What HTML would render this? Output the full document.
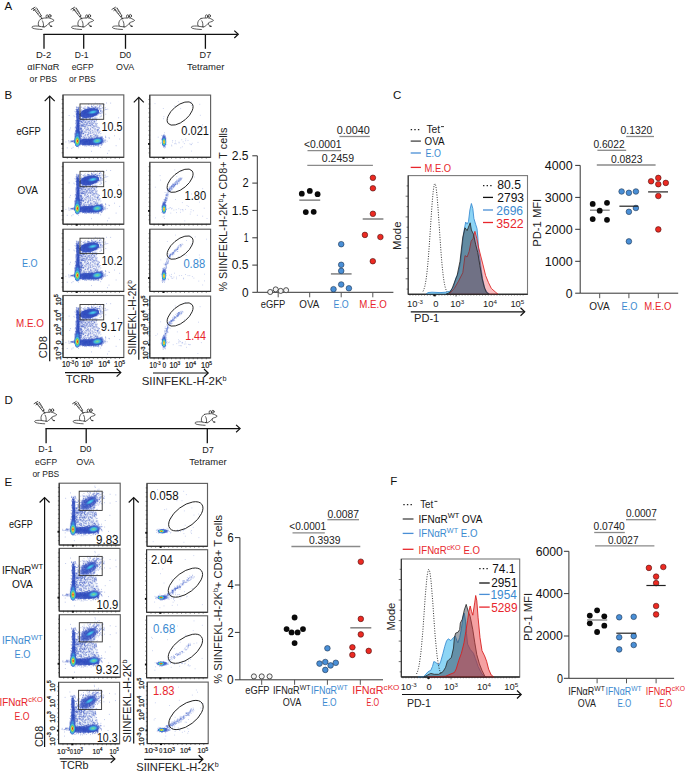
<!DOCTYPE html>
<html><head><meta charset="utf-8"><style>
html,body{margin:0;padding:0;background:#fff;overflow:hidden;}
svg{display:block;font-family:"Liberation Sans", sans-serif;}
</style></head><body>
<svg width="685" height="771" viewBox="0 0 685 771">
<defs><filter id="bl06" x="-20%" y="-20%" width="140%" height="140%"><feGaussianBlur stdDeviation="0.6"/></filter></defs>
<rect width="685" height="771" fill="#fff"/>
<text x="4.50" y="9.60" font-size="11.5" fill="#111" text-anchor="start">A</text>
<line x1="43.50" y1="34.30" x2="237.50" y2="34.30" stroke="#111" stroke-width="1.3"/>
<path d="M234.3 30.6 L238.3 34.3 L234.3 38" fill="none" stroke="#111" stroke-width="1.2"/>
<line x1="44.00" y1="34.00" x2="44.00" y2="48.80" stroke="#111" stroke-width="1.3"/>
<line x1="83.70" y1="34.00" x2="83.70" y2="48.80" stroke="#111" stroke-width="1.3"/>
<line x1="125.50" y1="34.00" x2="125.50" y2="48.80" stroke="#111" stroke-width="1.3"/>
<line x1="205.40" y1="34.00" x2="205.40" y2="48.80" stroke="#111" stroke-width="1.3"/>
<g transform="translate(28.00,4.00)"><g fill="none" stroke="#262626" stroke-width="0.75" stroke-linecap="round" stroke-linejoin="round">
<path d="M13.6 14.5 C11.7 15.4 10.6 17.1 10.3 19.1 C10.1 20.6 10.4 21.6 11.1 22.3 L13.2 22.6"/>
<path d="M14.4 16.8 C15.3 18.2 15.7 20.3 15.4 22.4"/>
<path d="M13.6 14.5 C15.4 14 17 13.9 18.4 14"/>
<ellipse cx="19.2" cy="12.4" rx="1.2" ry="1.6"/>
<ellipse cx="21.9" cy="11.9" rx="1.1" ry="1.5"/>
<path d="M20.6 13.9 C22.5 14.1 24.5 15.1 26.1 16.4 C25.3 17.3 24.3 17.8 23.2 17.9 C22.4 18 21.7 18.4 21.2 19"/>
<path d="M21.2 19 C20.9 20.3 21.3 21.3 22.3 21.9 L23.9 22.3"/>
<path d="M17.3 22.4 C18.6 21.8 19.6 21 20.3 19.8"/>
<path d="M10.8 22.1 C8.2 21.9 5.8 22 4.7 22.4 C3.6 22.9 3.8 23.8 5 24.3 C7 25 10.5 25.3 14 25.5"/>
</g>
<path d="M13.6 22.2 L17.2 22.6 L16.6 23.5 L14 23.3 Z" fill="#222"/>
<path d="M22 21.6 L24.2 22 L23.6 22.9 L22.3 22.7 Z" fill="#333"/><g fill="none" stroke="#2a2a2a" stroke-width="0.8" stroke-linecap="round" stroke-linejoin="round">
<path d="M3.4 5.4 L7 3.2 M5.2 4.3 L6.3 5.6 M5.3 6.6 L7.6 4.9 M6.4 5.8 L12.1 12.8 M8.6 3.9 L13.3 11.8 M12.1 12.8 L13.3 11.8 M12.7 12.3 L14 15"/>
<path d="M7.6 6.9 L9.2 5.8 M8.7 8.3 L10.3 7.2 M9.8 9.7 L11.4 8.6" stroke-width="0.5"/>
</g></g>
<g transform="translate(67.60,4.00)"><g fill="none" stroke="#262626" stroke-width="0.75" stroke-linecap="round" stroke-linejoin="round">
<path d="M13.6 14.5 C11.7 15.4 10.6 17.1 10.3 19.1 C10.1 20.6 10.4 21.6 11.1 22.3 L13.2 22.6"/>
<path d="M14.4 16.8 C15.3 18.2 15.7 20.3 15.4 22.4"/>
<path d="M13.6 14.5 C15.4 14 17 13.9 18.4 14"/>
<ellipse cx="19.2" cy="12.4" rx="1.2" ry="1.6"/>
<ellipse cx="21.9" cy="11.9" rx="1.1" ry="1.5"/>
<path d="M20.6 13.9 C22.5 14.1 24.5 15.1 26.1 16.4 C25.3 17.3 24.3 17.8 23.2 17.9 C22.4 18 21.7 18.4 21.2 19"/>
<path d="M21.2 19 C20.9 20.3 21.3 21.3 22.3 21.9 L23.9 22.3"/>
<path d="M17.3 22.4 C18.6 21.8 19.6 21 20.3 19.8"/>
<path d="M10.8 22.1 C8.2 21.9 5.8 22 4.7 22.4 C3.6 22.9 3.8 23.8 5 24.3 C7 25 10.5 25.3 14 25.5"/>
</g>
<path d="M13.6 22.2 L17.2 22.6 L16.6 23.5 L14 23.3 Z" fill="#222"/>
<path d="M22 21.6 L24.2 22 L23.6 22.9 L22.3 22.7 Z" fill="#333"/><g fill="none" stroke="#2a2a2a" stroke-width="0.8" stroke-linecap="round" stroke-linejoin="round">
<path d="M3.4 5.4 L7 3.2 M5.2 4.3 L6.3 5.6 M5.3 6.6 L7.6 4.9 M6.4 5.8 L12.1 12.8 M8.6 3.9 L13.3 11.8 M12.1 12.8 L13.3 11.8 M12.7 12.3 L14 15"/>
<path d="M7.6 6.9 L9.2 5.8 M8.7 8.3 L10.3 7.2 M9.8 9.7 L11.4 8.6" stroke-width="0.5"/>
</g></g>
<g transform="translate(108.50,4.00)"><g fill="none" stroke="#262626" stroke-width="0.75" stroke-linecap="round" stroke-linejoin="round">
<path d="M13.6 14.5 C11.7 15.4 10.6 17.1 10.3 19.1 C10.1 20.6 10.4 21.6 11.1 22.3 L13.2 22.6"/>
<path d="M14.4 16.8 C15.3 18.2 15.7 20.3 15.4 22.4"/>
<path d="M13.6 14.5 C15.4 14 17 13.9 18.4 14"/>
<ellipse cx="19.2" cy="12.4" rx="1.2" ry="1.6"/>
<ellipse cx="21.9" cy="11.9" rx="1.1" ry="1.5"/>
<path d="M20.6 13.9 C22.5 14.1 24.5 15.1 26.1 16.4 C25.3 17.3 24.3 17.8 23.2 17.9 C22.4 18 21.7 18.4 21.2 19"/>
<path d="M21.2 19 C20.9 20.3 21.3 21.3 22.3 21.9 L23.9 22.3"/>
<path d="M17.3 22.4 C18.6 21.8 19.6 21 20.3 19.8"/>
<path d="M10.8 22.1 C8.2 21.9 5.8 22 4.7 22.4 C3.6 22.9 3.8 23.8 5 24.3 C7 25 10.5 25.3 14 25.5"/>
</g>
<path d="M13.6 22.2 L17.2 22.6 L16.6 23.5 L14 23.3 Z" fill="#222"/>
<path d="M22 21.6 L24.2 22 L23.6 22.9 L22.3 22.7 Z" fill="#333"/><g fill="none" stroke="#2a2a2a" stroke-width="0.8" stroke-linecap="round" stroke-linejoin="round">
<path d="M3.4 5.4 L7 3.2 M5.2 4.3 L6.3 5.6 M5.3 6.6 L7.6 4.9 M6.4 5.8 L12.1 12.8 M8.6 3.9 L13.3 11.8 M12.1 12.8 L13.3 11.8 M12.7 12.3 L14 15"/>
<path d="M7.6 6.9 L9.2 5.8 M8.7 8.3 L10.3 7.2 M9.8 9.7 L11.4 8.6" stroke-width="0.5"/>
</g></g>
<g transform="translate(187.40,4.00)"><g fill="none" stroke="#262626" stroke-width="0.75" stroke-linecap="round" stroke-linejoin="round">
<path d="M13.6 14.5 C11.7 15.4 10.6 17.1 10.3 19.1 C10.1 20.6 10.4 21.6 11.1 22.3 L13.2 22.6"/>
<path d="M14.4 16.8 C15.3 18.2 15.7 20.3 15.4 22.4"/>
<path d="M13.6 14.5 C15.4 14 17 13.9 18.4 14"/>
<ellipse cx="19.2" cy="12.4" rx="1.2" ry="1.6"/>
<ellipse cx="21.9" cy="11.9" rx="1.1" ry="1.5"/>
<path d="M20.6 13.9 C22.5 14.1 24.5 15.1 26.1 16.4 C25.3 17.3 24.3 17.8 23.2 17.9 C22.4 18 21.7 18.4 21.2 19"/>
<path d="M21.2 19 C20.9 20.3 21.3 21.3 22.3 21.9 L23.9 22.3"/>
<path d="M17.3 22.4 C18.6 21.8 19.6 21 20.3 19.8"/>
<path d="M10.8 22.1 C8.2 21.9 5.8 22 4.7 22.4 C3.6 22.9 3.8 23.8 5 24.3 C7 25 10.5 25.3 14 25.5"/>
</g>
<path d="M13.6 22.2 L17.2 22.6 L16.6 23.5 L14 23.3 Z" fill="#222"/>
<path d="M22 21.6 L24.2 22 L23.6 22.9 L22.3 22.7 Z" fill="#333"/></g>
<text x="36.00" y="57.80" font-size="9.6" fill="#222" text-anchor="start" textLength="15.2" lengthAdjust="spacingAndGlyphs">D-2</text>
<text x="27.20" y="69.60" font-size="9.6" fill="#222" text-anchor="start" textLength="32.2" lengthAdjust="spacingAndGlyphs">&#945;IFN&#945;R</text>
<text x="29.60" y="82.00" font-size="9.6" fill="#222" text-anchor="start" textLength="27.4" lengthAdjust="spacingAndGlyphs">or PBS</text>
<text x="74.80" y="57.80" font-size="9.6" fill="#222" text-anchor="start" textLength="13.8" lengthAdjust="spacingAndGlyphs">D-1</text>
<text x="71.70" y="69.60" font-size="9.6" fill="#222" text-anchor="start" textLength="21.9" lengthAdjust="spacingAndGlyphs">eGFP</text>
<text x="69.00" y="82.00" font-size="9.6" fill="#222" text-anchor="start" textLength="26.7" lengthAdjust="spacingAndGlyphs">or PBS</text>
<text x="119.50" y="57.80" font-size="9.6" fill="#222" text-anchor="start" textLength="11.7" lengthAdjust="spacingAndGlyphs">D0</text>
<text x="116.00" y="69.60" font-size="9.6" fill="#222" text-anchor="start" textLength="18.2" lengthAdjust="spacingAndGlyphs">OVA</text>
<text x="199.60" y="57.80" font-size="9.6" fill="#222" text-anchor="start" textLength="11.6" lengthAdjust="spacingAndGlyphs">D7</text>
<text x="187.00" y="69.60" font-size="9.6" fill="#222" text-anchor="start" textLength="37.4" lengthAdjust="spacingAndGlyphs">Tetramer</text>
<text x="4.40" y="404.40" font-size="11.5" fill="#111" text-anchor="start">D</text>
<line x1="45.60" y1="428.60" x2="239.50" y2="428.60" stroke="#111" stroke-width="1.3"/>
<path d="M236.1 424.9 L240.1 428.6 L236.1 432.3" fill="none" stroke="#111" stroke-width="1.2"/>
<line x1="46.10" y1="428.30" x2="46.10" y2="443.20" stroke="#111" stroke-width="1.3"/>
<line x1="86.20" y1="428.30" x2="86.20" y2="443.20" stroke="#111" stroke-width="1.3"/>
<line x1="207.30" y1="428.30" x2="207.30" y2="443.20" stroke="#111" stroke-width="1.3"/>
<g transform="translate(30.70,398.30)"><g fill="none" stroke="#262626" stroke-width="0.75" stroke-linecap="round" stroke-linejoin="round">
<path d="M13.6 14.5 C11.7 15.4 10.6 17.1 10.3 19.1 C10.1 20.6 10.4 21.6 11.1 22.3 L13.2 22.6"/>
<path d="M14.4 16.8 C15.3 18.2 15.7 20.3 15.4 22.4"/>
<path d="M13.6 14.5 C15.4 14 17 13.9 18.4 14"/>
<ellipse cx="19.2" cy="12.4" rx="1.2" ry="1.6"/>
<ellipse cx="21.9" cy="11.9" rx="1.1" ry="1.5"/>
<path d="M20.6 13.9 C22.5 14.1 24.5 15.1 26.1 16.4 C25.3 17.3 24.3 17.8 23.2 17.9 C22.4 18 21.7 18.4 21.2 19"/>
<path d="M21.2 19 C20.9 20.3 21.3 21.3 22.3 21.9 L23.9 22.3"/>
<path d="M17.3 22.4 C18.6 21.8 19.6 21 20.3 19.8"/>
<path d="M10.8 22.1 C8.2 21.9 5.8 22 4.7 22.4 C3.6 22.9 3.8 23.8 5 24.3 C7 25 10.5 25.3 14 25.5"/>
</g>
<path d="M13.6 22.2 L17.2 22.6 L16.6 23.5 L14 23.3 Z" fill="#222"/>
<path d="M22 21.6 L24.2 22 L23.6 22.9 L22.3 22.7 Z" fill="#333"/><g fill="none" stroke="#2a2a2a" stroke-width="0.8" stroke-linecap="round" stroke-linejoin="round">
<path d="M3.4 5.4 L7 3.2 M5.2 4.3 L6.3 5.6 M5.3 6.6 L7.6 4.9 M6.4 5.8 L12.1 12.8 M8.6 3.9 L13.3 11.8 M12.1 12.8 L13.3 11.8 M12.7 12.3 L14 15"/>
<path d="M7.6 6.9 L9.2 5.8 M8.7 8.3 L10.3 7.2 M9.8 9.7 L11.4 8.6" stroke-width="0.5"/>
</g></g>
<g transform="translate(69.20,398.30)"><g fill="none" stroke="#262626" stroke-width="0.75" stroke-linecap="round" stroke-linejoin="round">
<path d="M13.6 14.5 C11.7 15.4 10.6 17.1 10.3 19.1 C10.1 20.6 10.4 21.6 11.1 22.3 L13.2 22.6"/>
<path d="M14.4 16.8 C15.3 18.2 15.7 20.3 15.4 22.4"/>
<path d="M13.6 14.5 C15.4 14 17 13.9 18.4 14"/>
<ellipse cx="19.2" cy="12.4" rx="1.2" ry="1.6"/>
<ellipse cx="21.9" cy="11.9" rx="1.1" ry="1.5"/>
<path d="M20.6 13.9 C22.5 14.1 24.5 15.1 26.1 16.4 C25.3 17.3 24.3 17.8 23.2 17.9 C22.4 18 21.7 18.4 21.2 19"/>
<path d="M21.2 19 C20.9 20.3 21.3 21.3 22.3 21.9 L23.9 22.3"/>
<path d="M17.3 22.4 C18.6 21.8 19.6 21 20.3 19.8"/>
<path d="M10.8 22.1 C8.2 21.9 5.8 22 4.7 22.4 C3.6 22.9 3.8 23.8 5 24.3 C7 25 10.5 25.3 14 25.5"/>
</g>
<path d="M13.6 22.2 L17.2 22.6 L16.6 23.5 L14 23.3 Z" fill="#222"/>
<path d="M22 21.6 L24.2 22 L23.6 22.9 L22.3 22.7 Z" fill="#333"/><g fill="none" stroke="#2a2a2a" stroke-width="0.8" stroke-linecap="round" stroke-linejoin="round">
<path d="M3.4 5.4 L7 3.2 M5.2 4.3 L6.3 5.6 M5.3 6.6 L7.6 4.9 M6.4 5.8 L12.1 12.8 M8.6 3.9 L13.3 11.8 M12.1 12.8 L13.3 11.8 M12.7 12.3 L14 15"/>
<path d="M7.6 6.9 L9.2 5.8 M8.7 8.3 L10.3 7.2 M9.8 9.7 L11.4 8.6" stroke-width="0.5"/>
</g></g>
<g transform="translate(191.10,399.80)"><g fill="none" stroke="#262626" stroke-width="0.75" stroke-linecap="round" stroke-linejoin="round">
<path d="M13.6 14.5 C11.7 15.4 10.6 17.1 10.3 19.1 C10.1 20.6 10.4 21.6 11.1 22.3 L13.2 22.6"/>
<path d="M14.4 16.8 C15.3 18.2 15.7 20.3 15.4 22.4"/>
<path d="M13.6 14.5 C15.4 14 17 13.9 18.4 14"/>
<ellipse cx="19.2" cy="12.4" rx="1.2" ry="1.6"/>
<ellipse cx="21.9" cy="11.9" rx="1.1" ry="1.5"/>
<path d="M20.6 13.9 C22.5 14.1 24.5 15.1 26.1 16.4 C25.3 17.3 24.3 17.8 23.2 17.9 C22.4 18 21.7 18.4 21.2 19"/>
<path d="M21.2 19 C20.9 20.3 21.3 21.3 22.3 21.9 L23.9 22.3"/>
<path d="M17.3 22.4 C18.6 21.8 19.6 21 20.3 19.8"/>
<path d="M10.8 22.1 C8.2 21.9 5.8 22 4.7 22.4 C3.6 22.9 3.8 23.8 5 24.3 C7 25 10.5 25.3 14 25.5"/>
</g>
<path d="M13.6 22.2 L17.2 22.6 L16.6 23.5 L14 23.3 Z" fill="#222"/>
<path d="M22 21.6 L24.2 22 L23.6 22.9 L22.3 22.7 Z" fill="#333"/></g>
<text x="38.30" y="452.30" font-size="9.6" fill="#222" text-anchor="start" textLength="14.3" lengthAdjust="spacingAndGlyphs">D-1</text>
<text x="35.00" y="464.60" font-size="9.6" fill="#222" text-anchor="start" textLength="22.0" lengthAdjust="spacingAndGlyphs">eGFP</text>
<text x="32.40" y="476.90" font-size="9.6" fill="#222" text-anchor="start" textLength="26.8" lengthAdjust="spacingAndGlyphs">or PBS</text>
<text x="79.70" y="452.30" font-size="9.6" fill="#222" text-anchor="start" textLength="11.8" lengthAdjust="spacingAndGlyphs">D0</text>
<text x="76.20" y="464.60" font-size="9.6" fill="#222" text-anchor="start" textLength="18.4" lengthAdjust="spacingAndGlyphs">OVA</text>
<text x="202.30" y="452.60" font-size="9.6" fill="#222" text-anchor="start" textLength="11.6" lengthAdjust="spacingAndGlyphs">D7</text>
<text x="189.30" y="464.60" font-size="9.6" fill="#222" text-anchor="start" textLength="37.3" lengthAdjust="spacingAndGlyphs">Tetramer</text>
<text x="4.50" y="98.60" font-size="11.5" fill="#111" text-anchor="start">B</text>
<defs><g id="cd8B"><g filter="url(#bl06)" fill="#3350c2"><ellipse cx="0" cy="0" rx="10" ry="4.6" transform="translate(26.3,18.2) rotate(-11)" opacity="0.9"/><rect x="13.4" y="15.6" width="3" height="32.9" rx="1.5" opacity="0.75"/><ellipse cx="25.2" cy="47.1" rx="14.0" ry="3.3" opacity="0.85"/><path d="M15.9 23.6 L32.8 23.6 L39.2 44.5 L15.9 44.5 Z" opacity="0.07"/></g><path d="M12.8 28.7h0M14.1 29.2h0M14.4 30.8h0M14.6 31.0h0M15.0 35.5h0M14.5 23.1h0M15.5 15.0h0M13.5 13.2h0M16.3 48.8h0M14.6 34.9h0M16.1 17.6h0M15.0 13.9h0M14.9 18.8h0M15.1 29.2h0M15.6 28.3h0M13.9 35.9h0M14.3 30.5h0M14.0 22.1h0M16.8 49.4h0M14.8 38.4h0M15.0 23.5h0M15.7 14.3h0M13.3 40.6h0M16.0 26.2h0M14.9 47.9h0M14.9 19.5h0M12.1 46.1h0M15.4 26.7h0M13.7 14.4h0M13.6 21.8h0M13.6 14.9h0M17.1 40.3h0M14.9 16.1h0M15.4 13.9h0M15.5 41.8h0M16.1 28.6h0M14.8 18.8h0M14.4 36.0h0M14.3 16.0h0M15.2 21.8h0M15.2 48.4h0M14.1 45.1h0M13.4 19.6h0M16.1 35.9h0M15.6 15.4h0M14.9 21.4h0M14.5 40.9h0M15.6 14.4h0M14.3 15.0h0M14.5 34.4h0M12.5 25.7h0M15.6 29.9h0M15.3 33.4h0M14.4 17.4h0M15.2 46.0h0M14.2 18.8h0M15.5 39.6h0M14.7 47.6h0M14.1 45.0h0M14.3 15.5h0M15.6 13.1h0M14.7 38.3h0M15.5 21.3h0M13.7 22.7h0M14.8 18.2h0M14.5 20.3h0M15.7 32.8h0M13.8 22.2h0M15.0 46.4h0M15.1 21.8h0M15.5 28.5h0M15.1 25.6h0M15.5 33.3h0M15.6 45.4h0M14.1 48.8h0M13.6 33.8h0M15.1 16.9h0M14.9 46.1h0M15.1 38.2h0M14.9 35.7h0M14.8 29.9h0M14.0 49.5h0M13.3 14.5h0M14.4 45.7h0M14.4 39.5h0M13.2 46.3h0M14.0 24.9h0M12.9 44.6h0M15.4 27.4h0M13.0 33.3h0M13.9 35.3h0M15.8 34.7h0M12.9 14.6h0M12.5 44.9h0M13.7 39.2h0M16.0 33.6h0M15.1 28.3h0M14.5 40.0h0M14.0 12.7h0M14.2 20.3h0M13.5 38.1h0M14.9 46.5h0M15.7 21.3h0M15.0 37.3h0M16.0 19.3h0M16.8 36.6h0M15.6 28.3h0M14.3 36.8h0M13.3 19.1h0M15.7 46.2h0M13.9 45.0h0M15.8 23.6h0M13.0 16.8h0M14.9 43.8h0M15.7 38.6h0M14.7 18.0h0M14.8 28.7h0M15.6 27.3h0M14.0 35.3h0M14.9 43.4h0M14.5 48.8h0M15.0 12.8h0M16.4 44.7h0M15.3 33.2h0M15.0 23.3h0M14.7 16.7h0M16.8 28.8h0M15.2 20.6h0M16.2 16.9h0M15.3 28.5h0M13.9 35.5h0M13.4 47.9h0M15.3 37.5h0M16.0 18.4h0M13.3 12.0h0M15.2 18.4h0M14.0 21.9h0M16.2 31.3h0M14.9 34.9h0M13.9 41.6h0M16.9 45.9h0M16.1 39.0h0M13.6 16.5h0M15.3 46.1h0M13.0 25.9h0M14.0 41.8h0M13.5 47.4h0M15.2 19.4h0M15.5 39.0h0M13.6 38.8h0M17.2 19.7h0M13.3 48.6h0M15.1 32.0h0M14.0 46.1h0M14.7 44.0h0M15.2 28.3h0M15.0 32.5h0M13.8 12.7h0M16.6 42.3h0M15.6 18.2h0M15.0 24.3h0M14.4 17.2h0M14.6 31.2h0M13.0 37.7h0M12.5 47.4h0M15.0 14.9h0M14.1 20.0h0M14.8 39.2h0M13.0 35.8h0M14.6 32.8h0M13.5 23.4h0M16.2 45.7h0M16.5 19.5h0M12.8 31.5h0M15.3 33.3h0M16.1 30.7h0M17.5 34.5h0M15.4 31.2h0M15.3 26.8h0M13.7 30.2h0M16.0 37.8h0M15.4 27.3h0M15.6 47.9h0M14.5 29.5h0M13.2 16.4h0M15.6 45.7h0M14.6 29.7h0M15.5 35.0h0M16.1 46.7h0M16.2 12.5h0M15.1 19.0h0M16.4 23.8h0M14.6 25.1h0M14.6 39.3h0M14.1 16.3h0M14.9 19.1h0M14.0 31.7h0M15.3 27.3h0M15.3 31.7h0M15.5 35.5h0M13.0 35.8h0M14.5 34.8h0M15.1 44.1h0M16.5 42.3h0M14.6 45.8h0M15.7 46.6h0M17.0 19.9h0M14.9 16.7h0M14.8 20.7h0M14.1 15.3h0M13.3 43.1h0M15.7 16.4h0M14.8 26.9h0M14.7 19.2h0M17.1 37.5h0M13.5 16.0h0M15.0 30.8h0M13.7 37.6h0M15.3 18.8h0M15.1 13.0h0M13.6 32.5h0M14.8 17.2h0M15.4 18.6h0M16.7 49.1h0M15.2 46.7h0M15.1 47.7h0M15.0 29.1h0M14.0 29.3h0M13.7 31.1h0M15.5 12.1h0M15.3 38.2h0M14.4 28.8h0M14.4 39.6h0M15.3 17.9h0M17.0 31.0h0M15.1 42.0h0M15.8 38.3h0M13.8 26.9h0M12.1 34.3h0M14.8 42.1h0M16.3 21.4h0M14.0 41.1h0M13.1 42.5h0M16.1 44.9h0M15.1 37.9h0M13.2 27.0h0M15.7 39.0h0M15.3 29.4h0M14.0 12.0h0M16.0 35.3h0M16.3 20.4h0M14.4 24.4h0M13.8 36.6h0M14.4 26.4h0M13.9 49.5h0M13.7 40.5h0M16.3 48.7h0M15.1 39.6h0M14.6 21.3h0M15.1 19.0h0M15.5 25.8h0M15.3 45.9h0M12.3 32.4h0M14.8 33.1h0M13.7 49.3h0M13.5 14.5h0M14.9 34.2h0M14.6 46.9h0M14.3 17.7h0M15.0 30.4h0M17.1 34.8h0M15.8 27.5h0M14.1 31.6h0M14.3 22.4h0M14.1 36.4h0M14.6 38.8h0M15.6 22.8h0M15.0 13.2h0M14.9 17.5h0M13.9 45.6h0M17.7 40.0h0M15.8 47.4h0M15.8 14.4h0M14.3 29.7h0M14.9 48.5h0M16.1 47.1h0M12.2 39.0h0M15.4 42.6h0M15.9 34.5h0M15.8 28.9h0M16.1 19.3h0M15.3 16.3h0M14.4 28.4h0M13.9 21.5h0M13.4 33.7h0M15.7 31.7h0M16.5 49.4h0M14.4 20.6h0M16.3 15.9h0M13.8 35.3h0M14.7 25.2h0M16.4 33.0h0M13.8 34.0h0M13.7 18.8h0M17.1 21.0h0M14.6 44.9h0M15.6 13.1h0M15.2 27.7h0M15.9 35.2h0M15.6 14.3h0M14.3 14.9h0M13.8 35.5h0M14.2 25.7h0M15.0 24.6h0M15.1 39.8h0M14.6 16.1h0M13.7 42.3h0M13.7 19.7h0M14.8 27.7h0M16.7 25.6h0M15.8 36.4h0M14.8 32.4h0M15.8 39.9h0M14.4 25.6h0M15.2 15.3h0M14.6 14.7h0M13.4 33.0h0M15.0 22.9h0M15.5 41.0h0M15.2 36.7h0M14.4 14.7h0M16.4 37.9h0M15.5 22.3h0M15.6 39.1h0M16.1 25.5h0M16.0 33.2h0M17.0 46.4h0M14.1 28.2h0M14.6 42.0h0M15.7 26.7h0M15.5 47.0h0M14.4 25.3h0M14.2 25.5h0M15.7 26.3h0M13.3 19.0h0M14.2 32.1h0M14.3 43.3h0M14.7 40.4h0M14.9 45.0h0M15.1 31.1h0M12.5 32.2h0M13.8 36.3h0M16.1 42.1h0M15.4 41.5h0M16.3 14.8h0M15.7 45.7h0M14.5 14.8h0M14.5 39.9h0M14.9 36.2h0M15.6 40.6h0M15.0 31.4h0M13.9 24.4h0M14.4 48.3h0M13.9 32.0h0M14.3 38.9h0M12.8 27.2h0M13.9 42.9h0M13.2 42.1h0M16.8 43.2h0M13.3 35.9h0M14.5 31.5h0M13.2 27.6h0M15.9 27.5h0M16.2 49.2h0M15.2 25.8h0M15.5 27.7h0M15.2 22.7h0M14.8 23.3h0M13.9 16.0h0M13.5 18.4h0M21.8 24.0h0M34.6 35.4h0M16.0 23.4h0M17.8 26.6h0M27.9 27.8h0M18.3 35.6h0M18.8 26.7h0M28.5 26.4h0M24.4 29.4h0M24.5 40.5h0M32.0 28.3h0M21.4 42.6h0M35.7 34.6h0M18.2 33.2h0M32.0 23.7h0M22.1 40.2h0M24.4 34.2h0M34.6 28.6h0M18.7 37.0h0M21.9 22.8h0M30.4 30.7h0M27.3 38.2h0M16.8 26.0h0M18.7 29.6h0M25.5 41.6h0M37.3 36.5h0M24.0 28.4h0M28.6 25.9h0M28.9 22.6h0M33.8 41.1h0M18.5 24.4h0M16.2 38.3h0M23.2 33.1h0M27.7 43.5h0M20.4 41.4h0M22.9 39.9h0M16.1 42.7h0M18.3 40.7h0M24.7 34.5h0M30.1 26.1h0M19.6 29.4h0M19.1 24.3h0M28.9 32.8h0M27.8 30.5h0M20.7 24.9h0M35.3 32.7h0M29.0 40.8h0M20.2 22.9h0M18.7 38.1h0M23.2 35.0h0M32.7 22.8h0M18.2 40.1h0M19.7 36.1h0M24.5 30.8h0M20.1 29.1h0M27.4 31.2h0M17.5 28.2h0M20.7 38.6h0M27.0 43.3h0M20.8 38.5h0M16.1 40.7h0M15.9 25.7h0M29.8 37.4h0M21.1 26.5h0M27.4 40.9h0M17.8 24.6h0M16.3 26.0h0M15.7 31.5h0M23.4 42.8h0M27.5 33.8h0M33.3 39.4h0M20.1 31.1h0M15.0 31.6h0M28.3 31.4h0M33.6 44.1h0M27.1 37.1h0M19.4 23.0h0M26.8 30.1h0M20.4 24.9h0M31.0 33.8h0M27.9 40.7h0M28.6 26.1h0M26.5 42.4h0M23.5 30.3h0M27.3 25.7h0M25.9 44.2h0M33.4 38.3h0M32.9 26.9h0M17.9 36.3h0M18.1 24.4h0M29.0 35.2h0M33.4 29.8h0M22.8 30.5h0M33.1 25.3h0M31.6 25.6h0M25.5 34.5h0M19.1 34.9h0M39.3 42.5h0M27.6 40.5h0M29.7 25.3h0M32.4 28.9h0M24.7 27.9h0M17.8 40.8h0M15.8 34.6h0M17.0 23.3h0M38.2 44.2h0M20.1 37.0h0M30.5 37.3h0M25.7 31.0h0M15.0 40.2h0M22.4 27.0h0M20.7 25.7h0M17.4 35.1h0M19.0 34.0h0M20.5 35.0h0M15.3 36.7h0M16.9 37.3h0M28.1 43.6h0M21.9 32.9h0M29.0 36.3h0M31.4 39.2h0M36.3 33.2h0M34.7 41.0h0M22.3 31.6h0M34.4 35.0h0M24.6 34.1h0M33.5 32.1h0M15.4 29.6h0M35.3 38.5h0M27.1 38.6h0M20.2 39.1h0M15.7 35.6h0M21.8 25.3h0M21.7 33.6h0M26.5 23.7h0M18.5 34.1h0M21.2 29.3h0M15.6 27.8h0M38.5 42.6h0M34.0 37.2h0M30.9 31.8h0M28.5 27.5h0M34.4 35.0h0M28.8 24.8h0M23.6 25.3h0M14.9 43.4h0M19.3 27.9h0M15.5 29.7h0M33.9 42.2h0M20.6 31.3h0M15.4 35.4h0M30.8 23.3h0M23.4 29.3h0M39.0 43.1h0M17.9 33.0h0M33.1 29.1h0M18.1 42.2h0M21.5 41.0h0M17.3 32.9h0M39.2 41.9h0M25.8 27.0h0M31.4 26.8h0M16.0 23.7h0M20.3 38.5h0M35.5 42.3h0M16.8 38.2h0M36.2 37.8h0M15.8 32.3h0M19.4 27.5h0M17.9 38.2h0M18.1 26.6h0M31.9 37.2h0M27.2 30.8h0M27.5 42.0h0M19.3 27.6h0M29.8 42.9h0M26.3 28.7h0M33.1 24.6h0M24.4 32.2h0M15.4 34.2h0M19.5 35.7h0M29.9 28.1h0M18.8 24.5h0M19.0 39.1h0M24.3 28.7h0M31.7 26.7h0M15.3 44.2h0M29.8 32.7h0M33.8 31.0h0M17.4 33.5h0M27.6 34.8h0M27.1 30.5h0M25.3 39.7h0M32.4 33.7h0M25.1 37.6h0M17.7 43.4h0M17.4 39.7h0M18.6 35.9h0M30.2 32.2h0M32.6 39.8h0M22.9 27.8h0M24.8 27.4h0M15.2 33.5h0M29.6 35.7h0M33.6 35.1h0M16.7 26.5h0M22.4 23.0h0M22.5 32.1h0M29.9 28.4h0M31.2 24.2h0M25.2 35.1h0M18.8 39.9h0M19.3 25.8h0M19.2 23.5h0M25.0 36.2h0M25.1 28.4h0M29.4 24.5h0M18.4 26.4h0M26.9 26.1h0M32.7 40.8h0M20.9 23.9h0M17.9 30.6h0M15.4 43.9h0M30.2 33.3h0M17.1 44.2h0M29.6 32.6h0M18.0 23.5h0M17.0 42.1h0M19.5 31.2h0M15.7 31.9h0M33.0 23.4h0M30.9 39.3h0M18.4 27.6h0M18.6 34.7h0M34.4 32.7h0M20.2 30.6h0M28.5 44.1h0M20.7 23.5h0M15.6 36.8h0M27.9 30.1h0M27.5 41.5h0M24.2 42.0h0M31.7 31.2h0M30.1 30.9h0M20.1 27.3h0M24.0 26.6h0M17.5 26.2h0M22.4 27.3h0M22.3 29.4h0M30.5 44.4h0M18.2 41.5h0M15.7 31.0h0M21.4 37.7h0M15.0 28.6h0M18.5 26.6h0M33.7 31.2h0M19.4 38.3h0M16.9 30.5h0M21.8 43.1h0M30.6 39.4h0M15.1 42.5h0M21.0 29.7h0M30.7 24.4h0M29.6 29.7h0M15.5 34.0h0M18.4 31.2h0M16.6 23.5h0M15.2 35.6h0M21.8 29.4h0M16.7 34.5h0M19.2 38.1h0M28.9 38.5h0M17.5 25.8h0M28.0 28.7h0M21.3 31.5h0M18.7 41.6h0M20.2 29.0h0M15.3 27.3h0M25.1 23.1h0M31.8 35.0h0M20.4 44.0h0M35.5 37.3h0M27.1 27.3h0M36.5 37.2h0M18.9 41.6h0M16.0 36.5h0M21.4 32.0h0M20.4 23.9h0M23.4 29.8h0M16.9 28.7h0M23.1 31.4h0M26.4 26.3h0M15.9 27.9h0M21.9 30.1h0M24.6 25.9h0M25.9 38.0h0M15.1 37.9h0M20.8 31.2h0M20.8 24.0h0M22.5 23.8h0M23.5 35.4h0M18.6 29.7h0M19.7 23.1h0M26.9 42.1h0M26.9 28.3h0M22.4 26.7h0M36.1 36.1h0M25.2 30.5h0M32.9 43.2h0M27.3 36.3h0M21.9 31.6h0M30.7 28.6h0M22.2 41.9h0M15.3 42.5h0M23.0 25.6h0M20.5 29.4h0M17.2 44.0h0M18.0 26.8h0M18.6 37.5h0M23.3 22.6h0M18.4 31.2h0M27.5 33.4h0M27.1 34.6h0M32.4 34.9h0M21.3 43.8h0M32.5 30.2h0M28.2 29.5h0M29.3 37.8h0M34.6 43.7h0M25.4 26.1h0M25.4 33.3h0M19.2 30.7h0M25.6 39.0h0M18.4 27.8h0M17.2 29.7h0M16.5 33.9h0M15.5 24.0h0M26.9 24.8h0M21.8 25.1h0M24.4 39.5h0M30.9 26.2h0M15.5 41.6h0M23.4 28.2h0M22.3 40.0h0M19.0 38.3h0M20.6 38.3h0M29.3 29.9h0M34.0 41.1h0M22.4 35.0h0M27.7 38.1h0M33.1 40.8h0M20.5 25.3h0M18.6 37.3h0M15.0 26.6h0M35.5 35.4h0M16.9 43.9h0M22.7 37.7h0M22.0 36.4h0M39.4 43.0h0M26.9 23.7h0M15.3 25.2h0M28.4 28.9h0M16.7 44.4h0M15.1 29.8h0M23.7 34.5h0M19.7 30.8h0M34.0 40.1h0M21.1 28.8h0M31.0 36.1h0M22.6 44.1h0M25.7 37.8h0M17.1 40.1h0M16.1 26.4h0M19.3 43.0h0M16.4 33.3h0M15.0 29.7h0M16.9 35.0h0M19.4 36.3h0M22.8 27.6h0M18.7 30.6h0M15.5 23.7h0M20.6 42.1h0M17.1 24.3h0M36.3 33.2h0M31.1 27.0h0M22.0 33.2h0M22.4 40.3h0M23.6 23.9h0M27.5 37.0h0M33.3 28.7h0M39.0 41.5h0M31.8 32.3h0M17.5 38.5h0M16.9 23.2h0M15.6 25.2h0M29.3 30.5h0M23.7 29.4h0M17.5 22.8h0M15.0 43.6h0M31.7 34.1h0M31.1 40.0h0M30.8 31.3h0M32.2 40.7h0M16.3 44.2h0M22.9 43.4h0M19.0 38.0h0M15.1 42.5h0M18.4 35.2h0M20.9 31.1h0M32.4 37.0h0M26.6 30.6h0M19.1 30.4h0M20.9 42.4h0M19.6 24.7h0M18.3 38.8h0M25.9 38.9h0M17.5 37.5h0M16.5 24.9h0M22.1 30.3h0M22.5 22.8h0M20.0 31.4h0M35.5 34.4h0M31.5 27.1h0M29.1 29.6h0M33.3 25.0h0M35.0 32.0h0M21.3 27.4h0M17.6 38.1h0M27.1 28.6h0M20.9 43.4h0M20.2 26.6h0M17.2 44.3h0M21.6 36.5h0M18.2 36.7h0M34.3 36.1h0M28.5 41.4h0M25.6 33.7h0M29.9 25.1h0M23.5 37.7h0M22.6 37.2h0M18.2 31.0h0M26.0 35.8h0M15.2 33.9h0M23.1 36.3h0M26.5 35.6h0M17.3 43.0h0M36.1 32.9h0M20.4 38.8h0M37.9 38.7h0M32.4 31.4h0M33.5 25.4h0M18.4 33.4h0M29.0 41.0h0M34.6 43.1h0M25.2 40.1h0M15.7 44.4h0M30.8 41.7h0M30.0 28.1h0M24.7 32.5h0M18.1 41.6h0M26.4 28.7h0M23.7 24.2h0M24.6 39.8h0M29.8 27.9h0M32.4 41.3h0M34.3 34.6h0M17.2 40.0h0M16.1 30.6h0M19.7 23.4h0M34.3 41.5h0M17.1 25.2h0M31.8 31.1h0M34.6 36.1h0M33.1 24.2h0M25.8 27.1h0M31.3 41.8h0M26.6 26.9h0M15.0 32.0h0M19.7 30.0h0M19.5 36.4h0M29.3 46.6h0M17.5 45.9h0M31.6 46.0h0M17.2 47.2h0M37.7 45.6h0M19.2 45.9h0M39.1 45.9h0M23.3 44.1h0M22.0 46.1h0M30.0 47.6h0M24.9 47.8h0M25.7 45.2h0M26.9 48.6h0M31.8 46.4h0M20.2 45.6h0M36.0 46.3h0M21.4 48.7h0M25.6 44.7h0M37.5 44.6h0M29.3 49.0h0M25.5 48.8h0M21.3 47.8h0M25.3 48.5h0M31.6 46.6h0M31.0 47.1h0M17.6 49.0h0M36.6 47.0h0M22.8 49.0h0M34.7 48.5h0M27.9 44.9h0M16.8 47.7h0M23.4 46.5h0M23.6 46.5h0M22.9 44.2h0M36.7 47.4h0M30.1 46.9h0M26.0 45.6h0M22.2 48.6h0M31.0 43.0h0M38.6 43.9h0M39.0 44.2h0M30.5 49.2h0M31.8 47.7h0M25.8 47.0h0M24.3 46.3h0M38.9 45.9h0M19.5 46.3h0M24.1 47.8h0M32.8 48.0h0M30.5 47.6h0M29.8 46.9h0M34.5 45.5h0M32.5 47.2h0M26.0 46.1h0M14.7 49.9h0M36.6 43.5h0M14.9 45.6h0M27.6 48.9h0M17.1 47.4h0M26.9 45.4h0M17.4 46.1h0M16.5 46.6h0M27.1 46.1h0M20.4 50.2h0M24.6 48.3h0M25.5 47.4h0M28.2 43.4h0M16.9 47.9h0M35.5 49.8h0M27.4 51.2h0M24.4 44.1h0M38.3 44.5h0M24.6 48.1h0M34.7 47.1h0M32.6 46.7h0M27.5 45.9h0M15.0 48.2h0M38.4 48.0h0M30.3 47.3h0M24.7 46.5h0M16.3 46.9h0M37.2 47.9h0M22.5 44.2h0M36.4 47.2h0M37.9 45.0h0M36.8 46.1h0M24.1 46.0h0M20.7 50.0h0M23.5 45.0h0M23.2 47.9h0M25.0 46.4h0M35.1 47.2h0M15.8 44.6h0M24.3 46.6h0M19.8 48.5h0M22.1 48.1h0M26.4 47.4h0M26.4 50.1h0M14.5 42.9h0M14.5 49.7h0M29.1 48.8h0M29.2 46.6h0M23.5 46.2h0M29.0 49.5h0M22.1 44.7h0M33.1 47.0h0M15.6 48.2h0M21.0 47.8h0M34.1 43.6h0M24.3 48.7h0M21.4 46.7h0M38.8 46.3h0M35.0 46.2h0M34.7 48.5h0M33.9 46.6h0M33.3 46.5h0M15.5 45.3h0M37.4 45.3h0M30.2 51.4h0M33.0 47.6h0M28.7 50.1h0M24.7 47.1h0M31.2 51.2h0M16.2 46.6h0M33.8 44.0h0M23.7 48.2h0M25.4 46.1h0M22.3 47.4h0M32.6 47.8h0M35.1 47.4h0M30.9 46.1h0M17.2 46.7h0M22.0 49.3h0M37.3 46.3h0M19.6 45.0h0M35.2 48.2h0M17.4 48.5h0M15.1 45.5h0M25.1 45.0h0M37.4 49.0h0M26.6 46.3h0M33.7 45.3h0M16.9 46.9h0M28.9 45.9h0M19.3 46.4h0M23.0 47.9h0M29.0 45.1h0M28.6 46.8h0M35.3 45.4h0M26.3 49.0h0M38.7 45.6h0M20.1 49.6h0M20.8 46.7h0M20.7 44.5h0M15.9 47.8h0M32.1 45.4h0M25.1 45.2h0M38.6 45.4h0M36.9 44.9h0M20.1 47.6h0M33.1 48.3h0M35.4 48.0h0M15.2 46.2h0M28.0 44.7h0M22.6 49.7h0M33.3 50.8h0M34.4 49.7h0M19.7 48.9h0M19.3 44.5h0M17.3 46.4h0M33.3 43.5h0M37.3 45.0h0M31.5 43.9h0M32.2 50.5h0M21.5 48.9h0M20.9 44.6h0M20.5 49.3h0M20.6 47.3h0M21.6 47.0h0M26.4 48.0h0M21.1 46.7h0M27.0 48.5h0M36.1 49.0h0M35.6 50.2h0M29.5 44.0h0M27.6 46.2h0M30.7 49.9h0M20.8 45.4h0M15.7 48.7h0M33.9 46.3h0M20.1 45.3h0M32.5 47.5h0M37.8 44.5h0M23.0 46.9h0M20.1 47.9h0M37.7 46.7h0M30.7 50.7h0M16.8 48.8h0M28.4 51.2h0M22.0 50.9h0M36.0 49.6h0M16.0 48.1h0M15.0 42.1h0M31.4 44.7h0M35.6 47.5h0M16.2 44.7h0M27.4 47.9h0M23.1 49.1h0M26.7 48.0h0M24.7 49.8h0M26.4 48.9h0M28.2 48.0h0M38.5 46.1h0M21.8 46.6h0M22.7 45.7h0M38.6 42.7h0M38.0 50.4h0M37.6 45.3h0M14.8 44.5h0M31.4 47.2h0M29.6 43.7h0M16.5 44.1h0M27.2 47.5h0M17.1 46.9h0M35.9 47.4h0M15.1 46.9h0M35.0 46.1h0M28.7 44.9h0M33.2 47.0h0M16.0 46.9h0M34.1 50.6h0M24.4 46.4h0M22.7 46.8h0M33.5 47.3h0M20.8 45.0h0M22.7 45.8h0M31.1 45.7h0M36.3 47.4h0M18.7 47.9h0M26.2 48.2h0M33.8 46.3h0M30.6 48.2h0M20.8 45.6h0M36.1 46.8h0M18.9 47.2h0M22.5 48.6h0M32.4 45.5h0M27.7 44.0h0M16.3 47.1h0M19.7 45.6h0M24.6 48.8h0M23.2 46.9h0M37.0 48.9h0M17.7 46.9h0M34.0 47.3h0M34.0 45.3h0M23.7 46.4h0M32.8 49.5h0M26.1 47.1h0M26.7 46.7h0M23.8 50.9h0M17.9 48.7h0M19.4 50.5h0M37.5 43.7h0M22.8 48.0h0M32.1 46.6h0M37.8 47.4h0M31.2 48.0h0M36.3 46.3h0M25.6 42.4h0M23.6 48.1h0M37.7 48.0h0M16.1 47.7h0M15.5 48.6h0M21.9 47.4h0M27.4 47.9h0M27.8 44.1h0M27.4 45.7h0M37.9 48.2h0M16.2 47.7h0M22.0 47.3h0M26.8 42.7h0M18.3 45.8h0M21.6 49.2h0M34.0 49.1h0M29.3 46.6h0M35.4 45.8h0M37.8 47.3h0M38.6 50.2h0M24.3 47.5h0M15.6 47.6h0M32.6 48.0h0M19.6 48.3h0M34.2 47.2h0M26.7 45.8h0M18.8 45.3h0M14.7 46.8h0M20.8 47.5h0M29.7 45.5h0M29.8 48.6h0M22.2 44.6h0M28.8 50.1h0M24.7 45.0h0M22.6 46.5h0M37.1 47.5h0M35.5 51.4h0M36.3 48.2h0M38.8 48.9h0M21.5 48.5h0M20.2 49.7h0M28.8 49.5h0M21.4 50.9h0M16.7 46.3h0M28.2 45.4h0M26.7 49.0h0M23.7 45.9h0M14.3 45.5h0M28.6 47.0h0M30.0 46.2h0M26.7 47.2h0M26.3 43.8h0M21.3 43.1h0M25.3 49.9h0M20.1 48.7h0M34.9 47.4h0M36.8 45.6h0M26.8 44.8h0M37.9 48.1h0M26.5 45.4h0M35.2 47.2h0M26.8 46.3h0M19.7 48.1h0M35.1 48.7h0M37.1 42.0h0M31.4 47.9h0M34.5 44.1h0M34.3 48.6h0M21.9 50.1h0M20.4 47.4h0M27.0 46.8h0M22.8 47.7h0M37.0 44.5h0M37.5 46.6h0M30.9 46.5h0M17.0 50.8h0M22.0 46.6h0M18.9 45.9h0M38.8 44.0h0M29.8 49.2h0M15.8 49.2h0M35.9 47.4h0M36.1 43.7h0M28.5 49.5h0M26.5 46.1h0M23.9 46.8h0M18.3 47.3h0M34.1 47.4h0M33.6 49.7h0M31.6 45.4h0M21.1 46.8h0M19.0 45.3h0M37.8 44.7h0M22.5 50.8h0M21.5 45.1h0M38.0 43.4h0M33.6 43.7h0M22.6 46.6h0M26.4 49.3h0M15.2 48.5h0M26.1 45.2h0M32.8 47.0h0M28.8 48.3h0M20.3 46.7h0M15.6 47.6h0M23.1 42.4h0M30.2 46.2h0M24.6 45.8h0M26.1 47.8h0M38.2 48.5h0M31.4 48.4h0M33.3 44.4h0M37.7 46.1h0M36.8 47.0h0M39.1 49.4h0M27.4 48.2h0M15.7 50.0h0M18.0 45.6h0M32.2 46.5h0M32.4 45.6h0M30.4 49.9h0M31.9 45.1h0M17.0 47.5h0M26.1 50.8h0M15.7 45.9h0M16.1 46.6h0M25.2 49.9h0M17.5 44.8h0M32.8 48.1h0M24.3 45.3h0M29.6 44.7h0M15.5 46.8h0M15.7 46.0h0M26.1 47.7h0M24.0 47.1h0M26.0 50.7h0M35.5 49.9h0M26.4 45.6h0M38.8 46.1h0M17.3 46.6h0M35.9 48.3h0M27.0 45.4h0M36.4 48.0h0M20.7 47.8h0M25.5 44.1h0M23.4 45.1h0M22.2 47.8h0M29.8 45.6h0M33.5 47.9h0M25.6 43.1h0M25.6 47.6h0M23.7 51.2h0M33.9 43.9h0M24.3 45.5h0M21.7 44.3h0M32.3 49.6h0M31.0 46.1h0M25.1 46.2h0M33.5 45.9h0M27.7 48.7h0M32.0 46.8h0M14.7 44.2h0M20.8 48.6h0M29.6 47.3h0M39.0 48.9h0M19.2 47.6h0M28.8 46.7h0M34.7 48.0h0M29.0 45.4h0M32.0 47.2h0M28.7 43.9h0M20.6 46.3h0M27.9 44.7h0M38.9 49.2h0M22.4 49.5h0M32.4 48.4h0M28.4 46.5h0M27.5 45.9h0M29.9 47.0h0M36.5 46.2h0M34.4 45.7h0M24.8 48.6h0M25.8 49.1h0M27.5 49.5h0M38.0 46.9h0M23.1 47.0h0M21.8 46.2h0M31.5 45.7h0M23.8 43.7h0M21.1 45.5h0M14.9 48.8h0M23.6 46.4h0M22.0 46.1h0M36.0 48.3h0M18.7 46.4h0M17.2 49.9h0M32.7 48.7h0M20.9 44.1h0M15.0 47.2h0M34.7 47.8h0M31.8 46.0h0M31.7 45.0h0M19.7 50.3h0M26.1 46.2h0M34.5 48.9h0M28.5 42.7h0M19.9 43.4h0M19.8 46.2h0M38.3 46.3h0M22.8 45.1h0M34.9 47.7h0M37.1 46.5h0M23.1 46.0h0M31.9 47.8h0M36.0 50.8h0M19.9 46.1h0M32.2 48.0h0M15.5 46.8h0M35.2 46.4h0M27.8 46.3h0M15.4 46.6h0M23.1 49.6h0M35.8 46.8h0M15.9 47.3h0M31.7 47.2h0M18.7 46.6h0M31.6 49.8h0M22.3 45.5h0M28.3 47.3h0M23.2 46.1h0M21.6 48.1h0M26.8 18.1h0M24.5 21.7h0M26.7 19.1h0M30.2 14.2h0M21.5 18.4h0M33.9 13.0h0M19.8 15.9h0M23.7 15.0h0M21.9 20.1h0M19.9 18.8h0M19.3 18.4h0M28.8 11.2h0M27.1 18.2h0M26.4 18.4h0M28.5 13.3h0M26.3 19.6h0M33.9 12.1h0M22.2 14.3h0M26.0 14.5h0M21.0 21.0h0M39.3 8.9h0M36.3 13.0h0M31.1 17.8h0M34.2 15.5h0M21.5 18.4h0M31.0 14.1h0M29.2 17.1h0M27.8 17.4h0M30.8 19.2h0M24.7 16.9h0M13.0 17.6h0M17.7 21.3h0M19.7 16.9h0M30.5 19.8h0M33.7 13.7h0M28.8 20.4h0M21.4 17.9h0M18.8 17.2h0M31.1 17.0h0M24.1 16.4h0M36.5 17.9h0M20.3 25.3h0M24.1 17.6h0M23.4 16.5h0M29.8 12.7h0M26.7 16.6h0M37.6 16.6h0M29.7 18.6h0M30.4 17.2h0M11.9 21.7h0M25.1 20.0h0M28.3 15.6h0M20.7 15.7h0M28.4 16.9h0M21.1 17.6h0M28.5 15.3h0M25.6 16.0h0M10.9 20.9h0M27.6 19.8h0M34.3 13.9h0M30.5 17.6h0M27.7 19.9h0M31.4 12.9h0M35.7 15.3h0M22.3 16.4h0M24.7 14.6h0M33.6 17.5h0M21.7 21.0h0M28.2 17.5h0M32.6 16.2h0M25.4 19.3h0M14.8 16.3h0M30.4 20.0h0M16.4 19.6h0M22.5 17.6h0M31.2 21.1h0M38.1 18.2h0M30.7 17.2h0M15.5 20.9h0M18.8 15.8h0M26.6 12.9h0M37.9 17.2h0M29.2 18.5h0M28.3 17.5h0M30.7 14.8h0M28.5 17.7h0M30.9 13.5h0M28.2 16.9h0M30.9 18.4h0M28.1 18.7h0M30.2 21.0h0M28.9 18.8h0M20.9 18.1h0M32.0 19.7h0M20.7 18.6h0M25.1 18.1h0M23.6 16.9h0M26.4 18.0h0M32.5 13.9h0M21.3 21.0h0M29.7 16.5h0M20.3 22.0h0M20.8 22.1h0M28.2 16.9h0M26.2 20.1h0M25.8 12.6h0M21.3 12.3h0M29.7 19.8h0M32.3 12.5h0M40.7 20.3h0M25.0 12.0h0M22.0 21.6h0M39.1 13.6h0M14.9 17.0h0M38.4 15.3h0M17.0 13.3h0M31.1 19.1h0M23.7 17.6h0M27.0 16.5h0M23.1 16.6h0M23.8 21.8h0M29.7 20.0h0M36.7 8.9h0M26.9 20.4h0M25.1 16.1h0M28.9 15.6h0M21.4 17.7h0M27.1 17.5h0M32.2 16.6h0M25.5 26.8h0M25.2 17.1h0M25.5 15.8h0M17.2 20.0h0M34.6 10.7h0M22.4 19.7h0M22.9 19.9h0M25.8 14.5h0M25.1 16.4h0M28.6 9.7h0M30.0 20.9h0M27.8 18.1h0M23.7 19.2h0M25.1 14.1h0M18.2 12.4h0M29.5 17.6h0M33.5 17.0h0M30.2 12.9h0M15.0 18.2h0M24.9 19.0h0M25.8 17.3h0M27.1 18.3h0M28.1 18.3h0M23.6 17.9h0M17.1 16.1h0M25.3 19.1h0M21.3 14.5h0M32.1 14.1h0M15.7 16.9h0M18.2 12.1h0M25.3 22.9h0M21.7 16.1h0M33.8 16.5h0M26.9 21.6h0M19.5 18.8h0M29.9 17.6h0M19.1 16.3h0M37.5 15.2h0M25.7 21.0h0M15.8 19.5h0M16.8 23.6h0M20.8 19.1h0M21.2 19.0h0M28.7 17.2h0M24.9 18.7h0M25.0 16.4h0M31.0 19.3h0M18.0 16.3h0M22.2 19.3h0M19.1 23.7h0M27.1 18.0h0M31.6 14.4h0M29.2 18.3h0M34.0 13.1h0M35.5 17.7h0M28.9 20.3h0M25.1 17.3h0M31.7 15.6h0M34.1 20.2h0M28.2 17.8h0M22.3 15.8h0M35.0 13.0h0M27.5 18.3h0M21.0 16.7h0M23.7 24.5h0M29.8 21.1h0M39.7 18.1h0M34.6 14.8h0M23.4 22.5h0M35.1 13.0h0M33.9 17.1h0M32.2 19.4h0M38.0 13.6h0M27.6 21.2h0M25.6 19.5h0M25.5 12.9h0M24.0 20.8h0M22.7 13.9h0M23.9 18.5h0M30.1 18.0h0M29.5 14.0h0M22.8 16.2h0M24.5 19.4h0M34.9 15.4h0M34.0 19.5h0M19.5 16.7h0M27.1 13.5h0M37.3 10.1h0M19.9 21.3h0M22.8 20.5h0M21.5 21.8h0M23.8 20.4h0M32.2 12.2h0M20.6 13.7h0M20.7 21.6h0M27.2 20.1h0M36.2 18.9h0M31.1 15.6h0M24.8 19.0h0M32.9 19.7h0M28.6 16.5h0M27.4 22.5h0M29.8 23.0h0M23.2 21.0h0M28.7 19.6h0M22.6 19.5h0M26.5 16.9h0M19.0 15.0h0M25.3 19.6h0M28.7 18.0h0M28.2 13.4h0M33.5 16.6h0M22.2 17.0h0M33.1 17.0h0M18.1 25.6h0M19.0 24.3h0M31.6 13.8h0M35.3 19.8h0M33.7 18.3h0M29.1 17.9h0M24.0 19.1h0M34.7 15.9h0M38.1 10.9h0M26.4 13.4h0M16.6 20.5h0M24.8 16.5h0M20.5 18.2h0M17.1 19.0h0M23.2 14.7h0M28.5 11.9h0M29.8 17.9h0M30.3 17.4h0M31.7 16.0h0M20.7 20.0h0M22.1 17.6h0M27.3 14.9h0M32.2 12.2h0M34.5 16.1h0M38.0 18.8h0M31.3 17.7h0M27.0 13.6h0M23.2 15.7h0M22.7 18.1h0M22.3 19.0h0M25.3 16.6h0M29.7 18.5h0M18.8 18.4h0M44.8 14.3h0M29.4 14.6h0M33.8 20.9h0M30.5 16.6h0M26.2 12.3h0M30.5 16.1h0M29.7 18.3h0M29.5 23.4h0M32.3 14.7h0M31.1 18.7h0M28.1 21.6h0M23.9 13.1h0M20.8 20.0h0M21.2 19.3h0M18.1 20.5h0M25.0 15.4h0M23.6 17.6h0M32.7 17.3h0M25.9 18.4h0M32.7 17.9h0M37.3 13.6h0M32.1 17.1h0M23.6 20.1h0M32.7 19.5h0M29.5 14.6h0M28.3 18.6h0M37.2 16.1h0M28.9 21.9h0M27.2 16.3h0M29.2 19.5h0M27.1 12.8h0M25.2 21.0h0M23.1 21.0h0M27.7 15.2h0M30.7 10.7h0M13.6 15.7h0M30.1 16.3h0M30.8 16.7h0M27.6 16.0h0M25.2 20.9h0M31.0 13.0h0M31.7 22.7h0M31.1 14.1h0M31.7 17.4h0M25.7 20.8h0M34.2 14.8h0M27.6 16.4h0M28.0 22.2h0M24.8 19.8h0M28.7 17.6h0M20.6 20.7h0M20.9 21.0h0M26.6 18.2h0M23.8 15.8h0M20.9 18.9h0M26.7 18.6h0M25.8 20.2h0M28.0 17.8h0M25.6 17.9h0M30.6 14.9h0M20.1 20.2h0M29.6 17.3h0M27.8 13.7h0M21.2 18.8h0M26.2 14.2h0M28.8 11.8h0M33.9 13.3h0M23.1 15.4h0M18.8 18.3h0M15.5 18.9h0M27.9 16.6h0M26.1 13.6h0M15.3 16.1h0M33.6 17.3h0M17.2 24.5h0M31.4 20.0h0M33.8 20.1h0M17.0 19.8h0M23.4 24.0h0M31.2 16.8h0M24.4 12.0h0M27.2 15.2h0M35.6 18.2h0M26.4 16.6h0M33.4 14.9h0M33.7 17.0h0M25.5 19.0h0M36.6 11.1h0M31.9 18.9h0M26.3 22.1h0M31.3 18.4h0M21.3 20.5h0M19.6 20.6h0M39.4 12.6h0M35.8 12.8h0M27.8 19.6h0M18.5 20.3h0M22.1 16.8h0M32.0 16.5h0M29.5 17.2h0M30.2 21.6h0M27.6 16.7h0M27.6 19.6h0M28.6 11.1h0M26.8 19.0h0M42.4 12.9h0M24.8 14.7h0M25.6 12.8h0M21.9 18.4h0M17.8 18.7h0M23.6 22.0h0M37.8 21.7h0M28.2 19.4h0M40.9 13.1h0M36.7 13.1h0M32.5 12.0h0M24.5 17.6h0M24.4 12.5h0M27.6 16.7h0M36.3 17.6h0M14.0 20.6h0M33.4 16.1h0M22.0 14.6h0M24.3 15.4h0M25.2 17.1h0M34.2 13.4h0M28.4 14.2h0M29.2 20.2h0M22.9 15.0h0M27.2 17.7h0M23.4 19.6h0M27.8 19.5h0M19.1 21.4h0M34.2 13.9h0M39.1 16.0h0M18.6 16.2h0M22.2 16.7h0M25.7 18.8h0M25.6 17.0h0M20.1 13.0h0M22.0 15.0h0M31.0 9.8h0M32.3 8.2h0M25.8 17.9h0M19.7 16.2h0M31.7 13.6h0M26.5 17.9h0M30.3 13.3h0M34.9 15.7h0M32.3 12.5h0M33.5 16.1h0M31.4 14.9h0M32.2 16.7h0M16.9 26.9h0M23.2 19.7h0M25.6 16.6h0M25.2 20.7h0M33.2 19.2h0M17.6 21.9h0M19.2 26.0h0M29.9 20.4h0M27.0 18.0h0M23.8 24.1h0M25.6 21.1h0M22.0 18.2h0M24.6 17.8h0M24.3 20.1h0M30.1 12.3h0M23.6 14.4h0M32.8 12.8h0M29.9 17.5h0M25.6 12.2h0M37.2 15.2h0M31.7 19.8h0M20.4 16.0h0M38.5 21.1h0M22.0 18.4h0M32.7 16.1h0M35.3 17.8h0M26.9 19.6h0M24.8 21.8h0M23.7 22.2h0M41.3 9.7h0M36.5 11.4h0M27.6 22.9h0M34.0 18.3h0M29.4 17.7h0M29.7 16.5h0M24.6 14.5h0M37.6 15.5h0M39.0 17.5h0M29.2 14.0h0M25.5 18.1h0M26.1 16.9h0M12.9 19.2h0M25.2 16.6h0M24.2 13.6h0M22.6 22.9h0M21.0 17.3h0M21.9 18.2h0M25.0 24.0h0M21.5 22.8h0M24.4 19.5h0M42.5 14.6h0M25.4 9.5h0M24.8 17.4h0M28.0 18.2h0M19.8 16.3h0M31.6 16.0h0M27.6 19.5h0M27.8 18.0h0M20.5 19.0h0M17.7 24.7h0M23.3 23.4h0M24.0 17.9h0M35.1 16.7h0M28.1 16.7h0M25.1 15.9h0M21.4 13.5h0M25.7 15.6h0M36.9 22.1h0M38.1 12.0h0M24.8 17.7h0M18.6 23.9h0M31.6 17.7h0M39.2 16.8h0M25.5 18.8h0M24.6 19.6h0M19.4 20.7h0M25.1 16.8h0M24.7 17.8h0M16.8 21.5h0M26.9 23.0h0M27.6 20.4h0M26.9 17.3h0M19.5 17.8h0M22.2 11.5h0M25.0 16.0h0M29.6 20.3h0M26.0 21.4h0M35.2 18.4h0M25.2 18.4h0M38.0 20.2h0M33.2 11.4h0M14.3 25.5h0M32.3 20.7h0M30.6 16.1h0M30.0 17.0h0M36.8 18.3h0M21.0 16.7h0M33.9 19.0h0M29.2 18.3h0M19.1 16.7h0M29.4 11.8h0M30.5 18.8h0M31.7 19.4h0M39.0 16.3h0M21.3 13.8h0M13.5 20.7h0M31.7 11.9h0M27.9 15.5h0M25.8 18.6h0M26.8 14.3h0M31.8 16.4h0M16.2 22.2h0M36.7 14.7h0M36.2 11.3h0M26.4 21.7h0M35.5 17.6h0M33.5 15.3h0M32.2 19.6h0M33.3 17.7h0M32.6 18.0h0M30.1 12.5h0M30.4 14.3h0M25.0 18.3h0M28.0 13.6h0M24.1 19.0h0M24.7 18.3h0M28.8 18.0h0M24.0 18.9h0M30.0 13.4h0M31.5 13.9h0M29.8 19.0h0M30.5 13.6h0M21.0 15.4h0M30.8 17.4h0M16.6 22.0h0M34.2 14.8h0M26.9 18.5h0M20.8 17.7h0M30.4 16.1h0M27.2 18.0h0M37.8 16.4h0M29.0 15.9h0M34.8 16.4h0M27.8 21.5h0M34.9 13.4h0M26.0 21.7h0M25.2 22.7h0M27.3 23.5h0M20.2 13.3h0M19.4 25.1h0M22.5 17.3h0M23.3 16.3h0M28.2 17.9h0M23.1 16.9h0M35.9 18.8h0M33.9 20.1h0M26.5 20.4h0M36.8 13.4h0M34.1 9.0h0M14.7 15.8h0M20.5 16.1h0M24.6 20.6h0M22.5 17.5h0M18.3 14.7h0M25.6 15.8h0M32.6 17.0h0M16.4 21.9h0M19.6 18.0h0M20.3 16.6h0M22.8 15.0h0M22.4 17.7h0M31.9 18.8h0M37.1 10.9h0M25.4 21.6h0M20.1 18.5h0M32.4 21.2h0M30.8 17.9h0M26.4 19.6h0M27.9 18.5h0M23.1 18.1h0M21.1 15.6h0M21.4 16.3h0M22.6 16.8h0M17.9 20.3h0M29.8 21.7h0M11.9 16.4h0M20.6 16.3h0M26.9 15.2h0M22.7 20.7h0M25.0 13.3h0M34.0 22.9h0M33.8 15.9h0M35.3 15.8h0M25.0 18.8h0M35.0 16.4h0M24.4 14.1h0M27.6 14.4h0M25.6 13.8h0M21.2 15.9h0M22.3 15.2h0M34.9 18.4h0M24.4 15.1h0M33.5 15.7h0M31.0 19.8h0M24.8 19.4h0M29.5 15.9h0M25.6 16.1h0M6.1 20.6h0M37.6 18.6h0M43.6 14.6h0M32.0 14.8h0M22.0 16.0h0M30.2 19.3h0M15.7 21.9h0M33.0 18.8h0M19.3 19.7h0M28.2 13.5h0M21.3 25.3h0M22.6 17.0h0M14.8 18.2h0M35.5 17.1h0M21.8 18.8h0M29.5 18.9h0M21.1 19.9h0M22.7 17.0h0M21.3 16.4h0M28.9 12.1h0M29.7 25.1h0M21.4 17.9h0M27.4 22.1h0M18.6 20.9h0M27.4 23.3h0M26.8 23.5h0M21.3 19.8h0M19.9 17.2h0M19.1 18.0h0M36.1 14.3h0M42.8 19.3h0M28.8 17.3h0M28.4 15.1h0M30.6 17.2h0M15.1 20.0h0M30.5 17.1h0M28.8 17.3h0M24.6 21.2h0M35.3 15.1h0M31.2 13.6h0M34.1 13.8h0M27.7 20.3h0M23.9 18.3h0M32.7 14.9h0M29.6 20.3h0M28.0 15.1h0M24.4 17.4h0M27.4 19.4h0M17.5 19.3h0M29.0 21.6h0M17.6 16.8h0M32.3 16.5h0M33.5 16.2h0M23.0 18.2h0M34.8 18.2h0M28.2 17.8h0M33.7 18.1h0M28.8 19.4h0M26.9 14.4h0M33.0 20.0h0M35.3 15.8h0M19.9 20.2h0M22.4 13.1h0M27.4 15.3h0M34.5 45.1h0M37.6 47.4h0M36.4 48.2h0M32.6 50.8h0M27.6 48.1h0M38.2 44.9h0M34.5 43.6h0M32.6 46.8h0M29.0 42.7h0M32.7 44.5h0M30.5 46.0h0M29.1 48.6h0M38.8 45.7h0M32.0 46.1h0M33.7 44.5h0M31.8 47.1h0M30.6 45.1h0M32.3 44.2h0M35.0 43.4h0M38.0 47.1h0M34.3 47.7h0M38.5 44.9h0M33.9 44.9h0M32.8 45.4h0M34.7 47.0h0M42.8 45.9h0M37.9 45.3h0M40.7 45.7h0M33.5 45.5h0M34.3 45.2h0M35.2 49.4h0M34.4 44.5h0M27.0 46.4h0M30.2 44.9h0M34.9 46.6h0M36.2 48.1h0M30.4 45.1h0M30.7 44.4h0M31.6 44.6h0M36.7 43.7h0M42.4 41.3h0M37.2 42.7h0M32.1 43.8h0M34.3 46.9h0M32.5 44.9h0M30.2 44.7h0M30.8 45.0h0M34.6 47.7h0M31.1 42.3h0M32.9 47.7h0M30.3 47.0h0M29.5 43.9h0M34.7 42.3h0M32.1 40.9h0M30.1 47.0h0M32.1 44.8h0M36.0 44.0h0M29.6 45.6h0M33.8 46.3h0M33.6 48.3h0M36.2 45.5h0M42.7 42.2h0M34.9 44.4h0M42.4 45.8h0M37.3 46.4h0M39.6 44.4h0M37.3 42.3h0M36.4 47.9h0M37.5 46.8h0M26.9 46.7h0M33.0 49.0h0M36.2 47.0h0M39.2 46.5h0M28.7 44.8h0M26.2 49.0h0M33.1 43.5h0M35.9 45.0h0M33.1 48.6h0M25.9 43.8h0M33.6 45.5h0M38.3 44.9h0M36.3 49.1h0M28.5 43.7h0M31.3 45.8h0M29.8 46.8h0M31.2 48.4h0M36.1 47.1h0M34.9 46.3h0M27.7 46.0h0M27.4 49.1h0M29.5 44.6h0M32.6 50.3h0M30.0 49.5h0M35.0 50.9h0M33.1 44.9h0M33.8 44.9h0M31.4 47.5h0M32.4 47.8h0M36.5 47.5h0M40.3 47.4h0M30.6 48.8h0M24.7 49.2h0M38.5 43.5h0M38.6 41.9h0M37.8 44.8h0M32.9 45.7h0M32.0 47.5h0M33.8 45.9h0M34.2 45.2h0M30.2 47.4h0M37.1 43.4h0M37.9 48.1h0M35.0 48.7h0M25.9 49.3h0M31.2 46.8h0M30.9 51.0h0M32.6 47.4h0M28.4 45.9h0M35.7 45.6h0M31.4 49.1h0M28.1 46.6h0M33.3 45.3h0M36.6 46.2h0M33.5 47.3h0M33.8 47.0h0M39.0 46.0h0M34.2 44.8h0M39.7 47.3h0M36.2 46.4h0M30.9 46.4h0M35.0 43.6h0M30.4 46.1h0M41.5 46.0h0M28.7 48.9h0M37.6 47.0h0M31.9 45.9h0M42.7 47.4h0M51.5 40.9h0M27.9 45.7h0M30.4 45.0h0M37.1 48.3h0M28.7 47.5h0M37.4 46.2h0M39.5 47.8h0M31.0 46.5h0M34.9 43.5h0M33.4 48.0h0M35.6 45.9h0M44.2 46.3h0M37.7 44.0h0M38.7 44.7h0M33.3 45.2h0M29.2 47.5h0M29.5 48.0h0M31.2 48.7h0M35.6 48.1h0M29.9 47.4h0M37.0 46.3h0M33.6 44.9h0M21.6 48.1h0M29.0 44.4h0M35.1 40.7h0M31.3 47.6h0M34.2 45.5h0M31.1 46.6h0M28.0 45.4h0M37.1 43.9h0M33.6 45.3h0M28.9 42.6h0M30.6 44.8h0M30.1 46.2h0M35.4 47.1h0M35.3 43.6h0M39.6 46.2h0M36.8 43.2h0M38.8 50.1h0M36.4 48.0h0M31.9 46.5h0M34.0 47.3h0M34.8 46.5h0M30.4 44.0h0M34.5 50.9h0M30.4 47.4h0M39.3 44.3h0M27.8 47.3h0M33.8 44.3h0M40.2 46.9h0M33.9 43.3h0M39.3 47.8h0M37.7 48.9h0M29.9 44.4h0M37.7 46.6h0M33.9 45.1h0M38.2 46.1h0M37.4 43.5h0M34.5 46.8h0M37.9 42.4h0M33.3 44.8h0M34.2 45.7h0M36.0 47.4h0M35.2 45.8h0M37.9 48.4h0M34.3 44.4h0M41.3 47.2h0M42.7 44.4h0M32.6 45.8h0M33.6 43.2h0M37.2 42.8h0M23.3 46.9h0M30.0 46.9h0M29.4 43.7h0M25.9 44.2h0M33.4 50.3h0M36.7 44.5h0M39.6 46.0h0M26.5 43.2h0M28.1 45.4h0M34.2 44.8h0M31.9 44.3h0M35.0 47.5h0M30.2 48.8h0M30.8 45.7h0M40.9 46.6h0M34.1 42.2h0M34.5 45.3h0M33.5 48.3h0M32.3 49.7h0M34.4 46.3h0M33.0 46.3h0M39.6 46.0h0M30.1 44.8h0M38.9 46.7h0M30.8 46.1h0M34.7 47.1h0M30.4 46.5h0M28.9 44.9h0M33.5 48.8h0M34.1 49.3h0M35.9 48.4h0M33.3 42.5h0M25.5 45.9h0M41.2 45.1h0M32.3 47.4h0M32.7 45.4h0M35.1 46.7h0M31.8 44.6h0M40.4 43.7h0M30.6 46.0h0M33.7 46.6h0M40.6 48.0h0M10.2 46.6h0M13.2 46.4h0M10.8 45.6h0M11.5 46.4h0M6.0 46.7h0M16.9 46.8h0M7.9 47.5h0M11.4 46.7h0M14.8 47.2h0M16.5 45.9h0M9.0 46.4h0M10.9 45.6h0M11.2 45.4h0M8.6 46.3h0M11.1 46.8h0M8.0 46.8h0M11.2 46.4h0M10.4 46.1h0M15.7 47.6h0M11.1 47.6h0M7.7 46.1h0M9.3 46.9h0M9.3 45.8h0M5.8 45.6h0M13.1 46.9h0M6.1 48.0h0M8.9 46.1h0M9.8 46.5h0M9.2 46.5h0M12.6 47.2h0M8.3 46.4h0M8.1 46.2h0M10.0 46.2h0M12.1 45.8h0M11.5 47.1h0M9.4 46.2h0M12.1 46.2h0M9.3 46.7h0M2.9 47.1h0M11.0 47.0h0M13.0 36.4h0M16.0 41.3h0M14.3 36.2h0M17.9 39.8h0M17.4 31.8h0M16.0 35.8h0M14.5 44.8h0M13.5 33.8h0M14.1 37.3h0M15.4 40.6h0M17.4 40.8h0M18.3 43.8h0M16.2 37.8h0M17.6 37.0h0M17.0 38.7h0M14.4 41.8h0M16.5 40.0h0M17.1 39.1h0M14.1 38.9h0M18.4 33.7h0M12.2 38.5h0M13.6 45.2h0M15.6 33.9h0M15.2 33.9h0M16.1 43.1h0M17.3 43.7h0M15.3 44.4h0M16.1 32.2h0M17.6 34.1h0M14.3 30.8h0M13.9 28.1h0M13.2 34.4h0M13.3 36.6h0M16.6 37.0h0M16.0 44.0h0M14.3 45.8h0M15.2 38.3h0M15.9 45.2h0M13.3 43.1h0M14.5 39.0h0M13.6 26.0h0M17.3 42.3h0M13.5 34.0h0M13.3 38.3h0M18.7 37.8h0M12.4 42.2h0M13.8 30.6h0M16.0 38.5h0M15.6 42.0h0M16.9 28.2h0M15.6 44.2h0M17.4 33.4h0M12.2 33.0h0M16.0 37.5h0M16.7 37.6h0M13.2 33.0h0M14.9 42.6h0M17.8 33.5h0M16.0 38.2h0M13.3 32.7h0M17.9 36.3h0M15.2 40.8h0M15.9 41.9h0M13.9 36.6h0M15.7 40.2h0M14.1 30.1h0M16.8 42.7h0M16.9 37.9h0M12.3 36.5h0M18.7 40.0h0M15.7 30.4h0M14.2 43.4h0M15.9 37.9h0M17.4 42.0h0M16.2 37.7h0M16.0 43.6h0M15.8 32.3h0M15.0 37.1h0M16.0 44.8h0M15.2 36.3h0M16.5 40.8h0M14.0 40.8h0M15.6 40.2h0M12.7 28.7h0M12.8 30.1h0M16.9 43.4h0M13.1 45.8h0M13.4 34.5h0M18.9 32.1h0M16.5 42.6h0M17.2 41.8h0M15.7 46.1h0M15.2 39.0h0M16.0 36.8h0M15.1 44.5h0M18.0 41.5h0M15.1 36.1h0M14.7 36.7h0M14.6 38.1h0M14.9 43.9h0M12.9 36.5h0M16.7 36.5h0M14.6 41.3h0M15.2 33.7h0M15.6 41.7h0M12.5 43.1h0M12.4 42.0h0M13.1 39.7h0M15.2 43.6h0M15.2 36.4h0M14.1 39.6h0M14.9 42.9h0M16.0 44.7h0M16.5 39.4h0M15.2 41.6h0M16.6 31.9h0M16.0 36.8h0M15.9 42.5h0M12.1 38.0h0M17.0 30.0h0M15.7 38.6h0M14.4 43.0h0M16.9 38.7h0M17.7 45.8h0M15.7 42.7h0M16.8 47.1h0M16.7 42.0h0M15.5 42.2h0M18.0 38.2h0M15.2 33.8h0M19.7 36.7h0M14.5 35.8h0M17.3 40.4h0M11.9 39.3h0M18.4 38.4h0M15.5 52.9h0M14.9 37.6h0M16.4 50.7h0M16.1 30.6h0M15.1 37.6h0M16.6 36.9h0M15.6 32.3h0M13.2 39.0h0M18.1 33.9h0M12.7 44.5h0M16.0 42.6h0M15.1 39.9h0M15.2 38.7h0M18.4 36.7h0M14.7 38.7h0M15.1 47.1h0M15.1 40.6h0M13.3 41.4h0M16.5 42.0h0M12.7 35.6h0M10.9 47.0h0M15.2 46.8h0M18.6 43.8h0M14.3 37.6h0M16.7 29.0h0M10.1 52.4h0M55.7 22.9h0M46.5 43.3h0M34.2 24.7h0M20.2 48.7h0M46.0 55.9h0M6.8 34.9h0M41.8 15.2h0M4.2 53.0h0M45.9 42.9h0M21.3 27.5h0M47.7 8.2h0M42.8 42.6h0M28.5 56.4h0M37.7 52.5h0M13.7 25.9h0M19.1 30.9h0M44.5 58.5h0M53.1 50.8h0M56.7 44.1h0M43.5 8.1h0M25.4 30.4h0M8.8 53.5h0M23.5 16.6h0M7.5 33.1h0" stroke="#3350c2" stroke-width="0.75" stroke-linecap="round" opacity="0.5" fill="none"/><defs><radialGradient id="g1"><stop offset="0" stop-color="#52d4ec" stop-opacity="1"/><stop offset="0.35" stop-color="#3cb0e2" stop-opacity="0.95"/><stop offset="0.7" stop-color="#3a66cc" stop-opacity="0.6"/><stop offset="1" stop-color="#3050c0" stop-opacity="0"/></radialGradient></defs><ellipse cx="0" cy="0" rx="7.0" ry="2.6" fill="url(#g1)" opacity="1.0" transform="translate(29.80,17.20) rotate(-11)"/><defs><radialGradient id="g2"><stop offset="0" stop-color="#3454c4" stop-opacity="0.95"/><stop offset="0.6" stop-color="#3454c4" stop-opacity="0.7"/><stop offset="1" stop-color="#3454c4" stop-opacity="0"/></radialGradient></defs><ellipse cx="0" cy="0" rx="8.0" ry="4.6" fill="url(#g2)" opacity="0.8" transform="translate(34.20,46.00) rotate(-8)"/><defs><radialGradient id="g3"><stop offset="0" stop-color="#8ad890" stop-opacity="1"/><stop offset="0.22" stop-color="#5cccb0" stop-opacity="1"/><stop offset="0.45" stop-color="#3cb4e0" stop-opacity="1"/><stop offset="0.72" stop-color="#3a66cc" stop-opacity="0.7"/><stop offset="1" stop-color="#3050c0" stop-opacity="0"/></radialGradient></defs><ellipse cx="0" cy="0" rx="6.6" ry="3.7" fill="url(#g3)" opacity="1.0" transform="translate(34.20,46.00) rotate(-8)"/><defs><radialGradient id="g4"><stop offset="0" stop-color="#3454c4" stop-opacity="0.95"/><stop offset="0.6" stop-color="#3454c4" stop-opacity="0.7"/><stop offset="1" stop-color="#3454c4" stop-opacity="0"/></radialGradient></defs><ellipse cx="0" cy="0" rx="3.7" ry="9.5" fill="url(#g4)" opacity="0.85" transform="translate(14.30,43.00) rotate(0)"/><defs><radialGradient id="g5"><stop offset="0" stop-color="#52d4ec" stop-opacity="1"/><stop offset="0.35" stop-color="#3cb0e2" stop-opacity="0.95"/><stop offset="0.7" stop-color="#3a66cc" stop-opacity="0.6"/><stop offset="1" stop-color="#3050c0" stop-opacity="0"/></radialGradient></defs><ellipse cx="0" cy="0" rx="2.7" ry="6.8" fill="url(#g5)" opacity="1.0" transform="translate(14.50,42.30) rotate(0)"/><defs><radialGradient id="g6"><stop offset="0" stop-color="#e02018" stop-opacity="1"/><stop offset="0.12" stop-color="#e85020" stop-opacity="1"/><stop offset="0.26" stop-color="#f0d040" stop-opacity="1"/><stop offset="0.42" stop-color="#70c860" stop-opacity="1"/><stop offset="0.62" stop-color="#40c0d8" stop-opacity="1"/><stop offset="0.84" stop-color="#3a70d0" stop-opacity="0.85"/><stop offset="1" stop-color="#3454c4" stop-opacity="0"/></radialGradient></defs><ellipse cx="0" cy="0" rx="3.3" ry="6.6" fill="url(#g6)" opacity="1.0" transform="translate(14.30,46.10) rotate(0)"/></g></defs>
<rect x="63.00" y="94.90" width="60.80" height="62.40" fill="#fff" stroke="#606060" stroke-width="1.15"/><path d="M63.00 94.90V157.30H123.80" fill="none" stroke="#2a2a2a" stroke-width="1"/><path d="M61.7 99.4h1.6M61.7 103.8h1.6M61.7 108.3h1.6M61.7 112.7h1.6M61.7 117.2h1.6M61.7 121.6h1.6M61.7 126.1h1.6M61.7 130.6h1.6M61.7 135.0h1.6M61.7 139.5h1.6M61.7 143.9h1.6M61.7 148.4h1.6M61.7 152.8h1.6M67.3 157.0v1.7M71.7 157.0v1.7M76.0 157.0v1.7M80.4 157.0v1.7M84.7 157.0v1.7M89.1 157.0v1.7M93.4 157.0v1.7M97.7 157.0v1.7M102.1 157.0v1.7M106.4 157.0v1.7M110.8 157.0v1.7M115.1 157.0v1.7M119.5 157.0v1.7" stroke="#333" stroke-width="0.6" fill="none"/><rect x="61.30" y="142.95" width="1.8" height="1.9" fill="#111"/><rect x="75.77" y="157.10" width="2" height="1.7" fill="#111"/><use href="#cd8B" transform="translate(63.00,94.90)"/><rect x="80.00" y="103.90" width="23.70" height="15.40" fill="none" stroke="#333" stroke-width="0.9"/>
<rect x="63.00" y="162.30" width="60.80" height="61.90" fill="#fff" stroke="#606060" stroke-width="1.15"/><path d="M63.00 162.30V224.20H123.80" fill="none" stroke="#2a2a2a" stroke-width="1"/><path d="M61.7 166.7h1.6M61.7 171.1h1.6M61.7 175.6h1.6M61.7 180.0h1.6M61.7 184.4h1.6M61.7 188.8h1.6M61.7 193.2h1.6M61.7 197.7h1.6M61.7 202.1h1.6M61.7 206.5h1.6M61.7 210.9h1.6M61.7 215.4h1.6M61.7 219.8h1.6M67.3 223.9v1.7M71.7 223.9v1.7M76.0 223.9v1.7M80.4 223.9v1.7M84.7 223.9v1.7M89.1 223.9v1.7M93.4 223.9v1.7M97.7 223.9v1.7M102.1 223.9v1.7M106.4 223.9v1.7M110.8 223.9v1.7M115.1 223.9v1.7M119.5 223.9v1.7" stroke="#333" stroke-width="0.6" fill="none"/><rect x="61.30" y="209.96" width="1.8" height="1.9" fill="#111"/><rect x="75.77" y="224.00" width="2" height="1.7" fill="#111"/><use href="#cd8B" transform="translate(63.00,162.30)"/><rect x="80.00" y="171.30" width="23.70" height="15.40" fill="none" stroke="#333" stroke-width="0.9"/>
<rect x="63.00" y="229.20" width="60.80" height="62.20" fill="#fff" stroke="#606060" stroke-width="1.15"/><path d="M63.00 229.20V291.40H123.80" fill="none" stroke="#2a2a2a" stroke-width="1"/><path d="M61.7 233.6h1.6M61.7 238.1h1.6M61.7 242.5h1.6M61.7 247.0h1.6M61.7 251.4h1.6M61.7 255.9h1.6M61.7 260.3h1.6M61.7 264.7h1.6M61.7 269.2h1.6M61.7 273.6h1.6M61.7 278.1h1.6M61.7 282.5h1.6M61.7 287.0h1.6M67.3 291.1v1.7M71.7 291.1v1.7M76.0 291.1v1.7M80.4 291.1v1.7M84.7 291.1v1.7M89.1 291.1v1.7M93.4 291.1v1.7M97.7 291.1v1.7M102.1 291.1v1.7M106.4 291.1v1.7M110.8 291.1v1.7M115.1 291.1v1.7M119.5 291.1v1.7" stroke="#333" stroke-width="0.6" fill="none"/><rect x="61.30" y="277.09" width="1.8" height="1.9" fill="#111"/><rect x="75.77" y="291.20" width="2" height="1.7" fill="#111"/><use href="#cd8B" transform="translate(63.00,229.20)"/><rect x="80.00" y="238.20" width="23.70" height="15.40" fill="none" stroke="#333" stroke-width="0.9"/>
<rect x="63.00" y="295.50" width="60.80" height="62.00" fill="#fff" stroke="#606060" stroke-width="1.15"/><path d="M63.00 295.50V357.50H123.80" fill="none" stroke="#2a2a2a" stroke-width="1"/><path d="M61.7 299.9h1.6M61.7 304.4h1.6M61.7 308.8h1.6M61.7 313.2h1.6M61.7 317.6h1.6M61.7 322.1h1.6M61.7 326.5h1.6M61.7 330.9h1.6M61.7 335.4h1.6M61.7 339.8h1.6M61.7 344.2h1.6M61.7 348.6h1.6M61.7 353.1h1.6M67.3 357.2v1.7M71.7 357.2v1.7M76.0 357.2v1.7M80.4 357.2v1.7M84.7 357.2v1.7M89.1 357.2v1.7M93.4 357.2v1.7M97.7 357.2v1.7M102.1 357.2v1.7M106.4 357.2v1.7M110.8 357.2v1.7M115.1 357.2v1.7M119.5 357.2v1.7" stroke="#333" stroke-width="0.6" fill="none"/><rect x="61.30" y="343.24" width="1.8" height="1.9" fill="#111"/><rect x="75.77" y="357.30" width="2" height="1.7" fill="#111"/><use href="#cd8B" transform="translate(63.00,295.50)"/><rect x="80.00" y="304.50" width="23.70" height="15.40" fill="none" stroke="#333" stroke-width="0.9"/>
<rect x="149.80" y="95.10" width="60.80" height="62.20" fill="#fff" stroke="#606060" stroke-width="1.15"/><path d="M149.80 95.10V157.30H210.60" fill="none" stroke="#2a2a2a" stroke-width="1"/><path d="M148.5 99.5h1.6M148.5 104.0h1.6M148.5 108.4h1.6M148.5 112.9h1.6M148.5 117.3h1.6M148.5 121.8h1.6M148.5 126.2h1.6M148.5 130.6h1.6M148.5 135.1h1.6M148.5 139.5h1.6M148.5 144.0h1.6M148.5 148.4h1.6M148.5 152.9h1.6M154.1 157.0v1.7M158.5 157.0v1.7M162.8 157.0v1.7M167.2 157.0v1.7M171.5 157.0v1.7M175.9 157.0v1.7M180.2 157.0v1.7M184.5 157.0v1.7M188.9 157.0v1.7M193.2 157.0v1.7M197.6 157.0v1.7M201.9 157.0v1.7M206.3 157.0v1.7" stroke="#333" stroke-width="0.6" fill="none"/><rect x="148.10" y="142.99" width="1.8" height="1.9" fill="#111"/><rect x="162.57" y="157.10" width="2" height="1.7" fill="#111"/><path transform="translate(149.80,95.10)" d="M14.8 46.9h0M14.1 44.7h0M14.7 44.5h0M15.3 46.5h0M14.3 46.8h0M14.0 49.6h0M14.9 51.8h0M13.7 50.7h0M13.9 47.4h0M12.8 48.1h0M12.8 46.7h0M14.6 47.4h0M15.0 48.8h0M14.8 44.0h0M14.4 45.0h0M14.4 50.7h0M14.6 41.1h0M15.0 49.3h0M14.3 51.3h0M12.9 44.1h0M14.8 37.7h0M11.0 48.3h0M13.7 52.3h0M15.5 49.2h0M15.2 44.0h0M13.0 50.6h0M14.8 41.9h0M13.5 49.3h0M15.4 46.3h0M13.7 50.5h0M15.3 46.7h0M14.9 48.2h0M15.9 45.6h0M13.6 44.0h0M14.4 46.7h0M11.4 43.8h0M14.1 44.2h0M14.9 45.9h0M15.3 47.3h0M13.8 46.7h0M14.9 45.1h0M14.0 46.8h0M16.6 46.9h0M15.6 45.4h0M14.7 46.8h0M14.3 46.6h0M14.5 43.1h0M15.0 46.7h0M13.0 47.2h0M13.7 46.1h0M14.3 45.0h0M12.7 48.0h0M14.4 46.7h0M15.7 46.0h0M14.7 50.4h0M15.7 49.6h0M14.7 46.7h0M14.4 50.4h0M14.7 44.7h0M14.4 43.2h0M12.7 47.5h0M14.3 51.0h0M13.9 47.8h0M13.4 43.5h0M16.5 48.1h0M14.3 43.1h0M14.7 41.4h0M14.5 46.5h0M13.2 46.5h0M13.9 44.7h0M14.8 48.5h0M14.4 46.3h0M15.5 45.1h0M13.9 47.4h0M13.2 47.5h0M15.2 47.3h0M16.4 42.9h0M13.9 43.4h0M14.4 45.6h0M13.9 41.7h0M14.8 48.6h0M12.7 49.0h0M13.6 45.1h0M14.7 43.2h0M14.4 43.5h0M13.7 48.6h0M15.1 50.7h0M13.6 43.8h0M13.0 43.5h0M14.7 45.9h0M15.9 49.8h0M15.7 44.6h0M11.8 44.5h0M14.5 45.4h0M13.6 41.2h0M13.9 51.7h0M15.2 44.4h0M13.0 48.2h0M14.7 42.2h0M15.4 46.1h0M13.9 47.8h0M13.9 42.6h0M11.6 40.3h0M15.2 42.4h0M13.6 44.6h0M13.3 46.1h0M11.3 47.5h0M12.5 44.1h0M13.4 44.3h0M15.2 43.2h0M13.6 48.8h0M13.2 40.8h0M14.6 46.8h0M13.7 44.4h0M15.4 51.4h0M13.7 45.2h0M15.2 44.9h0M14.5 46.4h0M15.3 51.5h0M13.3 42.1h0M13.3 42.2h0M13.7 49.0h0M12.7 47.9h0M13.1 50.1h0M14.4 49.6h0M13.8 46.0h0M15.4 48.6h0M14.7 49.2h0M15.4 43.9h0M13.4 42.9h0M14.2 48.1h0M14.2 48.1h0M14.6 49.7h0M12.7 44.5h0M13.7 45.9h0M13.4 48.0h0M15.7 52.5h0M14.6 50.9h0M14.7 49.5h0M14.7 52.9h0M13.6 41.0h0M15.1 46.2h0M13.1 47.8h0M13.7 40.5h0M13.2 45.7h0M14.7 44.7h0M13.6 46.1h0M13.3 44.4h0M15.9 47.1h0M15.3 45.3h0M15.1 48.8h0M33.3 46.8h0M15.4 44.6h0M22.9 45.4h0M25.6 48.0h0M29.2 47.1h0M14.8 44.9h0M17.0 49.5h0M32.0 44.6h0M38.2 45.3h0M35.9 45.6h0M36.0 43.8h0M21.9 50.0h0M29.3 47.8h0M42.4 48.2h0M34.5 48.5h0M25.7 45.8h0M24.9 48.6h0M40.1 48.7h0M22.6 47.0h0M15.8 41.1h0M26.4 48.8h0M13.5 13.4h0M22.0 50.9h0M41.4 49.6h0M50.5 20.2h0M41.6 56.0h0M48.2 47.3h0M14.1 21.5h0M30.9 13.5h0M41.3 49.4h0M28.5 6.5h0M31.0 52.7h0M8.4 42.1h0M24.5 10.9h0M52.7 29.8h0M50.0 9.2h0M13.6 23.6h0M41.3 6.7h0M42.0 10.4h0M5.2 8.5h0M32.5 51.7h0" stroke="#4060c8" stroke-width="0.8" stroke-linecap="round" opacity="0.4" fill="none"/><defs><radialGradient id="g7"><stop offset="0" stop-color="#3454c4" stop-opacity="0.95"/><stop offset="0.6" stop-color="#3454c4" stop-opacity="0.7"/><stop offset="1" stop-color="#3454c4" stop-opacity="0"/></radialGradient></defs><ellipse cx="0" cy="0" rx="2.8" ry="7.0" fill="url(#g7)" opacity="1.0" transform="translate(164.00,140.40) rotate(0)"/><defs><radialGradient id="g8"><stop offset="0" stop-color="#e02018" stop-opacity="1"/><stop offset="0.12" stop-color="#e85020" stop-opacity="1"/><stop offset="0.26" stop-color="#f0d040" stop-opacity="1"/><stop offset="0.42" stop-color="#70c860" stop-opacity="1"/><stop offset="0.62" stop-color="#40c0d8" stop-opacity="1"/><stop offset="0.84" stop-color="#3a70d0" stop-opacity="0.85"/><stop offset="1" stop-color="#3454c4" stop-opacity="0"/></radialGradient></defs><ellipse cx="0" cy="0" rx="2.4" ry="4.8" fill="url(#g8)" opacity="1.0" transform="translate(164.00,141.90) rotate(0)"/><ellipse cx="0" cy="0" rx="15.5" ry="8" transform="translate(180.10,113.50) rotate(-40)" fill="none" stroke="#222" stroke-width="0.9"/>
<rect x="149.80" y="162.30" width="60.80" height="61.90" fill="#fff" stroke="#606060" stroke-width="1.15"/><path d="M149.80 162.30V224.20H210.60" fill="none" stroke="#2a2a2a" stroke-width="1"/><path d="M148.5 166.7h1.6M148.5 171.1h1.6M148.5 175.6h1.6M148.5 180.0h1.6M148.5 184.4h1.6M148.5 188.8h1.6M148.5 193.2h1.6M148.5 197.7h1.6M148.5 202.1h1.6M148.5 206.5h1.6M148.5 210.9h1.6M148.5 215.4h1.6M148.5 219.8h1.6M154.1 223.9v1.7M158.5 223.9v1.7M162.8 223.9v1.7M167.2 223.9v1.7M171.5 223.9v1.7M175.9 223.9v1.7M180.2 223.9v1.7M184.5 223.9v1.7M188.9 223.9v1.7M193.2 223.9v1.7M197.6 223.9v1.7M201.9 223.9v1.7M206.3 223.9v1.7" stroke="#333" stroke-width="0.6" fill="none"/><rect x="148.10" y="209.96" width="1.8" height="1.9" fill="#111"/><rect x="162.57" y="224.00" width="2" height="1.7" fill="#111"/><path transform="translate(149.80,162.30)" d="M15.0 47.4h0M15.0 46.4h0M14.2 41.7h0M12.6 47.2h0M12.3 48.1h0M13.8 45.3h0M13.2 44.9h0M13.5 45.8h0M14.0 44.5h0M14.0 48.4h0M14.1 48.2h0M14.2 41.9h0M15.5 47.0h0M15.5 48.3h0M13.2 48.4h0M14.3 41.1h0M13.9 44.0h0M15.3 48.5h0M12.1 44.9h0M14.7 45.0h0M12.9 48.8h0M11.9 50.1h0M15.2 46.6h0M15.5 40.2h0M13.4 46.2h0M13.5 44.9h0M13.9 43.7h0M14.7 50.0h0M14.4 42.9h0M13.1 44.2h0M14.1 46.3h0M12.8 50.7h0M12.5 45.9h0M14.5 46.1h0M14.0 42.9h0M14.9 46.3h0M13.1 46.4h0M14.8 44.3h0M14.4 43.3h0M16.8 43.4h0M15.2 51.0h0M14.9 48.1h0M15.0 44.2h0M14.3 46.3h0M16.2 45.8h0M15.1 45.7h0M13.7 50.6h0M15.5 47.5h0M14.6 47.9h0M14.2 44.1h0M15.7 46.0h0M13.0 43.8h0M14.4 53.8h0M16.3 47.9h0M12.9 45.5h0M13.2 45.5h0M14.7 48.7h0M13.7 44.3h0M14.6 41.9h0M14.6 46.5h0M14.9 43.3h0M15.0 49.0h0M12.7 44.9h0M11.9 47.3h0M16.3 46.9h0M13.9 43.5h0M14.6 47.3h0M13.8 42.0h0M13.8 46.1h0M15.1 48.4h0M14.9 47.9h0M14.9 46.7h0M12.5 44.6h0M15.0 46.5h0M13.9 48.1h0M14.2 46.4h0M14.5 48.5h0M14.7 44.3h0M13.6 41.6h0M13.8 43.3h0M13.7 49.7h0M13.7 48.3h0M14.0 47.0h0M13.4 44.5h0M15.0 47.3h0M15.3 47.7h0M11.7 43.8h0M15.0 49.5h0M14.4 44.1h0M12.9 47.5h0M15.0 48.4h0M16.0 42.5h0M14.3 46.0h0M13.4 42.0h0M13.9 48.3h0M13.8 43.8h0M15.0 45.0h0M15.2 42.8h0M13.0 49.4h0M15.5 43.5h0M14.1 47.8h0M12.8 43.5h0M13.6 44.9h0M13.3 42.4h0M13.0 49.2h0M13.0 39.5h0M16.7 47.2h0M14.1 44.7h0M14.7 48.8h0M13.2 43.7h0M12.5 49.3h0M12.9 45.7h0M13.6 40.8h0M14.4 47.3h0M12.3 47.3h0M15.2 44.0h0M15.0 49.7h0M15.2 42.2h0M14.3 47.1h0M13.5 46.8h0M13.5 50.8h0M14.3 42.4h0M15.6 43.9h0M14.8 48.8h0M13.3 54.6h0M13.5 47.4h0M15.7 40.3h0M13.7 48.2h0M14.1 47.1h0M14.1 45.8h0M16.0 46.1h0M13.2 48.9h0M14.5 45.0h0M13.3 41.0h0M12.2 45.8h0M14.2 46.5h0M14.6 56.2h0M13.7 48.6h0M15.1 47.6h0M14.2 49.8h0M14.7 46.6h0M16.5 47.1h0M14.3 44.2h0M14.0 48.4h0M13.0 46.4h0M14.0 42.2h0M15.5 47.3h0M15.2 46.9h0M15.1 47.3h0M15.1 50.1h0M26.4 47.4h0M21.6 46.6h0M29.0 46.4h0M33.1 47.4h0M30.8 50.0h0M37.2 43.2h0M22.3 46.0h0M15.2 45.7h0M32.4 47.2h0M33.2 48.6h0M21.0 50.8h0M19.6 45.7h0M43.5 48.4h0M41.1 49.6h0M24.1 47.8h0M20.7 45.3h0M38.5 44.2h0M41.3 47.3h0M26.6 50.3h0M35.6 47.1h0M30.9 47.5h0M18.4 46.4h0M47.5 53.0h0M40.4 51.8h0M52.9 53.9h0M52.9 26.4h0M5.5 24.9h0M49.7 39.8h0M10.8 17.8h0M25.0 7.6h0M41.9 31.7h0M54.4 45.9h0M27.0 14.3h0M35.0 58.6h0M44.8 14.7h0M10.3 13.3h0M31.4 8.9h0M52.8 31.8h0M32.5 40.3h0M25.6 37.2h0M5.8 55.6h0M57.2 56.2h0M16.4 36.7h0M15.6 35.9h0M18.4 32.0h0M16.3 32.3h0M15.2 39.6h0M17.0 32.7h0M17.0 33.1h0M16.0 36.5h0M17.6 35.9h0M15.5 38.7h0M16.9 36.0h0M14.9 42.2h0M14.2 41.8h0M16.5 38.1h0M14.9 37.8h0M15.4 40.3h0M14.3 40.4h0M17.1 36.7h0M16.6 39.5h0M17.5 33.2h0M18.6 29.3h0M16.1 38.8h0M16.6 35.5h0M16.2 35.4h0M13.8 40.2h0M17.6 37.6h0M15.3 38.4h0M15.1 37.6h0M16.0 33.2h0M15.6 38.4h0M14.0 37.5h0M17.5 32.3h0M16.0 36.8h0M18.0 34.6h0M16.1 40.0h0M16.6 33.3h0M15.8 39.7h0M14.4 39.9h0M16.8 35.7h0M14.2 42.0h0M15.3 39.7h0M17.6 33.6h0M15.6 35.1h0M15.5 37.2h0M17.5 32.1h0M15.2 38.5h0M16.0 35.9h0M17.5 31.6h0M15.8 34.7h0M17.6 30.8h0M16.1 35.4h0M15.2 37.1h0M16.3 37.7h0M17.1 31.0h0M14.8 37.8h0M14.9 41.4h0M16.7 34.0h0M16.2 37.7h0M15.9 38.1h0M14.1 43.0h0M15.1 40.1h0M14.5 40.0h0M18.8 30.4h0M15.1 40.0h0M16.2 42.9h0M13.9 41.1h0M16.4 38.0h0M17.4 35.6h0M14.9 39.7h0M18.1 29.6h0M15.9 37.9h0M15.6 37.3h0M17.2 30.5h0M16.5 33.2h0M16.1 32.4h0M16.9 32.0h0M14.8 39.3h0M14.5 37.5h0M15.9 37.7h0M15.3 30.2h0M18.6 31.9h0M15.5 42.9h0M17.4 33.4h0M18.7 33.6h0M14.6 41.1h0M17.0 32.4h0M13.5 41.8h0M17.1 36.3h0M15.3 36.4h0M16.9 38.3h0M15.2 40.3h0M32.5 15.8h0M20.1 27.9h0M24.7 23.3h0M25.0 21.9h0M18.7 27.3h0M19.6 27.7h0M19.3 26.7h0M25.0 22.1h0M28.9 17.4h0M29.0 16.2h0M20.8 25.9h0M21.6 26.4h0M21.8 23.2h0M27.0 19.7h0M22.4 25.8h0M18.2 28.2h0M28.2 17.7h0M25.8 22.1h0M24.9 20.8h0M17.4 28.0h0M27.2 17.5h0M19.3 25.7h0M20.2 26.8h0M20.3 24.4h0M20.6 25.1h0M22.1 23.3h0M23.6 24.4h0M22.9 22.8h0M23.7 22.3h0M22.7 24.3h0M26.7 19.6h0M19.0 27.0h0M22.0 28.0h0M31.8 16.1h0M18.4 27.8h0M25.2 21.6h0M30.9 18.3h0M23.2 24.3h0M19.1 29.5h0M24.2 24.0h0M17.5 26.2h0M25.1 22.9h0M28.6 19.5h0M31.2 16.9h0M27.8 21.1h0M24.7 23.5h0M26.9 18.2h0M27.3 18.5h0M26.1 22.2h0M22.9 21.4h0M29.2 21.2h0M24.0 21.9h0M21.8 24.2h0M19.6 26.8h0M21.6 24.7h0M17.9 28.8h0M21.3 26.5h0M25.5 22.1h0M29.5 18.8h0M29.7 16.6h0M26.5 20.9h0M21.9 24.3h0M20.4 29.3h0M17.8 27.3h0M25.7 21.8h0M28.4 18.6h0M20.3 29.1h0M29.1 18.8h0M19.8 27.2h0M27.5 21.2h0M20.4 27.5h0M25.1 23.9h0M23.4 23.1h0M21.7 26.1h0M17.6 26.9h0M22.5 25.5h0M29.4 20.0h0M23.6 22.0h0M30.4 16.2h0M30.4 15.2h0M23.6 22.7h0M29.4 16.0h0M19.5 26.4h0M19.8 26.7h0M18.7 28.2h0M22.8 22.7h0M25.5 20.3h0M30.0 17.6h0M29.1 18.4h0M19.1 27.9h0M26.0 19.3h0M25.3 22.4h0M24.0 21.0h0M21.5 25.3h0M26.6 19.6h0M23.0 26.5h0M25.6 21.5h0M25.8 20.1h0M23.6 25.2h0M24.8 20.6h0M24.3 23.5h0M26.8 21.7h0M24.1 22.6h0M20.2 28.1h0M24.0 24.5h0M26.2 21.5h0M19.0 28.1h0M27.5 18.8h0M30.6 16.1h0M20.8 26.3h0M21.4 25.1h0M26.2 22.2h0M22.3 23.5h0M22.2 27.1h0M25.8 21.7h0M24.1 23.8h0M20.3 24.7h0M21.6 27.2h0M25.0 23.0h0M27.8 22.0h0M22.5 22.2h0M22.3 24.3h0M30.1 17.3h0M28.7 17.6h0M22.0 24.1h0M20.6 28.1h0M27.8 19.6h0M20.4 26.1h0M23.6 25.4h0M22.8 24.3h0M19.0 29.0h0M31.6 15.8h0M24.3 24.6h0M31.5 17.0h0M21.8 23.8h0M30.4 17.3h0M19.7 28.2h0M31.0 16.3h0M27.5 21.1h0M31.0 17.7h0M21.1 25.5h0M27.9 20.8h0M29.2 19.1h0M23.7 24.0h0M27.4 20.0h0M19.6 25.4h0M22.2 26.9h0M26.9 19.8h0M20.0 30.4h0M19.6 26.8h0M27.9 19.9h0M31.2 17.1h0M18.0 27.3h0M22.0 24.5h0M24.2 22.4h0M29.7 17.9h0M23.2 22.9h0M27.6 22.3h0M20.5 27.9h0M25.0 23.2h0M21.0 24.4h0M25.7 19.4h0M28.6 18.8h0M30.0 17.7h0M19.9 26.3h0M22.6 23.0h0M29.1 18.7h0M18.4 28.0h0M24.1 22.6h0" stroke="#4060c8" stroke-width="0.8" stroke-linecap="round" opacity="0.4" fill="none"/><defs><radialGradient id="g9"><stop offset="0" stop-color="#3454c4" stop-opacity="0.95"/><stop offset="0.6" stop-color="#3454c4" stop-opacity="0.7"/><stop offset="1" stop-color="#3454c4" stop-opacity="0"/></radialGradient></defs><ellipse cx="0" cy="0" rx="2.8" ry="7.0" fill="url(#g9)" opacity="1.0" transform="translate(164.00,207.60) rotate(0)"/><defs><radialGradient id="g10"><stop offset="0" stop-color="#e02018" stop-opacity="1"/><stop offset="0.12" stop-color="#e85020" stop-opacity="1"/><stop offset="0.26" stop-color="#f0d040" stop-opacity="1"/><stop offset="0.42" stop-color="#70c860" stop-opacity="1"/><stop offset="0.62" stop-color="#40c0d8" stop-opacity="1"/><stop offset="0.84" stop-color="#3a70d0" stop-opacity="0.85"/><stop offset="1" stop-color="#3454c4" stop-opacity="0"/></radialGradient></defs><ellipse cx="0" cy="0" rx="2.4" ry="4.8" fill="url(#g10)" opacity="1.0" transform="translate(164.00,209.10) rotate(0)"/><ellipse cx="0" cy="0" rx="15.5" ry="8" transform="translate(180.10,180.70) rotate(-40)" fill="none" stroke="#222" stroke-width="0.9"/>
<rect x="149.80" y="229.20" width="60.80" height="62.20" fill="#fff" stroke="#606060" stroke-width="1.15"/><path d="M149.80 229.20V291.40H210.60" fill="none" stroke="#2a2a2a" stroke-width="1"/><path d="M148.5 233.6h1.6M148.5 238.1h1.6M148.5 242.5h1.6M148.5 247.0h1.6M148.5 251.4h1.6M148.5 255.9h1.6M148.5 260.3h1.6M148.5 264.7h1.6M148.5 269.2h1.6M148.5 273.6h1.6M148.5 278.1h1.6M148.5 282.5h1.6M148.5 287.0h1.6M154.1 291.1v1.7M158.5 291.1v1.7M162.8 291.1v1.7M167.2 291.1v1.7M171.5 291.1v1.7M175.9 291.1v1.7M180.2 291.1v1.7M184.5 291.1v1.7M188.9 291.1v1.7M193.2 291.1v1.7M197.6 291.1v1.7M201.9 291.1v1.7M206.3 291.1v1.7" stroke="#333" stroke-width="0.6" fill="none"/><rect x="148.10" y="277.09" width="1.8" height="1.9" fill="#111"/><rect x="162.57" y="291.20" width="2" height="1.7" fill="#111"/><path transform="translate(149.80,229.20)" d="M14.3 42.0h0M13.6 47.4h0M13.0 39.2h0M12.4 48.9h0M15.4 47.1h0M14.5 49.6h0M12.7 42.5h0M12.2 45.4h0M14.0 47.7h0M12.7 47.3h0M14.1 45.5h0M14.2 48.6h0M12.2 47.4h0M14.2 47.2h0M15.8 42.7h0M14.2 45.5h0M14.2 48.2h0M14.6 45.5h0M14.7 47.8h0M14.4 44.4h0M15.1 46.0h0M13.8 44.7h0M13.7 52.1h0M14.9 46.3h0M14.0 47.1h0M14.5 49.1h0M12.9 45.8h0M13.9 47.7h0M13.3 45.3h0M12.7 53.0h0M14.1 46.0h0M16.7 44.2h0M12.1 51.6h0M16.0 50.4h0M15.2 51.5h0M13.1 39.5h0M13.7 50.4h0M14.7 45.7h0M14.7 49.8h0M14.4 47.0h0M15.1 46.6h0M13.5 43.6h0M14.0 45.9h0M15.2 48.6h0M14.3 46.7h0M15.5 47.9h0M15.3 45.4h0M14.9 46.4h0M13.5 41.5h0M14.5 49.5h0M15.4 47.1h0M14.2 42.8h0M14.4 44.2h0M13.6 43.4h0M13.9 45.6h0M12.9 47.5h0M14.3 50.1h0M15.2 46.7h0M15.5 44.7h0M12.2 46.1h0M13.8 42.9h0M12.8 50.6h0M13.1 44.9h0M13.8 47.5h0M14.7 50.1h0M12.5 45.1h0M13.3 47.2h0M13.5 45.5h0M15.6 45.3h0M13.8 49.6h0M15.5 40.1h0M13.6 40.5h0M14.5 43.6h0M13.2 48.0h0M15.5 47.6h0M12.5 44.6h0M12.7 53.3h0M14.1 42.4h0M14.5 53.2h0M13.6 42.4h0M14.4 48.2h0M14.9 52.6h0M12.7 47.9h0M13.5 41.2h0M14.0 48.3h0M14.7 45.9h0M15.2 46.3h0M15.0 46.6h0M14.3 43.3h0M14.5 47.2h0M15.4 47.5h0M13.2 49.7h0M14.8 48.0h0M13.4 45.4h0M13.9 44.1h0M14.2 41.9h0M12.9 48.7h0M12.9 51.8h0M14.2 43.8h0M15.0 42.9h0M15.2 42.7h0M15.3 44.4h0M13.3 50.4h0M15.3 44.7h0M13.9 42.3h0M13.9 48.0h0M13.8 45.0h0M12.6 48.0h0M13.4 48.5h0M15.5 45.4h0M13.6 45.8h0M14.2 43.4h0M13.7 39.0h0M14.5 44.5h0M15.5 44.4h0M14.3 47.1h0M14.2 50.3h0M14.1 46.3h0M14.6 45.9h0M14.8 43.3h0M14.8 41.1h0M13.9 43.5h0M13.5 46.1h0M14.2 46.9h0M12.8 51.1h0M14.1 45.2h0M13.6 49.0h0M13.0 45.8h0M14.5 44.6h0M13.3 43.0h0M14.8 46.5h0M15.2 49.1h0M15.5 41.5h0M14.9 43.1h0M13.1 43.3h0M13.9 49.6h0M14.8 48.3h0M12.5 51.9h0M14.5 49.7h0M14.5 46.7h0M12.9 45.9h0M11.3 44.9h0M12.8 46.9h0M14.6 45.2h0M14.3 44.7h0M15.4 42.9h0M14.6 40.5h0M14.6 46.6h0M13.9 46.8h0M14.7 45.3h0M21.2 47.2h0M40.0 46.4h0M24.8 44.0h0M16.4 46.5h0M21.8 45.2h0M23.0 49.2h0M26.8 47.9h0M26.8 49.6h0M33.7 49.6h0M42.5 47.4h0M21.4 47.6h0M18.6 50.4h0M29.5 46.4h0M24.1 47.9h0M38.2 46.4h0M31.9 46.3h0M44.1 48.9h0M18.2 49.7h0M22.0 49.0h0M33.9 48.9h0M35.6 45.3h0M19.9 46.0h0M17.5 12.3h0M56.8 10.0h0M49.5 25.8h0M50.0 28.8h0M54.6 45.0h0M45.4 7.7h0M40.1 6.6h0M36.3 26.1h0M11.0 30.7h0M20.0 30.6h0M36.8 11.3h0M28.7 27.9h0M52.9 55.8h0M17.9 24.7h0M28.1 22.3h0M54.8 51.7h0M12.7 50.0h0M49.0 51.9h0M25.8 5.9h0M41.2 15.0h0M17.8 34.1h0M14.3 40.6h0M15.5 40.2h0M16.3 34.9h0M16.7 36.4h0M15.2 41.3h0M15.2 35.2h0M15.1 35.8h0M15.8 35.7h0M18.5 33.5h0M18.4 34.0h0M16.0 35.1h0M16.3 38.1h0M17.4 33.4h0M16.6 30.9h0M17.1 35.5h0M14.2 34.8h0M15.7 35.5h0M15.7 40.6h0M18.3 30.0h0M15.9 33.8h0M15.6 39.3h0M16.6 37.4h0M17.3 34.2h0M16.6 37.0h0M17.6 30.6h0M13.8 42.1h0M16.2 39.3h0M14.5 38.3h0M17.1 32.1h0M16.0 34.7h0M18.7 31.6h0M15.7 33.9h0M15.8 35.7h0M16.5 39.1h0M16.9 33.8h0M14.0 42.1h0M17.1 35.3h0M16.9 38.3h0M18.3 32.4h0M17.0 31.9h0M16.0 39.0h0M17.1 32.3h0M14.2 40.1h0M16.5 35.4h0M17.0 34.4h0M18.2 34.0h0M16.1 38.1h0M18.8 32.3h0M17.9 33.6h0M15.4 42.1h0M15.9 36.9h0M16.5 41.1h0M18.4 31.4h0M16.9 33.1h0M14.5 38.7h0M14.0 41.3h0M15.3 42.0h0M17.9 29.5h0M27.5 20.3h0M19.3 27.0h0M30.6 15.3h0M28.8 18.4h0M20.6 26.1h0M24.5 23.7h0M21.2 25.5h0M27.8 20.2h0M23.9 22.8h0M24.6 22.5h0M20.2 26.6h0M20.4 25.7h0M19.2 28.0h0M27.8 22.3h0M25.8 22.0h0M31.5 16.4h0M19.1 24.7h0M25.1 21.6h0M28.0 19.8h0M26.3 20.0h0M23.1 26.7h0M30.3 15.9h0M31.1 16.0h0M20.8 24.7h0M23.0 25.1h0M25.9 21.1h0M22.7 24.9h0M22.9 23.5h0M19.8 27.4h0M22.8 24.9h0M20.9 25.0h0M26.3 21.3h0M28.1 17.4h0M27.8 19.6h0M19.2 28.5h0M20.6 27.5h0M22.1 24.5h0M20.5 25.3h0M22.8 25.0h0M24.8 21.6h0M27.6 20.4h0M23.5 23.4h0M31.2 17.7h0M19.8 26.6h0M20.8 25.7h0M17.5 29.1h0M23.3 23.9h0M24.3 25.0h0M23.4 23.3h0M31.4 16.6h0M18.7 27.3h0M27.8 19.6h0M26.5 20.3h0M28.9 19.7h0M24.8 21.0h0M26.1 20.1h0M32.7 14.9h0M24.7 22.5h0M23.6 24.1h0M19.8 26.7h0M27.7 18.4h0M20.0 27.0h0M23.9 24.9h0M29.0 16.6h0M19.0 28.6h0M30.3 16.5h0M30.2 15.2h0M28.3 18.6h0M19.9 27.4h0M16.4 29.7h0M30.8 15.7h0M21.2 25.1h0M19.9 26.5h0M33.1 15.5h0M27.1 19.0h0M27.3 20.2h0M28.4 18.6h0M21.4 25.5h0M27.2 20.0h0M23.1 23.8h0M29.1 16.5h0M19.4 28.8h0M19.6 26.4h0M20.1 25.8h0M21.9 23.9h0M18.1 30.5h0M21.5 25.6h0M25.6 21.0h0M22.1 24.7h0M22.5 25.7h0M20.4 27.4h0M23.9 23.4h0M22.9 23.8h0M23.5 22.9h0M26.2 20.3h0M19.5 27.2h0M24.9 20.9h0M26.0 22.5h0M26.7 21.4h0M20.1 25.8h0M30.2 17.9h0M24.3 21.7h0M23.0 23.8h0M20.8 26.2h0M30.5 17.3h0M20.5 28.2h0M31.7 15.0h0M28.7 17.7h0M18.9 28.1h0M23.4 24.0h0" stroke="#4060c8" stroke-width="0.8" stroke-linecap="round" opacity="0.4" fill="none"/><defs><radialGradient id="g11"><stop offset="0" stop-color="#3454c4" stop-opacity="0.95"/><stop offset="0.6" stop-color="#3454c4" stop-opacity="0.7"/><stop offset="1" stop-color="#3454c4" stop-opacity="0"/></radialGradient></defs><ellipse cx="0" cy="0" rx="2.8" ry="7.0" fill="url(#g11)" opacity="1.0" transform="translate(164.00,274.50) rotate(0)"/><defs><radialGradient id="g12"><stop offset="0" stop-color="#e02018" stop-opacity="1"/><stop offset="0.12" stop-color="#e85020" stop-opacity="1"/><stop offset="0.26" stop-color="#f0d040" stop-opacity="1"/><stop offset="0.42" stop-color="#70c860" stop-opacity="1"/><stop offset="0.62" stop-color="#40c0d8" stop-opacity="1"/><stop offset="0.84" stop-color="#3a70d0" stop-opacity="0.85"/><stop offset="1" stop-color="#3454c4" stop-opacity="0"/></radialGradient></defs><ellipse cx="0" cy="0" rx="2.4" ry="4.8" fill="url(#g12)" opacity="1.0" transform="translate(164.00,276.00) rotate(0)"/><ellipse cx="0" cy="0" rx="15.5" ry="8" transform="translate(180.10,247.60) rotate(-40)" fill="none" stroke="#222" stroke-width="0.9"/>
<rect x="149.80" y="296.10" width="60.80" height="61.80" fill="#fff" stroke="#606060" stroke-width="1.15"/><path d="M149.80 296.10V357.90H210.60" fill="none" stroke="#2a2a2a" stroke-width="1"/><path d="M148.5 300.5h1.6M148.5 304.9h1.6M148.5 309.3h1.6M148.5 313.8h1.6M148.5 318.2h1.6M148.5 322.6h1.6M148.5 327.0h1.6M148.5 331.4h1.6M148.5 335.8h1.6M148.5 340.2h1.6M148.5 344.7h1.6M148.5 349.1h1.6M148.5 353.5h1.6M154.1 357.6v1.7M158.5 357.6v1.7M162.8 357.6v1.7M167.2 357.6v1.7M171.5 357.6v1.7M175.9 357.6v1.7M180.2 357.6v1.7M184.5 357.6v1.7M188.9 357.6v1.7M193.2 357.6v1.7M197.6 357.6v1.7M201.9 357.6v1.7M206.3 357.6v1.7" stroke="#333" stroke-width="0.6" fill="none"/><rect x="148.10" y="343.69" width="1.8" height="1.9" fill="#111"/><rect x="162.57" y="357.70" width="2" height="1.7" fill="#111"/><path transform="translate(149.80,296.10)" d="M15.8 49.4h0M13.6 45.1h0M14.4 42.3h0M14.8 42.7h0M13.9 41.2h0M13.9 47.4h0M14.6 45.4h0M11.3 43.1h0M13.7 48.2h0M13.7 47.7h0M14.2 43.8h0M15.4 48.1h0M14.2 48.2h0M16.1 46.9h0M13.2 49.1h0M12.2 47.0h0M15.5 48.0h0M14.6 44.2h0M13.4 47.4h0M13.1 52.8h0M14.4 51.2h0M15.9 47.7h0M15.7 48.9h0M14.8 47.1h0M14.1 48.7h0M14.4 42.8h0M14.8 46.8h0M12.8 48.6h0M13.5 43.6h0M15.1 39.5h0M17.1 43.4h0M16.8 42.0h0M13.9 41.8h0M13.3 44.8h0M14.7 43.8h0M15.1 44.5h0M16.1 47.1h0M14.1 46.3h0M14.9 41.4h0M15.0 44.0h0M14.5 48.1h0M12.7 45.3h0M13.5 45.5h0M15.8 52.8h0M16.6 46.2h0M13.8 46.1h0M14.4 50.0h0M15.3 42.9h0M15.9 50.5h0M13.5 43.8h0M14.3 43.2h0M14.0 46.1h0M16.2 49.5h0M12.6 48.8h0M13.5 48.5h0M15.8 50.4h0M14.2 51.4h0M14.6 48.6h0M15.5 48.7h0M15.4 44.2h0M13.7 44.5h0M14.7 45.9h0M14.2 50.2h0M13.7 44.4h0M13.8 45.5h0M15.2 47.3h0M12.4 43.4h0M11.9 47.7h0M14.5 38.3h0M13.9 43.3h0M13.2 42.8h0M14.2 48.1h0M13.6 49.7h0M15.1 47.2h0M15.6 51.8h0M13.0 47.5h0M14.9 48.8h0M16.0 45.0h0M14.7 45.4h0M15.4 42.1h0M13.5 48.2h0M14.9 45.0h0M14.1 50.6h0M13.1 46.2h0M12.8 48.5h0M14.0 43.1h0M14.9 45.4h0M14.0 49.2h0M15.4 46.4h0M13.4 46.6h0M13.1 47.3h0M13.1 44.5h0M13.7 48.7h0M14.5 45.5h0M14.6 45.3h0M14.7 49.1h0M14.9 46.1h0M15.8 47.9h0M13.7 46.2h0M15.2 43.8h0M14.0 45.0h0M14.0 45.7h0M14.1 50.2h0M16.5 46.0h0M15.0 52.4h0M14.6 45.5h0M14.8 47.0h0M15.0 46.3h0M12.8 45.2h0M13.4 47.6h0M12.5 44.2h0M14.3 47.1h0M11.8 48.6h0M14.4 45.4h0M13.9 39.8h0M14.3 45.7h0M15.3 46.6h0M16.3 44.2h0M13.5 53.3h0M14.6 43.4h0M14.4 47.8h0M14.0 47.3h0M12.8 46.2h0M14.6 46.1h0M15.3 48.6h0M14.5 47.7h0M12.9 43.9h0M14.3 43.5h0M14.3 46.6h0M14.6 41.6h0M15.3 48.3h0M15.3 47.3h0M15.5 39.5h0M12.5 43.3h0M11.6 46.6h0M14.2 46.9h0M11.2 47.2h0M13.2 42.8h0M14.5 41.7h0M14.1 43.6h0M13.1 51.3h0M14.2 49.9h0M14.4 50.6h0M12.1 47.7h0M13.9 48.0h0M14.4 46.3h0M14.1 52.0h0M14.7 46.3h0M14.6 45.7h0M14.4 43.4h0M17.5 45.8h0M36.6 51.2h0M32.2 47.0h0M28.8 43.7h0M40.3 48.5h0M29.8 44.9h0M40.0 48.6h0M36.1 47.8h0M32.9 46.8h0M34.5 48.0h0M17.4 47.8h0M15.8 44.7h0M23.4 48.6h0M35.5 45.8h0M32.4 46.3h0M30.6 49.6h0M38.8 48.3h0M19.7 46.0h0M31.6 49.7h0M29.3 49.5h0M18.7 46.5h0M29.1 46.8h0M17.7 34.8h0M48.1 57.4h0M28.1 19.4h0M30.6 45.5h0M54.5 41.4h0M48.7 26.1h0M6.1 39.4h0M23.8 13.0h0M17.4 23.6h0M10.9 25.7h0M35.0 23.5h0M20.3 32.3h0M25.4 9.8h0M35.6 6.5h0M51.5 46.5h0M7.8 37.9h0M27.5 35.8h0M29.0 45.7h0M27.0 47.5h0M50.3 10.6h0M15.0 41.7h0M16.8 32.8h0M14.8 36.0h0M17.3 33.3h0M15.0 40.8h0M17.2 35.7h0M16.9 34.7h0M16.8 33.9h0M13.9 39.0h0M18.2 29.9h0M18.5 32.1h0M17.6 32.5h0M15.7 37.4h0M18.1 29.9h0M16.3 41.8h0M17.1 34.4h0M14.4 41.8h0M16.9 34.8h0M18.3 31.6h0M16.0 37.8h0M15.9 32.8h0M15.4 30.7h0M15.0 34.3h0M16.7 36.0h0M17.2 36.4h0M18.0 35.3h0M19.4 31.1h0M17.5 32.3h0M17.9 32.2h0M15.6 37.9h0M18.0 31.2h0M15.2 41.0h0M17.4 35.3h0M17.4 34.8h0M17.2 32.6h0M16.4 41.0h0M17.7 31.1h0M19.1 29.2h0M16.4 35.7h0M16.2 37.4h0M16.5 39.8h0M17.5 31.6h0M16.1 38.5h0M18.0 30.3h0M17.5 36.3h0M16.3 32.5h0M15.5 38.1h0M15.8 35.1h0M15.3 40.1h0M16.3 37.0h0M15.2 32.2h0M17.1 33.0h0M15.2 37.9h0M16.3 32.2h0M17.9 31.3h0M18.4 36.3h0M15.4 36.5h0M15.1 37.9h0M14.1 39.3h0M17.4 29.8h0M18.1 31.5h0M16.5 34.7h0M14.9 41.1h0M14.8 41.8h0M17.1 37.2h0M17.0 38.9h0M15.5 37.4h0M16.7 33.2h0M17.5 33.1h0M15.9 37.8h0M15.6 39.8h0M14.9 40.2h0M17.9 33.6h0M14.9 35.2h0M17.8 33.0h0M15.5 35.0h0M16.8 34.6h0M25.2 22.2h0M17.9 27.1h0M28.2 19.5h0M24.8 22.5h0M24.1 21.6h0M26.7 20.8h0M19.9 25.8h0M20.2 25.8h0M25.9 18.4h0M23.8 19.9h0M18.1 29.2h0M30.1 15.8h0M26.8 22.0h0M21.8 24.4h0M27.8 20.6h0M22.2 25.1h0M20.6 25.2h0M28.9 16.5h0M23.6 24.1h0M24.4 24.4h0M27.3 17.2h0M28.4 18.7h0M25.9 21.1h0M24.5 22.9h0M21.6 27.0h0M23.0 23.7h0M19.7 26.9h0M28.3 18.1h0M20.0 28.7h0M25.0 20.9h0M18.8 28.8h0M18.2 28.0h0M24.5 22.5h0M31.7 17.4h0M30.1 17.9h0M21.1 26.5h0M28.5 16.4h0M31.7 16.7h0M24.6 21.8h0M29.4 17.3h0M21.4 25.1h0M27.1 20.0h0M23.2 22.8h0M25.9 21.5h0M22.3 24.5h0M28.2 19.0h0M23.6 23.5h0M22.7 23.7h0M25.4 20.6h0M17.3 28.9h0M19.6 27.7h0M27.0 20.1h0M29.0 16.9h0M25.0 21.1h0M29.8 18.4h0M23.4 22.0h0M21.4 24.8h0M29.4 16.5h0M19.2 26.4h0M20.9 25.7h0M28.5 19.5h0M20.2 26.5h0M21.3 28.0h0M20.0 27.4h0M29.0 16.6h0M23.4 24.1h0M21.2 27.2h0M21.0 29.2h0M32.6 15.2h0M21.6 25.2h0M31.4 15.1h0M28.4 18.0h0M28.4 17.9h0M23.7 25.0h0M31.5 16.9h0M26.9 19.2h0M22.8 23.7h0M22.5 21.3h0M24.9 20.3h0M28.0 20.3h0M28.3 20.3h0M28.5 18.7h0M22.6 27.1h0M20.0 26.9h0M27.9 19.1h0M21.4 25.0h0M30.2 19.0h0M27.2 20.5h0M18.3 27.7h0M23.5 23.9h0M31.2 17.0h0M24.0 22.3h0M28.3 19.6h0M26.6 19.3h0M30.4 17.5h0M19.3 28.5h0M19.9 26.3h0M27.8 20.0h0M29.3 16.9h0M22.3 24.1h0M29.3 18.6h0M20.0 25.4h0M22.2 24.2h0M21.2 24.0h0M21.2 25.2h0M30.6 16.8h0M20.7 27.8h0M24.2 23.6h0M18.1 31.0h0M25.1 20.9h0M21.6 24.8h0M25.5 21.7h0M19.2 27.1h0M17.3 28.3h0M31.0 15.4h0M28.6 18.8h0M28.6 17.1h0M29.7 17.3h0M19.0 26.0h0M31.3 18.4h0M20.7 24.3h0M33.4 15.9h0M23.2 23.8h0M25.6 21.5h0M21.1 26.9h0M27.5 17.8h0M25.0 24.5h0M29.6 16.5h0M29.1 17.0h0M32.4 16.7h0M22.4 25.2h0M24.6 21.3h0M27.5 17.4h0M28.2 18.2h0M22.7 22.8h0M32.0 16.8h0M32.4 15.4h0M22.8 24.3h0M21.1 27.7h0M22.0 25.3h0M27.7 19.0h0M22.1 25.0h0M18.9 27.8h0" stroke="#4060c8" stroke-width="0.8" stroke-linecap="round" opacity="0.4" fill="none"/><defs><radialGradient id="g13"><stop offset="0" stop-color="#3454c4" stop-opacity="0.95"/><stop offset="0.6" stop-color="#3454c4" stop-opacity="0.7"/><stop offset="1" stop-color="#3454c4" stop-opacity="0"/></radialGradient></defs><ellipse cx="0" cy="0" rx="2.8" ry="7.0" fill="url(#g13)" opacity="1.0" transform="translate(164.00,341.40) rotate(0)"/><defs><radialGradient id="g14"><stop offset="0" stop-color="#e02018" stop-opacity="1"/><stop offset="0.12" stop-color="#e85020" stop-opacity="1"/><stop offset="0.26" stop-color="#f0d040" stop-opacity="1"/><stop offset="0.42" stop-color="#70c860" stop-opacity="1"/><stop offset="0.62" stop-color="#40c0d8" stop-opacity="1"/><stop offset="0.84" stop-color="#3a70d0" stop-opacity="0.85"/><stop offset="1" stop-color="#3454c4" stop-opacity="0"/></radialGradient></defs><ellipse cx="0" cy="0" rx="2.4" ry="4.8" fill="url(#g14)" opacity="1.0" transform="translate(164.00,342.90) rotate(0)"/><ellipse cx="0" cy="0" rx="15.5" ry="8" transform="translate(180.10,314.50) rotate(-40)" fill="none" stroke="#222" stroke-width="0.9"/>
<text x="101.60" y="130.60" font-size="12" fill="#111" text-anchor="start" textLength="20.8" lengthAdjust="spacingAndGlyphs">10.5</text>
<text x="101.40" y="197.60" font-size="12" fill="#111" text-anchor="start" textLength="20.8" lengthAdjust="spacingAndGlyphs">10.9</text>
<text x="101.60" y="264.80" font-size="12" fill="#111" text-anchor="start" textLength="20.8" lengthAdjust="spacingAndGlyphs">10.2</text>
<text x="100.80" y="330.90" font-size="12" fill="#111" text-anchor="start" textLength="22.0" lengthAdjust="spacingAndGlyphs">9.17</text>
<text x="181.30" y="135.30" font-size="12" fill="#111" text-anchor="start" textLength="27.6" lengthAdjust="spacingAndGlyphs">0.021</text>
<text x="184.60" y="200.40" font-size="12" fill="#111" text-anchor="start" textLength="21.6" lengthAdjust="spacingAndGlyphs">1.80</text>
<text x="183.40" y="267.50" font-size="12" fill="#3b8ad0" text-anchor="start" textLength="21.8" lengthAdjust="spacingAndGlyphs">0.88</text>
<text x="185.20" y="340.30" font-size="12" fill="#e8262c" text-anchor="start" textLength="20.8" lengthAdjust="spacingAndGlyphs">1.44</text>
<text x="16.40" y="135.40" font-size="10.6" fill="#111" text-anchor="start" textLength="24.4" lengthAdjust="spacingAndGlyphs">eGFP</text>
<text x="17.50" y="194.40" font-size="10.6" fill="#111" text-anchor="start" textLength="20.4" lengthAdjust="spacingAndGlyphs">OVA</text>
<text x="21.90" y="267.30" font-size="10.6" fill="#3b8ad0" text-anchor="start" textLength="15.6" lengthAdjust="spacingAndGlyphs">E.O</text>
<text x="16.00" y="326.60" font-size="10.6" fill="#e8262c" text-anchor="start" textLength="27.8" lengthAdjust="spacingAndGlyphs">M.E.O</text>
<line x1="49.70" y1="96.60" x2="49.70" y2="361.30" stroke="#111" stroke-width="1.2"/>
<path d="M44.70 101.20 L49.70 96.20 L54.70 101.20" fill="none" stroke="#111" stroke-width="1.2"/>
<text transform="translate(46.80,358.20) rotate(-90)" font-size="11.6" fill="#222" text-anchor="start" textLength="22" lengthAdjust="spacingAndGlyphs">CD8</text>
<line x1="138.80" y1="97.70" x2="138.80" y2="359.80" stroke="#111" stroke-width="1.2"/>
<path d="M133.80 102.30 L138.80 97.30 L143.80 102.30" fill="none" stroke="#111" stroke-width="1.2"/>
<text transform="translate(136.2,355.2) rotate(-90)" font-size="11" fill="#222" textLength="75" lengthAdjust="spacingAndGlyphs">SIINFEKL-H-2K<tspan font-size="7" dy="-4">b</tspan></text>
<line x1="65.00" y1="372.60" x2="120.40" y2="372.60" stroke="#111" stroke-width="1.2"/>
<path d="M116.60 368.60 L120.80 372.60 L116.60 376.60" fill="none" stroke="#111" stroke-width="1.2"/>
<text x="66.00" y="383.40" font-size="11" fill="#222" text-anchor="start" textLength="28.2" lengthAdjust="spacingAndGlyphs">TCRb</text>
<line x1="153.00" y1="373.00" x2="207.80" y2="373.00" stroke="#111" stroke-width="1.2"/>
<path d="M204.00 369.00 L208.20 373.00 L204.00 377.00" fill="none" stroke="#111" stroke-width="1.2"/>
<text x="141.7" y="385.4" font-size="11" fill="#222" textLength="85" lengthAdjust="spacingAndGlyphs">SIINFEKL-H-2K<tspan font-size="7" dy="-4">b</tspan></text>
<text x="62.10" y="367.00" font-size="8.3" fill="#1a1a1a" text-anchor="start" textLength="12.1" lengthAdjust="spacingAndGlyphs" stroke="#1a1a1a" stroke-width="0.22">10<tspan font-size="5.48" dy="-2.99">-3</tspan></text>
<text x="74.70" y="367.00" font-size="8.3" fill="#1a1a1a" text-anchor="start" textLength="3.8" lengthAdjust="spacingAndGlyphs" stroke="#1a1a1a" stroke-width="0.22">0</text>
<text x="81.80" y="367.00" font-size="8.3" fill="#1a1a1a" text-anchor="start" textLength="11.0" lengthAdjust="spacingAndGlyphs" stroke="#1a1a1a" stroke-width="0.22">10<tspan font-size="5.48" dy="-2.99">3</tspan></text>
<text x="98.30" y="367.00" font-size="8.3" fill="#1a1a1a" text-anchor="start" textLength="11.5" lengthAdjust="spacingAndGlyphs" stroke="#1a1a1a" stroke-width="0.22">10<tspan font-size="5.48" dy="-2.99">4</tspan></text>
<text x="114.10" y="367.00" font-size="8.3" fill="#1a1a1a" text-anchor="start" textLength="11.0" lengthAdjust="spacingAndGlyphs" stroke="#1a1a1a" stroke-width="0.22">10<tspan font-size="5.48" dy="-2.99">5</tspan></text>
<text transform="translate(60.70,305.60) rotate(-90)" font-size="7.6" fill="#1a1a1a" text-anchor="start" stroke="#1a1a1a" stroke-width="0.28">10<tspan font-size="5.47" dy="-3.19">5</tspan></text>
<text transform="translate(60.70,321.20) rotate(-90)" font-size="7.6" fill="#1a1a1a" text-anchor="start" stroke="#1a1a1a" stroke-width="0.28">10<tspan font-size="5.47" dy="-3.19">4</tspan></text>
<text transform="translate(60.70,335.50) rotate(-90)" font-size="7.6" fill="#1a1a1a" text-anchor="start" stroke="#1a1a1a" stroke-width="0.28">10<tspan font-size="5.47" dy="-3.19">3</tspan></text>
<text transform="translate(60.70,344.50) rotate(-90)" font-size="7.6" fill="#1a1a1a" text-anchor="start" stroke="#1a1a1a" stroke-width="0.28">0<tspan font-size="5.17" dy="-3.19"></tspan></text>
<text transform="translate(60.70,360.00) rotate(-90)" font-size="7.6" fill="#1a1a1a" text-anchor="start" stroke="#1a1a1a" stroke-width="0.28">10<tspan font-size="5.47" dy="-3.19">-3</tspan></text>
<text x="149.60" y="367.60" font-size="8.3" fill="#1a1a1a" text-anchor="start" textLength="10.9" lengthAdjust="spacingAndGlyphs" stroke="#1a1a1a" stroke-width="0.22">10<tspan font-size="5.48" dy="-2.99">-3</tspan></text>
<text x="162.40" y="367.60" font-size="8.3" fill="#1a1a1a" text-anchor="start" textLength="3.6" lengthAdjust="spacingAndGlyphs" stroke="#1a1a1a" stroke-width="0.22">0</text>
<text x="169.50" y="367.60" font-size="8.3" fill="#1a1a1a" text-anchor="start" textLength="10.8" lengthAdjust="spacingAndGlyphs" stroke="#1a1a1a" stroke-width="0.22">10<tspan font-size="5.48" dy="-2.99">3</tspan></text>
<text x="184.90" y="367.60" font-size="8.3" fill="#1a1a1a" text-anchor="start" textLength="11.1" lengthAdjust="spacingAndGlyphs" stroke="#1a1a1a" stroke-width="0.22">10<tspan font-size="5.48" dy="-2.99">4</tspan></text>
<text x="201.00" y="367.60" font-size="8.3" fill="#1a1a1a" text-anchor="start" textLength="11.0" lengthAdjust="spacingAndGlyphs" stroke="#1a1a1a" stroke-width="0.22">10<tspan font-size="5.48" dy="-2.99">5</tspan></text>
<text transform="translate(148.00,306.70) rotate(-90)" font-size="7.4" fill="#1a1a1a" text-anchor="start" stroke="#1a1a1a" stroke-width="0.28">10<tspan font-size="5.33" dy="-3.11">5</tspan></text>
<text transform="translate(148.00,321.50) rotate(-90)" font-size="7.4" fill="#1a1a1a" text-anchor="start" stroke="#1a1a1a" stroke-width="0.28">10<tspan font-size="5.33" dy="-3.11">4</tspan></text>
<text transform="translate(148.00,334.90) rotate(-90)" font-size="7.4" fill="#1a1a1a" text-anchor="start" stroke="#1a1a1a" stroke-width="0.28">10<tspan font-size="5.33" dy="-3.11">3</tspan></text>
<text transform="translate(148.00,344.80) rotate(-90)" font-size="7.4" fill="#1a1a1a" text-anchor="start" stroke="#1a1a1a" stroke-width="0.28">0<tspan font-size="5.03" dy="-3.11"></tspan></text>
<text transform="translate(148.00,359.60) rotate(-90)" font-size="7.4" fill="#1a1a1a" text-anchor="start" stroke="#1a1a1a" stroke-width="0.28">10<tspan font-size="5.33" dy="-3.11">-3</tspan></text>
<line x1="257.30" y1="155.80" x2="257.30" y2="292.30" stroke="#333" stroke-width="1.0"/>
<line x1="252.30" y1="155.80" x2="257.30" y2="155.80" stroke="#333" stroke-width="1.0"/>
<text x="248.60" y="160.10" font-size="12" fill="#111" text-anchor="end" textLength="16.8" lengthAdjust="spacingAndGlyphs">2.5</text>
<line x1="252.30" y1="183.10" x2="257.30" y2="183.10" stroke="#333" stroke-width="1.0"/>
<text x="248.60" y="187.40" font-size="12" fill="#111" text-anchor="end" textLength="6.2" lengthAdjust="spacingAndGlyphs">2</text>
<line x1="252.30" y1="210.40" x2="257.30" y2="210.40" stroke="#333" stroke-width="1.0"/>
<text x="248.60" y="214.70" font-size="12" fill="#111" text-anchor="end" textLength="16.8" lengthAdjust="spacingAndGlyphs">1.5</text>
<line x1="252.30" y1="237.80" x2="257.30" y2="237.80" stroke="#333" stroke-width="1.0"/>
<text x="248.60" y="242.10" font-size="12" fill="#111" text-anchor="end" textLength="4.8" lengthAdjust="spacingAndGlyphs">1</text>
<line x1="252.30" y1="265.10" x2="257.30" y2="265.10" stroke="#333" stroke-width="1.0"/>
<text x="248.60" y="269.40" font-size="12" fill="#111" text-anchor="end" textLength="16.8" lengthAdjust="spacingAndGlyphs">0.5</text>
<line x1="252.30" y1="292.30" x2="257.30" y2="292.30" stroke="#333" stroke-width="1.0"/>
<text x="248.60" y="296.60" font-size="12" fill="#111" text-anchor="end" textLength="6.6" lengthAdjust="spacingAndGlyphs">0</text>
<line x1="257.30" y1="292.30" x2="393.40" y2="292.30" stroke="#333" stroke-width="1.0"/>
<line x1="278.20" y1="292.30" x2="278.20" y2="297.30" stroke="#555" stroke-width="1.0"/>
<line x1="309.70" y1="292.30" x2="309.70" y2="297.30" stroke="#555" stroke-width="1.0"/>
<line x1="341.20" y1="292.30" x2="341.20" y2="297.30" stroke="#555" stroke-width="1.0"/>
<line x1="372.80" y1="292.30" x2="372.80" y2="297.30" stroke="#555" stroke-width="1.0"/>
<text x="260.70" y="307.80" font-size="10.6" fill="#222" text-anchor="start" textLength="24.5" lengthAdjust="spacingAndGlyphs">eGFP</text>
<text x="299.30" y="307.80" font-size="10.6" fill="#222" text-anchor="start" textLength="20.0" lengthAdjust="spacingAndGlyphs">OVA</text>
<text x="333.50" y="307.80" font-size="10.6" fill="#3b8ad0" text-anchor="start" textLength="15.2" lengthAdjust="spacingAndGlyphs">E.O</text>
<text x="359.30" y="307.80" font-size="10.6" fill="#e8262c" text-anchor="start" textLength="27.5" lengthAdjust="spacingAndGlyphs">M.E.O</text>
<text transform="translate(227.2,291.6) rotate(-90)" font-size="11" fill="#222" textLength="164" lengthAdjust="spacingAndGlyphs">% SIINFEKL-H-2K<tspan font-size="7" dy="-4">b</tspan><tspan dy="4">+ CD8+ T cells</tspan></text>
<text x="336.80" y="134.00" font-size="10.6" fill="#222" text-anchor="start" textLength="33.0" lengthAdjust="spacingAndGlyphs">0.0040</text>
<line x1="339.40" y1="136.50" x2="369.80" y2="136.50" stroke="#8a8a8a" stroke-width="1.3"/>
<text x="303.90" y="148.30" font-size="10.6" fill="#222" text-anchor="start" textLength="37.6" lengthAdjust="spacingAndGlyphs">&lt;0.0001</text>
<line x1="307.50" y1="150.60" x2="341.00" y2="150.60" stroke="#8a8a8a" stroke-width="1.3"/>
<text x="321.80" y="162.00" font-size="10.6" fill="#222" text-anchor="start" textLength="32.2" lengthAdjust="spacingAndGlyphs">0.2459</text>
<line x1="307.30" y1="165.30" x2="372.90" y2="165.30" stroke="#8a8a8a" stroke-width="1.3"/>
<circle cx="270.2" cy="292.0" r="2.55" fill="#f4f4f4" stroke="#2a2a2a" stroke-width="0.8"/>
<circle cx="275.7" cy="289.4" r="2.55" fill="#f4f4f4" stroke="#2a2a2a" stroke-width="0.8"/>
<circle cx="280.7" cy="290.9" r="2.55" fill="#f4f4f4" stroke="#2a2a2a" stroke-width="0.8"/>
<circle cx="286.1" cy="290.2" r="2.55" fill="#f4f4f4" stroke="#2a2a2a" stroke-width="0.8"/>
<line x1="299.30" y1="200.10" x2="320.20" y2="200.10" stroke="#555" stroke-width="1.1"/>
<circle cx="301.8" cy="193.7" r="2.9" fill="#0a0a0a"/>
<circle cx="309.8" cy="190.9" r="2.9" fill="#0a0a0a"/>
<circle cx="317.6" cy="194.2" r="2.9" fill="#0a0a0a"/>
<circle cx="305.8" cy="212.1" r="2.9" fill="#0a0a0a"/>
<circle cx="313.7" cy="211.8" r="2.9" fill="#0a0a0a"/>
<line x1="330.90" y1="273.90" x2="351.60" y2="273.90" stroke="#888" stroke-width="1.6"/>
<circle cx="341.2" cy="244.2" r="2.8" fill="#4a8fd6" stroke="#1c3450" stroke-width="0.6"/>
<circle cx="341.2" cy="264.8" r="2.8" fill="#4a8fd6" stroke="#1c3450" stroke-width="0.6"/>
<circle cx="341.2" cy="270.9" r="2.8" fill="#4a8fd6" stroke="#1c3450" stroke-width="0.6"/>
<circle cx="341.2" cy="284.5" r="2.8" fill="#4a8fd6" stroke="#1c3450" stroke-width="0.6"/>
<circle cx="333.5" cy="289.2" r="2.8" fill="#4a8fd6" stroke="#1c3450" stroke-width="0.6"/>
<circle cx="348.9" cy="288.3" r="2.8" fill="#4a8fd6" stroke="#1c3450" stroke-width="0.6"/>
<line x1="362.70" y1="219.00" x2="383.40" y2="219.00" stroke="#888" stroke-width="1.6"/>
<circle cx="372.9" cy="177.8" r="2.8" fill="#ec2a22" stroke="#4a1010" stroke-width="0.6"/>
<circle cx="372.9" cy="188.3" r="2.8" fill="#ec2a22" stroke="#4a1010" stroke-width="0.6"/>
<circle cx="372.9" cy="213.8" r="2.8" fill="#ec2a22" stroke="#4a1010" stroke-width="0.6"/>
<circle cx="364.9" cy="234.9" r="2.8" fill="#ec2a22" stroke="#4a1010" stroke-width="0.6"/>
<circle cx="380.4" cy="237.0" r="2.8" fill="#ec2a22" stroke="#4a1010" stroke-width="0.6"/>
<circle cx="372.8" cy="261.2" r="2.8" fill="#ec2a22" stroke="#4a1010" stroke-width="0.6"/>
<text x="393.00" y="98.80" font-size="11.5" fill="#111" text-anchor="start">C</text>
<line x1="580.20" y1="165.40" x2="580.20" y2="293.20" stroke="#333" stroke-width="1.0"/>
<line x1="575.20" y1="165.40" x2="580.20" y2="165.40" stroke="#333" stroke-width="1.0"/>
<text x="572.60" y="169.70" font-size="12" fill="#111" text-anchor="end" textLength="27.8" lengthAdjust="spacingAndGlyphs">4000</text>
<line x1="575.20" y1="197.40" x2="580.20" y2="197.40" stroke="#333" stroke-width="1.0"/>
<text x="572.60" y="201.70" font-size="12" fill="#111" text-anchor="end" textLength="27.8" lengthAdjust="spacingAndGlyphs">3000</text>
<line x1="575.20" y1="229.30" x2="580.20" y2="229.30" stroke="#333" stroke-width="1.0"/>
<text x="572.60" y="233.60" font-size="12" fill="#111" text-anchor="end" textLength="27.8" lengthAdjust="spacingAndGlyphs">2000</text>
<line x1="575.20" y1="261.30" x2="580.20" y2="261.30" stroke="#333" stroke-width="1.0"/>
<text x="572.60" y="265.60" font-size="12" fill="#111" text-anchor="end" textLength="27.8" lengthAdjust="spacingAndGlyphs">1000</text>
<line x1="575.20" y1="293.20" x2="580.20" y2="293.20" stroke="#333" stroke-width="1.0"/>
<text x="572.60" y="297.50" font-size="12" fill="#111" text-anchor="end" textLength="6.8" lengthAdjust="spacingAndGlyphs">0</text>
<line x1="580.20" y1="293.20" x2="678.20" y2="293.20" stroke="#333" stroke-width="1.0"/>
<line x1="599.70" y1="293.20" x2="599.70" y2="298.20" stroke="#555" stroke-width="1.0"/>
<line x1="628.90" y1="293.20" x2="628.90" y2="298.20" stroke="#555" stroke-width="1.0"/>
<line x1="658.30" y1="293.20" x2="658.30" y2="298.20" stroke="#555" stroke-width="1.0"/>
<text x="589.30" y="309.60" font-size="10.6" fill="#222" text-anchor="start" textLength="20.4" lengthAdjust="spacingAndGlyphs">OVA</text>
<text x="621.60" y="309.60" font-size="10.6" fill="#3b8ad0" text-anchor="start" textLength="15.9" lengthAdjust="spacingAndGlyphs">E.O</text>
<text x="644.30" y="309.60" font-size="10.6" fill="#e8262c" text-anchor="start" textLength="27.1" lengthAdjust="spacingAndGlyphs">M.E.O</text>
<text transform="translate(540.50,246.80) rotate(-90)" font-size="11.5" fill="#222" text-anchor="start" textLength="48" lengthAdjust="spacingAndGlyphs">PD-1 MFI</text>
<text x="620.50" y="134.20" font-size="10.6" fill="#222" text-anchor="start" textLength="31.7" lengthAdjust="spacingAndGlyphs">0.1320</text>
<line x1="626.20" y1="136.50" x2="654.00" y2="136.50" stroke="#8a8a8a" stroke-width="1.3"/>
<text x="593.40" y="148.00" font-size="10.6" fill="#222" text-anchor="start" textLength="31.2" lengthAdjust="spacingAndGlyphs">0.6022</text>
<line x1="597.40" y1="150.30" x2="626.20" y2="150.30" stroke="#8a8a8a" stroke-width="1.3"/>
<text x="611.00" y="162.50" font-size="10.6" fill="#222" text-anchor="start" textLength="31.5" lengthAdjust="spacingAndGlyphs">0.0823</text>
<line x1="596.80" y1="165.00" x2="655.60" y2="165.00" stroke="#8a8a8a" stroke-width="1.3"/>
<line x1="590.00" y1="210.20" x2="609.70" y2="210.20" stroke="#888" stroke-width="1.4"/>
<circle cx="592.7" cy="203.9" r="2.9" fill="#0a0a0a"/>
<circle cx="607.0" cy="202.8" r="2.9" fill="#0a0a0a"/>
<circle cx="599.7" cy="210.7" r="2.9" fill="#0a0a0a"/>
<circle cx="592.7" cy="219.1" r="2.9" fill="#0a0a0a"/>
<circle cx="607.0" cy="219.8" r="2.9" fill="#0a0a0a"/>
<circle cx="621.6" cy="191.5" r="2.8" fill="#4a8fd6" stroke="#1c3450" stroke-width="0.6"/>
<circle cx="628.9" cy="192.8" r="2.8" fill="#4a8fd6" stroke="#1c3450" stroke-width="0.6"/>
<circle cx="635.9" cy="191.5" r="2.8" fill="#4a8fd6" stroke="#1c3450" stroke-width="0.6"/>
<circle cx="635.9" cy="208.0" r="2.8" fill="#4a8fd6" stroke="#1c3450" stroke-width="0.6"/>
<circle cx="628.9" cy="211.8" r="2.8" fill="#4a8fd6" stroke="#1c3450" stroke-width="0.6"/>
<circle cx="628.9" cy="241.4" r="2.8" fill="#4a8fd6" stroke="#1c3450" stroke-width="0.6"/>
<line x1="619.40" y1="206.20" x2="638.20" y2="206.20" stroke="#222" stroke-width="1.2"/>
<circle cx="658.3" cy="177.9" r="2.8" fill="#ec2a22" stroke="#4a1010" stroke-width="0.6"/>
<circle cx="651.1" cy="181.3" r="2.8" fill="#ec2a22" stroke="#4a1010" stroke-width="0.6"/>
<circle cx="658.3" cy="184.2" r="2.8" fill="#ec2a22" stroke="#4a1010" stroke-width="0.6"/>
<circle cx="665.8" cy="182.9" r="2.8" fill="#ec2a22" stroke="#4a1010" stroke-width="0.6"/>
<circle cx="658.3" cy="196.0" r="2.8" fill="#ec2a22" stroke="#4a1010" stroke-width="0.6"/>
<circle cx="658.3" cy="229.4" r="2.8" fill="#ec2a22" stroke="#4a1010" stroke-width="0.6"/>
<line x1="648.10" y1="191.90" x2="668.00" y2="191.90" stroke="#222" stroke-width="1.2"/>
<line x1="239.90" y1="537.60" x2="239.90" y2="679.80" stroke="#333" stroke-width="1.0"/>
<line x1="234.90" y1="537.60" x2="239.90" y2="537.60" stroke="#333" stroke-width="1.0"/>
<text x="233.60" y="541.90" font-size="12" fill="#111" text-anchor="end" textLength="6.2" lengthAdjust="spacingAndGlyphs">6</text>
<line x1="234.90" y1="585.00" x2="239.90" y2="585.00" stroke="#333" stroke-width="1.0"/>
<text x="233.60" y="589.30" font-size="12" fill="#111" text-anchor="end" textLength="6.2" lengthAdjust="spacingAndGlyphs">4</text>
<line x1="234.90" y1="632.40" x2="239.90" y2="632.40" stroke="#333" stroke-width="1.0"/>
<text x="233.60" y="636.70" font-size="12" fill="#111" text-anchor="end" textLength="6.2" lengthAdjust="spacingAndGlyphs">2</text>
<line x1="234.90" y1="679.80" x2="239.90" y2="679.80" stroke="#333" stroke-width="1.0"/>
<text x="233.60" y="684.10" font-size="12" fill="#111" text-anchor="end" textLength="6.6" lengthAdjust="spacingAndGlyphs">0</text>
<line x1="239.90" y1="679.80" x2="383.00" y2="679.80" stroke="#333" stroke-width="1.0"/>
<line x1="261.70" y1="679.80" x2="261.70" y2="684.80" stroke="#555" stroke-width="1.0"/>
<line x1="294.60" y1="679.80" x2="294.60" y2="684.80" stroke="#555" stroke-width="1.0"/>
<line x1="327.40" y1="679.80" x2="327.40" y2="684.80" stroke="#555" stroke-width="1.0"/>
<line x1="360.30" y1="679.80" x2="360.30" y2="684.80" stroke="#555" stroke-width="1.0"/>
<text x="245.20" y="694.30" font-size="10.6" fill="#222" text-anchor="start" textLength="24.4" lengthAdjust="spacingAndGlyphs">eGFP</text>
<text x="273.00" y="694.30" font-size="10.6" fill="#222" text-anchor="start" textLength="37.4" lengthAdjust="spacingAndGlyphs">IFN&#945;R<tspan font-size="8.00" dy="-4.45">WT</tspan></text>
<text x="282.80" y="706.30" font-size="10.6" fill="#222" text-anchor="start" textLength="18.4" lengthAdjust="spacingAndGlyphs">OVA</text>
<text x="310.90" y="694.30" font-size="10.6" fill="#3b8ad0" text-anchor="start" textLength="36.8" lengthAdjust="spacingAndGlyphs">IFN&#945;R<tspan font-size="8.00" dy="-4.45">WT</tspan></text>
<text x="322.20" y="706.30" font-size="10.6" fill="#3b8ad0" text-anchor="start" textLength="14.4" lengthAdjust="spacingAndGlyphs">E.O</text>
<text x="352.20" y="694.30" font-size="10.6" fill="#e8262c" text-anchor="start" textLength="47.2" lengthAdjust="spacingAndGlyphs">IFN&#945;R<tspan font-size="8.00" dy="-4.45">cKO</tspan></text>
<text x="366.60" y="706.30" font-size="10.6" fill="#e8262c" text-anchor="start" textLength="12.4" lengthAdjust="spacingAndGlyphs">E.O</text>
<text transform="translate(221.5,683.8) rotate(-90)" font-size="11" fill="#222" textLength="169" lengthAdjust="spacingAndGlyphs">% SIINFEKL-H-2K<tspan font-size="7" dy="-4">b</tspan><tspan dy="4">+ CD8+ T cells</tspan></text>
<text x="327.40" y="517.90" font-size="10.6" fill="#222" text-anchor="start" textLength="31.6" lengthAdjust="spacingAndGlyphs">0.0087</text>
<line x1="327.40" y1="519.70" x2="359.00" y2="519.70" stroke="#8a8a8a" stroke-width="1.3"/>
<text x="289.30" y="530.20" font-size="10.6" fill="#222" text-anchor="start" textLength="36.8" lengthAdjust="spacingAndGlyphs">&lt;0.0001</text>
<line x1="292.50" y1="532.80" x2="324.80" y2="532.80" stroke="#8a8a8a" stroke-width="1.3"/>
<text x="309.00" y="544.10" font-size="10.6" fill="#222" text-anchor="start" textLength="31.6" lengthAdjust="spacingAndGlyphs">0.3939</text>
<line x1="291.40" y1="546.50" x2="360.30" y2="546.50" stroke="#8a8a8a" stroke-width="1.3"/>
<circle cx="253.9" cy="676.4" r="2.55" fill="#f4f4f4" stroke="#2a2a2a" stroke-width="0.8"/>
<circle cx="261.7" cy="676.4" r="2.55" fill="#f4f4f4" stroke="#2a2a2a" stroke-width="0.8"/>
<circle cx="269.6" cy="676.4" r="2.55" fill="#f4f4f4" stroke="#2a2a2a" stroke-width="0.8"/>
<circle cx="294.6" cy="617.5" r="2.9" fill="#0a0a0a"/>
<circle cx="286.6" cy="629.1" r="2.9" fill="#0a0a0a"/>
<circle cx="291.6" cy="632.4" r="2.9" fill="#0a0a0a"/>
<circle cx="297.6" cy="632.4" r="2.9" fill="#0a0a0a"/>
<circle cx="303.0" cy="629.1" r="2.9" fill="#0a0a0a"/>
<circle cx="294.6" cy="643.1" r="2.9" fill="#0a0a0a"/>
<circle cx="327.4" cy="648.3" r="2.8" fill="#4a8fd6" stroke="#1c3450" stroke-width="0.6"/>
<circle cx="319.5" cy="663.6" r="2.8" fill="#4a8fd6" stroke="#1c3450" stroke-width="0.6"/>
<circle cx="325.3" cy="662.0" r="2.8" fill="#4a8fd6" stroke="#1c3450" stroke-width="0.6"/>
<circle cx="330.6" cy="665.4" r="2.8" fill="#4a8fd6" stroke="#1c3450" stroke-width="0.6"/>
<circle cx="335.8" cy="662.8" r="2.8" fill="#4a8fd6" stroke="#1c3450" stroke-width="0.6"/>
<circle cx="325.3" cy="669.9" r="2.8" fill="#4a8fd6" stroke="#1c3450" stroke-width="0.6"/>
<line x1="350.30" y1="627.80" x2="371.30" y2="627.80" stroke="#888" stroke-width="1.6"/>
<circle cx="360.8" cy="561.7" r="2.8" fill="#ec2a22" stroke="#4a1010" stroke-width="0.6"/>
<circle cx="360.8" cy="618.9" r="2.8" fill="#ec2a22" stroke="#4a1010" stroke-width="0.6"/>
<circle cx="360.8" cy="634.4" r="2.8" fill="#ec2a22" stroke="#4a1010" stroke-width="0.6"/>
<circle cx="352.4" cy="647.3" r="2.8" fill="#ec2a22" stroke="#4a1010" stroke-width="0.6"/>
<circle cx="352.4" cy="654.9" r="2.8" fill="#ec2a22" stroke="#4a1010" stroke-width="0.6"/>
<circle cx="368.7" cy="650.9" r="2.8" fill="#ec2a22" stroke="#4a1010" stroke-width="0.6"/>
<text x="390.20" y="485.20" font-size="11.5" fill="#111" text-anchor="start">F</text>
<line x1="568.90" y1="551.30" x2="568.90" y2="678.30" stroke="#333" stroke-width="1.0"/>
<line x1="563.90" y1="551.30" x2="568.90" y2="551.30" stroke="#333" stroke-width="1.0"/>
<text x="562.90" y="555.60" font-size="12" fill="#111" text-anchor="end" textLength="27.2" lengthAdjust="spacingAndGlyphs">6000</text>
<line x1="563.90" y1="593.60" x2="568.90" y2="593.60" stroke="#333" stroke-width="1.0"/>
<text x="562.90" y="597.90" font-size="12" fill="#111" text-anchor="end" textLength="27.2" lengthAdjust="spacingAndGlyphs">4000</text>
<line x1="563.90" y1="636.00" x2="568.90" y2="636.00" stroke="#333" stroke-width="1.0"/>
<text x="562.90" y="640.30" font-size="12" fill="#111" text-anchor="end" textLength="27.2" lengthAdjust="spacingAndGlyphs">2000</text>
<line x1="563.90" y1="678.30" x2="568.90" y2="678.30" stroke="#333" stroke-width="1.0"/>
<text x="562.90" y="682.60" font-size="12" fill="#111" text-anchor="end" textLength="6.0" lengthAdjust="spacingAndGlyphs">0</text>
<line x1="568.90" y1="678.30" x2="674.10" y2="678.30" stroke="#333" stroke-width="1.0"/>
<line x1="597.10" y1="678.30" x2="597.10" y2="683.30" stroke="#555" stroke-width="1.0"/>
<line x1="626.50" y1="678.30" x2="626.50" y2="683.30" stroke="#555" stroke-width="1.0"/>
<line x1="656.10" y1="678.30" x2="656.10" y2="683.30" stroke="#555" stroke-width="1.0"/>
<text x="568.20" y="695.10" font-size="10.6" fill="#222" text-anchor="start" textLength="36.6" lengthAdjust="spacingAndGlyphs">IFN&#945;R<tspan font-size="8.00" dy="-4.45">WT</tspan></text>
<text x="577.80" y="707.30" font-size="10.6" fill="#222" text-anchor="start" textLength="18.1" lengthAdjust="spacingAndGlyphs">OVA</text>
<text x="605.50" y="695.10" font-size="10.6" fill="#3b8ad0" text-anchor="start" textLength="36.1" lengthAdjust="spacingAndGlyphs">IFN&#945;R<tspan font-size="8.00" dy="-4.45">WT</tspan></text>
<text x="617.50" y="707.30" font-size="10.6" fill="#3b8ad0" text-anchor="start" textLength="13.8" lengthAdjust="spacingAndGlyphs">E.O</text>
<text x="645.70" y="695.10" font-size="10.6" fill="#e8262c" text-anchor="start" textLength="39.3" lengthAdjust="spacingAndGlyphs">IFN&#945;R<tspan font-size="8.00" dy="-4.45">cKO</tspan></text>
<text x="659.20" y="707.30" font-size="10.6" fill="#e8262c" text-anchor="start" textLength="13.0" lengthAdjust="spacingAndGlyphs">E.O</text>
<text transform="translate(532.30,640.90) rotate(-90)" font-size="11.5" fill="#222" text-anchor="start" textLength="48" lengthAdjust="spacingAndGlyphs">PD-1 MFI</text>
<text x="626.00" y="517.30" font-size="10.6" fill="#222" text-anchor="start" textLength="30.8" lengthAdjust="spacingAndGlyphs">0.0007</text>
<line x1="626.00" y1="519.70" x2="656.10" y2="519.70" stroke="#8a8a8a" stroke-width="1.3"/>
<text x="593.50" y="530.00" font-size="10.6" fill="#222" text-anchor="start" textLength="31.3" lengthAdjust="spacingAndGlyphs">0.0740</text>
<line x1="594.20" y1="532.50" x2="624.80" y2="532.50" stroke="#8a8a8a" stroke-width="1.3"/>
<text x="607.90" y="543.50" font-size="10.6" fill="#222" text-anchor="start" textLength="30.6" lengthAdjust="spacingAndGlyphs">0.0027</text>
<line x1="595.10" y1="545.80" x2="654.40" y2="545.80" stroke="#8a8a8a" stroke-width="1.3"/>
<circle cx="597.1" cy="610.3" r="2.9" fill="#0a0a0a"/>
<circle cx="589.8" cy="615.6" r="2.9" fill="#0a0a0a"/>
<circle cx="604.3" cy="616.3" r="2.9" fill="#0a0a0a"/>
<circle cx="589.8" cy="623.3" r="2.9" fill="#0a0a0a"/>
<circle cx="604.3" cy="625.7" r="2.9" fill="#0a0a0a"/>
<circle cx="597.1" cy="632.0" r="2.9" fill="#0a0a0a"/>
<line x1="587.00" y1="620.00" x2="607.20" y2="620.00" stroke="#888" stroke-width="1.4"/>
<circle cx="619.2" cy="617.3" r="2.8" fill="#4a8fd6" stroke="#1c3450" stroke-width="0.6"/>
<circle cx="633.7" cy="616.8" r="2.8" fill="#4a8fd6" stroke="#1c3450" stroke-width="0.6"/>
<circle cx="619.2" cy="637.3" r="2.8" fill="#4a8fd6" stroke="#1c3450" stroke-width="0.6"/>
<circle cx="633.7" cy="636.1" r="2.8" fill="#4a8fd6" stroke="#1c3450" stroke-width="0.6"/>
<circle cx="619.2" cy="649.4" r="2.8" fill="#4a8fd6" stroke="#1c3450" stroke-width="0.6"/>
<circle cx="633.7" cy="645.0" r="2.8" fill="#4a8fd6" stroke="#1c3450" stroke-width="0.6"/>
<line x1="616.30" y1="633.20" x2="636.10" y2="633.20" stroke="#222" stroke-width="1.2"/>
<circle cx="648.9" cy="567.9" r="2.8" fill="#ec2a22" stroke="#4a1010" stroke-width="0.6"/>
<circle cx="663.3" cy="567.0" r="2.8" fill="#ec2a22" stroke="#4a1010" stroke-width="0.6"/>
<circle cx="656.1" cy="576.6" r="2.8" fill="#ec2a22" stroke="#4a1010" stroke-width="0.6"/>
<circle cx="656.1" cy="583.1" r="2.8" fill="#ec2a22" stroke="#4a1010" stroke-width="0.6"/>
<circle cx="656.1" cy="606.0" r="2.8" fill="#ec2a22" stroke="#4a1010" stroke-width="0.6"/>
<circle cx="656.1" cy="614.4" r="2.8" fill="#ec2a22" stroke="#4a1010" stroke-width="0.6"/>
<line x1="646.40" y1="585.50" x2="665.70" y2="585.50" stroke="#222" stroke-width="1.2"/>
<line x1="410.7" y1="129.6" x2="420.9" y2="129.6" stroke="#222" stroke-width="1.2" stroke-dasharray="1.4 2.2"/>
<text x="426.40" y="133.20" font-size="10.4" fill="#222" text-anchor="start" textLength="13.8" lengthAdjust="spacingAndGlyphs">Tet</text>
<line x1="441.00" y1="126.60" x2="444.00" y2="126.60" stroke="#222" stroke-width="0.9"/>
<line x1="410.7" y1="141.1" x2="420.9" y2="141.1" stroke="#444" stroke-width="1.3"/>
<text x="424.50" y="144.80" font-size="10.4" fill="#111" text-anchor="start" textLength="20.0" lengthAdjust="spacingAndGlyphs">OVA</text>
<line x1="410.7" y1="153.0" x2="420.9" y2="153.0" stroke="#4a8fd6" stroke-width="1.3"/>
<text x="425.50" y="157.10" font-size="10.4" fill="#3b8ad0" text-anchor="start" textLength="15.4" lengthAdjust="spacingAndGlyphs">E.O</text>
<line x1="410.7" y1="167.4" x2="420.9" y2="167.4" stroke="#e8262c" stroke-width="1.3"/>
<text x="424.50" y="171.70" font-size="10.4" fill="#e8262c" text-anchor="start" textLength="26.6" lengthAdjust="spacingAndGlyphs">M.E.O</text>
<rect x="408.2" y="175.6" width="119.3" height="118.7" fill="#fff" stroke="#7a7a7a" stroke-width="1.1"/>
<path d="M408.2 175.6V294.3H527.5" fill="none" stroke="#2a2a2a" stroke-width="1"/>
<path d="M406.6 185.9h1.6M405.6 196.2h2.6M406.6 206.6h1.6M405.6 216.9h2.6M406.6 227.2h1.6M405.6 237.5h2.6M406.6 247.9h1.6M405.6 258.2h2.6M406.6 268.5h1.6M405.6 278.8h2.6M406.6 289.1h1.6" stroke="#333" stroke-width="0.7" fill="none"/>
<path d="M426.0 294.3 L428.0 292.6 L432.0 292.2 L440.0 292.6 L446.0 292.2 L450.0 291.2 L453.5 287.0 L455.7 278.4 L458.5 272.7 L460.7 261.3 L462.8 241.3 L464.2 230.0 L465.7 222.0 L467.1 224.2 L468.5 221.4 L469.9 210.0 L471.4 203.5 L472.8 208.5 L473.9 218.5 L475.6 224.2 L477.0 228.5 L477.8 237.0 L478.5 248.5 L479.9 258.4 L481.3 269.8 L482.8 279.8 L484.9 288.4 L487.0 292.2 L490.0 294.3 Z" fill="#8dd5f5" stroke="#3d8fd2" stroke-width="0.9"/>
<path d="M449.0 294.3 L454.3 288.4 L458.5 281.2 L462.8 272.7 L465.0 255.6 L467.1 257.0 L469.2 251.3 L471.1 241.3 L473.1 238.5 L474.9 231.3 L476.8 238.5 L478.5 247.0 L479.9 252.7 L482.8 264.1 L485.6 275.5 L488.5 282.7 L491.3 288.4 L495.6 292.2 L498.0 294.3 Z" fill="#eb2832" fill-opacity="0.3" stroke="#e02828" stroke-width="0.9"/>
<path d="M446.0 294.3 L450.0 292.2 L452.1 288.4 L457.1 275.5 L460.0 261.3 L462.8 237.0 L465.0 227.8 L467.1 230.6 L468.5 227.1 L470.2 222.8 L471.4 230.0 L473.5 234.2 L475.6 244.2 L477.8 252.7 L479.9 265.6 L482.1 278.4 L484.2 287.0 L486.3 292.2 L489.0 294.3 Z" fill="#374150" fill-opacity="0.5" stroke="#222" stroke-width="0.8"/>
<path d="M423.0 291.4 L423.6 290.2 L424.2 288.5 L424.8 286.4 L425.4 283.5 L426.0 280.0 L426.6 275.6 L427.2 270.4 L427.8 264.2 L428.4 257.1 L429.0 249.2 L429.6 240.7 L430.2 231.7 L430.8 222.6 L431.4 213.6 L432.0 205.2 L432.6 197.7 L433.2 191.6 L433.8 187.0 L434.4 184.3 L435.0 183.6 L435.6 185.0 L436.2 188.3 L436.8 193.5 L437.4 200.1 L438.0 207.9 L438.6 216.6 L439.2 225.6 L439.8 234.8 L440.4 243.6 L441.0 252.0 L441.6 259.6 L442.2 266.3 L442.8 272.2 L443.4 277.2 L444.0 281.3 L444.6 284.6 L445.2 287.2 L445.8 289.2 L446.4 290.7 L447.0 291.8" fill="none" stroke="#1a1a1a" stroke-width="0.9" stroke-dasharray="1 1.5"/>
<line x1="408.20" y1="294.30" x2="527.50" y2="294.30" stroke="#2a2a2a" stroke-width="1.0"/>
<path d="M435.0 294.3v2.4M456.0 294.3v2.4M410.0 294.3v1.3M412.9 294.3v1.3M415.8 294.3v1.3M418.7 294.3v1.3M421.6 294.3v1.3M424.5 294.3v1.3M427.4 294.3v1.3M430.3 294.3v1.3M433.2 294.3v1.3M436.1 294.3v1.3M439.0 294.3v1.3M441.9 294.3v1.3M444.8 294.3v1.3M447.7 294.3v1.3M450.6 294.3v1.3M453.5 294.3v1.3M456.4 294.3v1.3M459.3 294.3v1.3M462.2 294.3v1.3M465.1 294.3v1.3M468.0 294.3v1.3M470.9 294.3v1.3M473.8 294.3v1.3M476.7 294.3v1.3M479.6 294.3v1.3M482.5 294.3v1.3M485.4 294.3v1.3M488.3 294.3v1.3M491.2 294.3v1.3M494.1 294.3v1.3M497.0 294.3v1.3M499.9 294.3v1.3M502.8 294.3v1.3M505.7 294.3v1.3M508.6 294.3v1.3M511.5 294.3v1.3M514.4 294.3v1.3M517.3 294.3v1.3M520.2 294.3v1.3M523.1 294.3v1.3" stroke="#333" stroke-width="0.6" fill="none"/>
<rect x="433.3" y="294.6" width="2.4" height="1.6" fill="#111"/>
<line x1="483.0" y1="185.6" x2="493.0" y2="185.6" stroke="#222" stroke-width="1.2" stroke-dasharray="1.4 2.2"/>
<text x="497.30" y="189.30" font-size="12" fill="#111" text-anchor="start" textLength="23.7" lengthAdjust="spacingAndGlyphs">80.5</text>
<line x1="483.0" y1="197.4" x2="493.0" y2="197.4" stroke="#111" stroke-width="1.3"/>
<text x="497.30" y="201.70" font-size="12" fill="#111" text-anchor="start" textLength="26.7" lengthAdjust="spacingAndGlyphs">2793</text>
<line x1="483.0" y1="210.0" x2="493.0" y2="210.0" stroke="#4a8fd6" stroke-width="1.3"/>
<text x="496.20" y="214.90" font-size="12" fill="#3b8ad0" text-anchor="start" textLength="26.9" lengthAdjust="spacingAndGlyphs">2696</text>
<line x1="483.0" y1="222.5" x2="493.0" y2="222.5" stroke="#e8262c" stroke-width="1.3"/>
<text x="496.20" y="228.00" font-size="12" fill="#e8262c" text-anchor="start" textLength="27.4" lengthAdjust="spacingAndGlyphs">3522</text>
<text transform="translate(401.20,250.00) rotate(-90)" font-size="10.6" fill="#222" text-anchor="start" textLength="28.5" lengthAdjust="spacingAndGlyphs">Mode</text>
<text x="407.00" y="306.90" font-size="9.4" fill="#1a1a1a" text-anchor="start">10<tspan font-size="6.20" dy="-3.38">-3</tspan></text>
<text x="433.20" y="306.90" font-size="9.4" fill="#1a1a1a" text-anchor="start">0</text>
<text x="450.20" y="306.90" font-size="9.4" fill="#1a1a1a" text-anchor="start">10<tspan font-size="6.20" dy="-3.38">3</tspan></text>
<text x="483.00" y="306.90" font-size="9.4" fill="#1a1a1a" text-anchor="start">10<tspan font-size="6.20" dy="-3.38">4</tspan></text>
<text x="510.40" y="306.90" font-size="9.4" fill="#1a1a1a" text-anchor="start">10<tspan font-size="6.20" dy="-3.38">5</tspan></text>
<line x1="410.80" y1="311.80" x2="524.30" y2="311.80" stroke="#111" stroke-width="1.2"/>
<path d="M520.50 307.80 L524.70 311.80 L520.50 315.80" fill="none" stroke="#111" stroke-width="1.2"/>
<text x="414.00" y="322.00" font-size="11" fill="#222" text-anchor="start" textLength="25.3" lengthAdjust="spacingAndGlyphs">PD-1</text>
<line x1="403.3" y1="504.7" x2="414.1" y2="504.7" stroke="#222" stroke-width="1.2" stroke-dasharray="1.4 2.2"/>
<text x="420.20" y="507.80" font-size="10.4" fill="#222" text-anchor="start" textLength="13.1" lengthAdjust="spacingAndGlyphs">Tet</text>
<line x1="434.40" y1="501.40" x2="437.40" y2="501.40" stroke="#222" stroke-width="0.9"/>
<line x1="402.7" y1="519.0" x2="413.5" y2="519.0" stroke="#444" stroke-width="1.3"/>
<text x="418.6" y="522.7" font-size="10.4" fill="#111" textLength="63.8" lengthAdjust="spacingAndGlyphs">IFN&#945;R<tspan font-size="7.8" dy="-4.3">WT</tspan><tspan dy="4.3"> OVA</tspan></text>
<line x1="402.7" y1="533.4" x2="413.5" y2="533.4" stroke="#4a8fd6" stroke-width="1.3"/>
<text x="418.6" y="537.0" font-size="10.4" fill="#3b8ad0" textLength="58.9" lengthAdjust="spacingAndGlyphs">IFN&#945;R<tspan font-size="7.8" dy="-4.3">WT</tspan><tspan dy="4.3"> E.O</tspan></text>
<line x1="402.7" y1="549.3" x2="413.5" y2="549.3" stroke="#e8262c" stroke-width="1.3"/>
<text x="418.6" y="553.8" font-size="10.4" fill="#e8262c" textLength="61.4" lengthAdjust="spacingAndGlyphs">IFN&#945;R<tspan font-size="7.8" dy="-4.3">cKO</tspan><tspan dy="4.3"> E.O</tspan></text>
<rect x="401.3" y="559.0" width="118.4" height="118.0" fill="#fff" stroke="#7a7a7a" stroke-width="1.1"/>
<path d="M401.3 559.0V677.0H519.7" fill="none" stroke="#2a2a2a" stroke-width="1"/>
<path d="M399.7 569.3h1.6M398.7 579.5h2.6M399.7 589.8h1.6M398.7 600.0h2.6M399.7 610.3h1.6M398.7 620.6h2.6M399.7 630.8h1.6M398.7 641.1h2.6M399.7 651.3h1.6M398.7 661.6h2.6M399.7 671.9h1.6" stroke="#333" stroke-width="0.7" fill="none"/>
<path d="M418.0 677.0 L423.8 676.5 L428.1 671.7 L430.8 670.3 L432.5 666.4 L433.8 661.6 L435.1 662.0 L439.1 665.1 L440.8 661.2 L443.0 653.3 L444.8 646.3 L446.5 641.0 L448.3 638.8 L450.9 640.6 L453.5 637.5 L455.3 636.2 L457.0 641.0 L457.9 642.8 L459.7 637.5 L461.4 628.8 L463.2 616.0 L464.3 613.2 L465.6 621.8 L466.5 633.6 L467.6 644.1 L470.2 649.4 L473.5 653.3 L475.4 658.6 L478.1 666.5 L482.0 674.3 L486.0 677.0 Z" fill="#8dd5f5" stroke="#3d8fd2" stroke-width="0.9"/>
<path d="M423.8 677.0 L430.8 673.4 L434.3 674.3 L438.6 674.3 L443.0 671.7 L445.6 667.3 L447.4 661.2 L449.2 659.4 L451.3 657.7 L453.5 648.0 L454.4 637.5 L455.7 633.1 L457.9 632.3 L459.7 629.6 L460.3 623.1 L462.3 619.2 L464.3 610.0 L466.2 604.4 L468.2 611.3 L470.2 616.5 L472.8 629.7 L474.8 642.8 L476.8 654.6 L479.4 663.8 L482.0 670.4 L484.6 675.7 L486.0 677.0 Z" fill="#374150" fill-opacity="0.47" stroke="#222" stroke-width="0.8"/>
<path d="M428.1 677.0 L445.6 676.2 L450.0 674.3 L454.4 672.5 L456.2 669.0 L458.8 660.3 L461.4 653.3 L464.0 642.8 L465.8 631.4 L467.6 620.5 L468.9 611.3 L470.2 606.0 L471.5 611.3 L472.8 615.2 L474.8 602.1 L475.7 595.5 L476.8 600.8 L478.1 617.8 L480.0 637.6 L482.0 650.7 L484.6 655.9 L486.6 661.2 L488.6 669.1 L491.2 675.0 L494.0 677.0 Z" fill="#e82e30" fill-opacity="0.45" stroke="#d82020" stroke-width="0.9"/>
<path d="M416.5 674.0 L417.1 672.7 L417.8 671.0 L418.4 668.7 L419.0 665.9 L419.6 662.3 L420.2 657.8 L420.9 652.6 L421.5 646.4 L422.1 639.4 L422.8 631.6 L423.4 623.2 L424.0 614.5 L424.6 605.6 L425.2 597.0 L425.9 588.9 L426.5 581.9 L427.1 576.1 L427.8 572.0 L428.4 569.7 L429.0 569.3 L429.6 570.9 L430.2 574.4 L430.9 579.6 L431.5 586.3 L432.1 594.0 L432.8 602.4 L433.4 611.3 L434.0 620.1 L434.6 628.6 L435.2 636.7 L435.9 644.0 L436.5 650.4 L437.1 656.0 L437.8 660.8 L438.4 664.6 L439.0 667.8 L439.6 670.2 L440.2 672.1 L440.9 673.6 L441.5 674.6" fill="none" stroke="#1a1a1a" stroke-width="0.9" stroke-dasharray="1 1.5"/>
<line x1="401.30" y1="677.00" x2="519.70" y2="677.00" stroke="#2a2a2a" stroke-width="1.0"/>
<path d="M428.5 677.0v2.4M451.0 677.0v2.4M403.0 677.0v1.3M405.9 677.0v1.3M408.8 677.0v1.3M411.6 677.0v1.3M414.5 677.0v1.3M417.4 677.0v1.3M420.2 677.0v1.3M423.1 677.0v1.3M426.0 677.0v1.3M428.9 677.0v1.3M431.8 677.0v1.3M434.6 677.0v1.3M437.5 677.0v1.3M440.4 677.0v1.3M443.2 677.0v1.3M446.1 677.0v1.3M449.0 677.0v1.3M451.9 677.0v1.3M454.8 677.0v1.3M457.6 677.0v1.3M460.5 677.0v1.3M463.4 677.0v1.3M466.2 677.0v1.3M469.1 677.0v1.3M472.0 677.0v1.3M474.9 677.0v1.3M477.8 677.0v1.3M480.6 677.0v1.3M483.5 677.0v1.3M486.4 677.0v1.3M489.2 677.0v1.3M492.1 677.0v1.3M495.0 677.0v1.3M497.9 677.0v1.3M500.8 677.0v1.3M503.6 677.0v1.3M506.5 677.0v1.3M509.4 677.0v1.3M512.2 677.0v1.3M515.1 677.0v1.3" stroke="#333" stroke-width="0.6" fill="none"/>
<rect x="427.3" y="677.3" width="2.4" height="1.6" fill="#111"/>
<line x1="479.2" y1="568.6" x2="489.0" y2="568.6" stroke="#222" stroke-width="1.2" stroke-dasharray="1.4 2.2"/>
<text x="492.30" y="573.00" font-size="12" fill="#111" text-anchor="start" textLength="23.0" lengthAdjust="spacingAndGlyphs">74.1</text>
<line x1="479.2" y1="583.0" x2="489.7" y2="583.0" stroke="#111" stroke-width="1.3"/>
<text x="491.20" y="586.70" font-size="12" fill="#111" text-anchor="start" textLength="26.3" lengthAdjust="spacingAndGlyphs">2951</text>
<line x1="479.2" y1="594.4" x2="489.7" y2="594.4" stroke="#4a8fd6" stroke-width="1.3"/>
<text x="490.50" y="598.80" font-size="12" fill="#3b8ad0" text-anchor="start" textLength="26.3" lengthAdjust="spacingAndGlyphs">1954</text>
<line x1="479.2" y1="607.1" x2="489.7" y2="607.1" stroke="#e8262c" stroke-width="1.3"/>
<text x="491.20" y="612.40" font-size="12" fill="#e8262c" text-anchor="start" textLength="26.3" lengthAdjust="spacingAndGlyphs">5289</text>
<text transform="translate(394.90,630.50) rotate(-90)" font-size="10.6" fill="#222" text-anchor="start" textLength="27.8" lengthAdjust="spacingAndGlyphs">Mode</text>
<text x="400.80" y="690.30" font-size="9.4" fill="#1a1a1a" text-anchor="start">10<tspan font-size="6.20" dy="-3.38">-3</tspan></text>
<text x="426.40" y="690.30" font-size="9.4" fill="#1a1a1a" text-anchor="start">0</text>
<text x="444.10" y="690.30" font-size="9.4" fill="#1a1a1a" text-anchor="start">10<tspan font-size="6.20" dy="-3.38">3</tspan></text>
<text x="477.00" y="690.30" font-size="9.4" fill="#1a1a1a" text-anchor="start">10<tspan font-size="6.20" dy="-3.38">4</tspan></text>
<text x="504.30" y="690.30" font-size="9.4" fill="#1a1a1a" text-anchor="start">10<tspan font-size="6.20" dy="-3.38">5</tspan></text>
<line x1="402.00" y1="694.50" x2="520.80" y2="694.50" stroke="#111" stroke-width="1.2"/>
<path d="M517.00 690.50 L521.20 694.50 L517.00 698.50" fill="none" stroke="#111" stroke-width="1.2"/>
<text x="406.90" y="706.50" font-size="11" fill="#222" text-anchor="start" textLength="24.1" lengthAdjust="spacingAndGlyphs">PD-1</text>
<text x="4.50" y="486.20" font-size="11.5" fill="#111" text-anchor="start">E</text>
<defs><g id="cd8E"><g filter="url(#bl06)" fill="#3350c2"><ellipse cx="0" cy="0" rx="9" ry="5" transform="translate(29.5,19.6) rotate(-30)" opacity="0.55"/><rect x="12.9" y="17.0" width="3" height="31.6" rx="1.5" opacity="0.75"/><ellipse cx="25.1" cy="47.2" rx="14.3" ry="3.3" opacity="0.85"/><path d="M15.4 25.0 L36.0 25.0 L39.4 44.6 L15.4 44.6 Z" opacity="0.06"/></g><path d="M16.4 46.9h0M13.7 16.1h0M13.3 34.7h0M15.0 17.8h0M13.7 20.0h0M14.6 29.7h0M15.8 13.9h0M15.2 28.4h0M14.3 31.8h0M13.5 15.1h0M13.2 41.7h0M13.6 35.7h0M13.3 48.5h0M15.7 26.5h0M13.9 33.9h0M13.7 16.1h0M14.1 30.4h0M13.1 29.4h0M14.7 36.5h0M15.0 24.8h0M14.6 42.9h0M14.9 16.6h0M14.2 14.4h0M15.7 43.0h0M13.8 25.1h0M15.0 24.2h0M13.7 41.5h0M14.2 16.9h0M13.9 41.7h0M12.6 21.7h0M15.6 33.0h0M13.7 47.6h0M14.7 19.1h0M14.3 28.2h0M15.0 13.9h0M13.0 48.6h0M15.6 42.5h0M14.0 49.2h0M12.9 40.4h0M16.6 26.8h0M15.4 20.1h0M14.9 20.2h0M15.1 47.2h0M14.2 16.8h0M15.0 32.4h0M15.5 42.8h0M12.5 22.3h0M15.4 29.3h0M15.8 25.5h0M13.3 45.8h0M13.1 38.2h0M15.2 43.4h0M14.5 36.4h0M15.2 28.0h0M13.2 41.2h0M14.0 43.3h0M13.8 17.0h0M13.7 33.5h0M14.4 43.6h0M16.9 15.9h0M13.7 33.6h0M14.2 33.5h0M12.9 30.2h0M14.9 13.1h0M14.5 26.8h0M13.9 44.7h0M14.1 20.5h0M13.8 29.4h0M15.8 28.5h0M15.2 30.6h0M13.2 38.2h0M14.1 32.3h0M14.7 23.9h0M14.1 45.1h0M12.7 44.6h0M14.4 37.6h0M14.2 35.1h0M15.2 25.8h0M15.3 24.1h0M14.2 27.2h0M14.9 28.4h0M13.4 33.3h0M14.3 22.4h0M14.8 21.0h0M15.1 22.7h0M13.5 17.0h0M15.3 29.9h0M15.3 29.2h0M14.3 44.4h0M16.3 22.1h0M14.2 49.0h0M14.2 42.5h0M14.0 23.1h0M14.8 43.7h0M14.3 16.3h0M13.4 37.9h0M16.4 23.7h0M15.4 37.0h0M16.6 19.2h0M14.1 19.7h0M14.0 13.7h0M14.0 39.8h0M14.1 30.2h0M13.1 41.2h0M13.3 43.1h0M13.6 25.0h0M16.0 17.9h0M15.5 20.5h0M13.8 28.6h0M15.7 32.5h0M13.5 44.4h0M14.8 36.8h0M15.2 40.3h0M14.0 45.4h0M14.9 48.9h0M14.3 26.9h0M14.5 41.3h0M14.2 27.5h0M14.5 39.5h0M13.2 20.7h0M15.2 27.9h0M14.7 28.6h0M13.5 43.1h0M13.8 22.0h0M13.9 24.5h0M13.4 19.3h0M12.1 43.1h0M13.2 32.6h0M13.2 35.8h0M15.0 46.6h0M13.8 48.9h0M13.5 15.3h0M13.6 43.8h0M15.0 15.1h0M12.3 14.2h0M16.1 40.1h0M14.0 38.9h0M13.7 19.2h0M15.6 35.0h0M14.9 31.8h0M14.7 32.9h0M14.7 30.3h0M13.9 18.3h0M13.7 35.7h0M13.4 40.5h0M13.6 20.2h0M15.2 25.7h0M14.3 23.4h0M12.7 31.1h0M13.9 23.8h0M16.2 48.2h0M14.6 33.9h0M15.3 46.0h0M15.7 47.7h0M16.1 37.4h0M15.9 48.5h0M14.6 17.1h0M14.0 16.0h0M13.9 42.1h0M11.9 36.1h0M14.2 31.7h0M15.7 49.3h0M14.9 36.7h0M13.9 39.9h0M16.1 39.8h0M15.2 19.4h0M15.8 21.0h0M15.0 18.2h0M16.2 48.7h0M14.4 40.8h0M12.8 33.8h0M13.6 36.3h0M14.7 18.1h0M13.5 34.4h0M15.3 31.8h0M13.8 44.2h0M13.7 16.0h0M15.7 35.4h0M14.9 43.5h0M16.1 42.1h0M15.2 18.2h0M15.4 48.7h0M13.3 35.5h0M14.9 42.6h0M13.1 32.1h0M14.1 47.1h0M14.8 42.3h0M13.7 35.0h0M13.9 43.1h0M12.0 46.5h0M13.5 17.7h0M14.4 20.5h0M16.1 31.3h0M14.2 16.6h0M13.0 22.1h0M15.9 29.8h0M13.7 18.8h0M14.2 14.4h0M16.1 34.7h0M14.3 39.9h0M13.1 18.6h0M13.9 40.8h0M16.6 29.3h0M15.2 22.7h0M12.7 40.0h0M14.8 25.4h0M13.4 16.4h0M14.9 42.0h0M13.9 27.8h0M13.6 39.8h0M16.2 19.4h0M12.8 13.9h0M14.7 44.4h0M12.9 16.9h0M14.6 39.8h0M13.0 48.3h0M12.9 47.7h0M12.7 18.3h0M13.2 23.9h0M14.2 47.9h0M13.4 36.3h0M13.4 47.6h0M14.3 27.7h0M13.0 27.7h0M14.5 25.4h0M14.5 25.3h0M15.4 24.0h0M15.0 25.8h0M14.7 46.9h0M12.9 44.0h0M15.4 23.1h0M15.3 21.3h0M12.5 49.1h0M15.3 22.0h0M13.3 16.4h0M13.3 22.4h0M15.9 46.9h0M14.1 48.9h0M15.4 49.0h0M15.7 40.3h0M13.7 39.8h0M15.5 34.5h0M15.3 44.1h0M14.7 24.5h0M14.7 42.0h0M14.6 17.2h0M12.6 17.2h0M15.2 26.0h0M14.0 16.7h0M13.6 33.9h0M12.8 40.4h0M14.8 35.7h0M14.6 44.2h0M12.3 40.3h0M12.7 23.3h0M14.4 41.7h0M15.4 39.7h0M12.8 32.8h0M15.5 36.4h0M14.7 39.6h0M15.0 46.4h0M13.5 21.4h0M14.0 45.4h0M13.9 14.4h0M14.0 45.1h0M14.2 49.2h0M14.5 34.5h0M12.6 22.4h0M15.0 32.1h0M15.6 28.9h0M14.9 41.9h0M14.9 27.2h0M12.3 13.1h0M15.8 44.7h0M14.8 19.6h0M13.8 21.8h0M14.2 36.3h0M15.0 16.1h0M15.2 19.5h0M16.5 14.5h0M14.8 32.8h0M16.0 13.1h0M14.4 26.6h0M14.2 28.1h0M13.0 24.9h0M14.5 15.9h0M14.2 44.7h0M16.1 17.9h0M14.5 16.4h0M14.8 22.1h0M16.1 18.1h0M15.4 32.3h0M12.6 31.2h0M14.3 14.7h0M14.3 14.7h0M14.3 31.5h0M14.4 35.9h0M14.4 27.7h0M14.2 24.5h0M14.3 40.6h0M13.0 48.0h0M14.0 43.6h0M14.9 43.9h0M13.4 16.2h0M15.3 42.1h0M13.1 24.5h0M13.8 48.7h0M13.8 41.8h0M14.5 21.2h0M16.6 15.0h0M13.4 44.8h0M15.2 38.3h0M14.5 46.0h0M14.8 31.7h0M14.0 21.2h0M14.6 16.3h0M15.1 33.8h0M14.7 27.2h0M15.1 16.5h0M12.4 14.2h0M15.1 42.5h0M15.8 15.2h0M15.1 40.3h0M14.1 19.0h0M15.5 25.5h0M13.1 18.7h0M14.2 46.0h0M11.9 48.6h0M14.4 18.8h0M14.2 20.0h0M14.5 32.6h0M15.1 26.1h0M15.5 29.8h0M13.7 33.4h0M15.1 39.3h0M16.1 40.9h0M13.2 42.8h0M14.8 15.7h0M12.9 29.8h0M12.5 45.8h0M14.5 25.4h0M12.4 48.2h0M13.4 37.9h0M16.2 13.6h0M12.4 33.8h0M14.9 35.7h0M14.5 20.3h0M14.6 40.5h0M13.9 41.7h0M14.9 33.4h0M13.5 20.2h0M14.2 24.7h0M14.4 38.3h0M15.3 33.6h0M14.9 47.5h0M15.1 23.0h0M12.6 24.5h0M14.5 19.6h0M13.2 39.3h0M14.9 31.4h0M15.0 35.1h0M15.7 27.7h0M13.6 41.7h0M13.8 49.1h0M14.9 19.6h0M14.4 38.2h0M14.4 16.4h0M14.0 23.9h0M15.5 35.8h0M14.5 49.6h0M12.7 39.6h0M15.8 33.8h0M13.9 42.7h0M15.2 38.6h0M14.2 40.8h0M13.9 28.4h0M14.5 24.6h0M14.9 40.4h0M14.3 18.2h0M14.6 38.8h0M15.4 36.9h0M40.0 43.6h0M33.4 39.5h0M14.6 38.5h0M18.2 29.6h0M26.8 24.4h0M21.2 36.2h0M18.5 39.4h0M15.9 29.8h0M32.9 28.8h0M30.6 34.1h0M29.7 41.9h0M36.6 31.4h0M21.7 25.6h0M30.2 42.2h0M32.7 31.3h0M31.0 39.6h0M28.5 29.5h0M34.1 37.5h0M36.2 34.6h0M17.9 38.8h0M17.6 35.9h0M20.4 36.7h0M21.2 44.6h0M34.4 40.3h0M26.4 31.7h0M21.0 28.8h0M29.8 33.0h0M16.8 34.5h0M25.1 37.4h0M23.1 34.8h0M29.4 41.9h0M24.7 37.6h0M22.5 32.3h0M23.2 38.0h0M17.7 25.4h0M14.9 25.1h0M21.3 31.4h0M17.6 33.4h0M22.7 28.8h0M18.7 30.0h0M31.4 34.1h0M14.5 25.3h0M34.9 33.2h0M21.3 37.0h0M30.3 44.0h0M34.8 41.0h0M17.2 24.8h0M22.2 40.3h0M15.3 42.5h0M28.6 43.3h0M32.9 32.5h0M23.5 35.0h0M30.9 27.8h0M19.3 27.0h0M14.5 25.8h0M14.9 30.1h0M20.7 33.7h0M22.7 24.4h0M18.1 29.9h0M20.5 35.1h0M34.4 25.1h0M18.7 44.0h0M26.9 37.6h0M24.9 29.1h0M18.9 29.5h0M14.9 33.3h0M36.6 28.7h0M20.7 39.9h0M20.9 44.5h0M20.6 41.5h0M23.9 42.4h0M16.5 42.0h0M20.6 32.1h0M35.3 40.1h0M21.7 26.8h0M15.1 27.6h0M15.3 26.7h0M22.4 30.2h0M29.4 42.6h0M20.7 39.7h0M22.0 30.6h0M14.6 28.8h0M35.2 29.7h0M23.7 25.1h0M30.5 28.8h0M23.8 24.8h0M23.9 38.9h0M33.6 27.0h0M34.1 24.4h0M36.0 40.9h0M21.7 41.8h0M23.9 36.9h0M21.6 36.1h0M20.2 41.6h0M15.2 35.6h0M33.2 25.2h0M21.2 31.3h0M31.7 44.3h0M24.8 27.2h0M27.0 34.0h0M19.0 29.6h0M27.9 43.5h0M29.6 35.3h0M17.3 39.5h0M24.5 40.1h0M19.7 27.1h0M35.4 44.4h0M25.2 42.6h0M22.1 37.1h0M25.8 39.1h0M36.9 31.4h0M14.8 34.3h0M15.7 40.8h0M22.9 29.8h0M22.7 28.4h0M25.0 33.1h0M29.7 37.4h0M18.0 25.0h0M20.0 26.4h0M33.7 33.4h0M31.1 24.3h0M29.7 27.2h0M39.3 41.5h0M15.0 35.9h0M22.5 29.9h0M38.0 37.9h0M15.2 42.1h0M27.4 26.7h0M25.9 28.3h0M25.6 34.5h0M35.0 31.2h0M20.8 30.0h0M19.1 27.3h0M27.1 26.7h0M18.1 24.4h0M35.0 40.6h0M30.1 31.0h0M29.1 40.7h0M31.5 36.8h0M20.2 30.6h0M18.0 29.3h0M25.4 34.6h0M15.4 27.9h0M17.5 24.5h0M26.7 27.2h0M25.9 40.7h0M22.7 37.3h0M29.6 25.5h0M16.7 39.8h0M28.6 30.4h0M17.0 38.5h0M21.5 32.0h0M33.1 35.2h0M20.9 27.0h0M17.4 43.0h0M31.0 27.6h0M24.0 36.9h0M15.1 33.4h0M19.0 37.2h0M35.9 33.1h0M21.8 34.2h0M19.2 31.3h0M30.4 36.7h0M14.4 26.4h0M16.9 32.1h0M16.9 36.3h0M23.8 34.4h0M20.6 44.0h0M20.3 29.4h0M18.5 37.6h0M29.2 29.0h0M15.3 34.9h0M16.3 41.4h0M25.2 30.1h0M31.3 33.4h0M27.5 27.1h0M15.9 27.7h0M32.4 38.4h0M14.7 26.2h0M25.6 28.1h0M34.8 24.7h0M29.3 24.4h0M22.0 40.6h0M17.3 40.8h0M26.9 40.0h0M33.4 41.5h0M35.3 40.2h0M14.7 29.2h0M29.9 27.5h0M24.3 34.7h0M14.6 33.7h0M27.1 43.1h0M24.4 36.1h0M24.4 42.2h0M32.5 35.1h0M31.9 27.1h0M20.5 36.9h0M24.1 27.1h0M14.4 30.0h0M31.9 41.0h0M32.6 42.5h0M35.3 32.4h0M18.6 29.0h0M29.0 33.7h0M15.0 26.0h0M14.5 43.2h0M24.1 39.3h0M35.8 43.8h0M25.5 33.6h0M19.0 38.4h0M35.8 24.4h0M32.6 35.2h0M15.4 35.1h0M18.0 26.1h0M34.4 43.9h0M22.8 30.0h0M25.4 43.9h0M24.8 30.5h0M25.5 27.5h0M24.1 25.5h0M14.8 26.3h0M25.0 39.6h0M21.5 27.3h0M21.5 42.3h0M23.5 29.6h0M28.3 42.4h0M27.6 33.8h0M35.7 31.3h0M17.8 29.6h0M32.4 34.0h0M29.3 39.9h0M30.7 24.0h0M16.3 42.8h0M17.8 28.0h0M16.4 26.7h0M29.5 34.3h0M25.4 33.6h0M33.8 38.2h0M31.2 44.0h0M15.1 34.2h0M17.3 30.1h0M31.8 43.8h0M20.1 26.6h0M27.5 32.7h0M20.9 44.1h0M22.6 38.4h0M25.2 42.6h0M27.1 39.8h0M31.8 38.8h0M22.9 32.0h0M30.4 36.8h0M21.1 36.2h0M24.6 34.1h0M20.0 31.9h0M15.1 25.3h0M15.5 27.2h0M36.7 31.7h0M35.2 32.3h0M36.9 38.2h0M37.6 37.4h0M15.5 40.6h0M35.0 24.1h0M28.0 31.0h0M39.8 43.6h0M20.4 34.8h0M29.8 36.2h0M31.1 25.9h0M21.0 24.1h0M36.2 41.4h0M35.6 41.8h0M22.5 33.4h0M24.8 33.9h0M20.9 28.5h0M14.6 33.9h0M15.2 35.8h0M15.1 35.5h0M22.8 27.8h0M39.0 39.7h0M33.8 39.8h0M24.7 33.0h0M37.5 35.3h0M14.5 41.5h0M30.7 38.2h0M37.7 42.4h0M22.2 32.2h0M17.3 28.9h0M31.9 42.1h0M20.6 41.1h0M14.5 39.7h0M20.0 34.3h0M37.0 30.2h0M34.8 24.1h0M38.7 37.8h0M34.9 32.4h0M26.5 35.4h0M19.0 36.9h0M17.2 36.5h0M28.8 24.7h0M34.0 24.5h0M34.5 28.7h0M29.5 30.3h0M29.0 31.0h0M17.9 27.7h0M36.7 29.5h0M22.2 42.6h0M38.1 43.7h0M26.6 26.9h0M20.4 28.4h0M17.9 30.3h0M18.0 36.1h0M16.4 30.8h0M30.9 29.5h0M36.4 29.9h0M14.6 26.3h0M24.3 29.1h0M21.7 30.4h0M29.3 39.4h0M33.7 29.0h0M25.9 31.4h0M30.8 31.4h0M24.5 35.9h0M15.3 27.6h0M33.0 29.4h0M22.7 43.1h0M17.3 25.5h0M16.4 43.3h0M15.3 32.6h0M20.7 34.2h0M39.8 44.3h0M33.4 34.4h0M23.8 37.9h0M14.8 39.9h0M32.0 27.5h0M29.2 34.7h0M34.0 36.5h0M17.0 29.2h0M33.6 30.0h0M31.4 34.4h0M21.0 39.9h0M32.8 39.2h0M25.1 34.5h0M23.2 33.7h0M25.6 28.3h0M19.0 41.6h0M21.2 32.6h0M35.2 30.1h0M15.6 39.0h0M20.8 34.6h0M15.9 31.5h0M21.1 36.4h0M16.1 38.0h0M23.0 34.7h0M15.2 37.2h0M25.6 40.2h0M16.8 29.2h0M14.5 40.8h0M19.9 36.1h0M36.5 31.1h0M17.1 26.8h0M20.6 24.2h0M14.8 25.6h0M37.3 38.1h0M26.2 27.5h0M17.4 43.8h0M23.9 27.2h0M25.4 25.1h0M35.9 41.2h0M25.0 26.3h0M23.2 34.4h0M26.4 27.8h0M28.2 27.1h0M14.4 25.8h0M20.9 41.6h0M24.6 32.4h0M14.6 33.9h0M38.9 40.9h0M19.2 30.3h0M28.0 29.7h0M26.0 34.9h0M18.9 36.6h0M25.3 34.7h0M28.3 36.9h0M16.5 44.2h0M26.8 34.5h0M20.8 27.3h0M25.0 29.1h0M19.1 38.5h0M17.7 33.5h0M37.5 32.4h0M21.6 42.3h0M17.1 31.0h0M37.5 42.2h0M22.4 25.0h0M18.3 32.2h0M33.7 37.7h0M37.1 31.6h0M18.5 36.5h0M16.4 38.1h0M26.2 32.5h0M15.8 27.8h0M33.6 31.8h0M23.2 28.2h0M17.4 36.6h0M33.8 31.7h0M26.5 40.3h0M14.4 36.9h0M20.6 28.9h0M22.5 25.2h0M29.0 36.6h0M24.9 36.5h0M18.7 41.3h0M18.2 30.1h0M33.6 30.1h0M35.4 33.4h0M21.7 34.0h0M14.8 36.7h0M20.8 33.9h0M22.1 34.0h0M28.7 37.7h0M24.0 24.0h0M21.2 32.6h0M31.6 27.8h0M18.5 27.7h0M35.0 30.7h0M16.7 33.9h0M19.6 28.4h0M14.4 40.9h0M29.5 29.0h0M25.7 25.8h0M24.0 41.3h0M26.4 38.3h0M38.9 42.2h0M30.6 36.2h0M33.9 38.5h0M28.0 32.4h0M33.7 32.5h0M20.8 40.9h0M38.0 35.2h0M18.2 39.1h0M15.4 33.9h0M31.8 29.5h0M26.6 27.7h0M37.9 39.6h0M15.1 32.8h0M28.1 32.7h0M34.9 39.7h0M22.1 25.3h0M19.3 39.0h0M39.0 40.7h0M26.8 30.8h0M27.6 25.0h0M33.2 43.6h0M35.3 30.7h0M24.9 24.1h0M21.6 25.3h0M16.1 29.6h0M34.0 42.1h0M16.9 35.0h0M18.1 34.5h0M29.0 35.3h0M18.9 43.5h0M17.2 29.5h0M34.0 43.4h0M22.5 31.2h0M27.2 40.9h0M22.3 36.1h0M14.4 36.2h0M32.4 27.6h0M26.9 43.0h0M23.1 37.6h0M26.2 31.4h0M36.6 40.1h0M22.9 29.2h0M30.8 33.1h0M39.0 42.0h0M27.5 37.8h0M15.1 26.3h0M26.3 24.4h0M14.8 35.9h0M30.4 42.2h0M18.7 38.2h0M25.4 30.2h0M25.1 30.9h0M27.3 37.5h0M37.3 30.7h0M25.4 29.3h0M14.8 31.9h0M28.0 31.3h0M22.4 41.9h0M27.0 27.3h0M23.9 25.0h0M28.5 26.4h0M32.6 39.7h0M31.6 31.1h0M18.3 34.6h0M18.1 38.6h0M34.5 43.6h0M28.0 24.2h0M15.0 33.3h0M26.8 33.7h0M16.6 24.5h0M19.0 39.8h0M22.4 41.8h0M21.5 37.6h0M27.6 24.4h0M25.4 30.0h0M26.1 38.4h0M16.7 27.9h0M36.5 41.1h0M27.1 30.9h0M16.8 43.8h0M32.0 34.4h0M26.6 37.5h0M21.7 40.3h0M19.7 28.6h0M22.7 30.5h0M32.2 26.5h0M30.1 37.3h0M32.0 37.6h0M25.2 47.0h0M16.7 48.4h0M38.5 45.9h0M29.3 44.7h0M24.9 46.6h0M31.4 47.0h0M24.7 51.0h0M27.0 49.4h0M14.2 47.2h0M26.5 48.8h0M13.8 44.8h0M30.8 48.6h0M22.5 46.9h0M14.9 46.0h0M14.3 48.8h0M21.9 50.2h0M37.0 46.7h0M38.6 43.7h0M30.4 45.5h0M30.8 44.0h0M24.7 46.8h0M33.9 46.4h0M15.4 49.8h0M37.9 46.1h0M30.2 45.3h0M25.3 48.4h0M16.2 47.7h0M19.4 46.1h0M22.2 46.4h0M21.7 45.3h0M28.8 46.6h0M34.2 48.2h0M25.4 46.9h0M39.0 46.7h0M18.4 46.0h0M22.1 46.7h0M33.7 41.7h0M16.7 46.5h0M36.2 48.5h0M37.3 46.2h0M20.8 46.6h0M27.2 45.5h0M29.9 48.1h0M15.9 45.8h0M21.0 47.0h0M25.5 45.4h0M30.5 43.8h0M24.1 49.3h0M26.2 47.5h0M23.6 46.6h0M31.0 46.0h0M25.0 45.4h0M37.1 48.3h0M25.0 46.2h0M14.0 48.5h0M23.2 48.2h0M31.8 48.4h0M35.4 48.7h0M16.9 47.5h0M28.6 48.8h0M37.9 47.7h0M29.2 49.1h0M34.8 50.7h0M18.0 45.1h0M22.4 47.6h0M24.0 47.2h0M25.0 43.7h0M16.8 44.1h0M38.5 46.8h0M31.4 46.1h0M16.9 49.6h0M17.4 48.3h0M30.8 44.6h0M21.9 48.4h0M29.5 50.2h0M34.2 49.2h0M23.1 46.6h0M29.8 46.4h0M19.9 48.0h0M14.6 46.9h0M36.6 46.0h0M16.1 44.7h0M25.1 47.0h0M34.2 46.4h0M28.9 48.7h0M24.5 48.7h0M34.2 43.8h0M33.3 45.7h0M26.6 48.9h0M21.9 52.6h0M29.9 47.7h0M15.1 46.1h0M34.0 47.0h0M21.6 46.0h0M29.7 43.7h0M26.1 45.6h0M18.6 47.3h0M20.6 45.1h0M17.4 47.1h0M17.8 48.1h0M27.1 48.0h0M31.7 47.9h0M18.4 47.1h0M21.7 46.7h0M17.6 45.0h0M33.0 46.6h0M24.9 47.5h0M29.1 46.6h0M15.3 44.9h0M19.8 50.6h0M15.4 47.4h0M29.2 47.1h0M17.6 44.3h0M16.9 44.9h0M37.3 46.7h0M18.6 46.2h0M23.8 47.9h0M18.5 43.4h0M36.1 46.7h0M27.5 46.8h0M21.0 44.1h0M16.8 45.7h0M15.8 49.3h0M32.6 47.9h0M20.7 46.4h0M26.3 43.3h0M16.3 48.0h0M33.0 47.2h0M34.7 49.8h0M37.2 47.2h0M21.4 50.3h0M18.7 46.3h0M18.6 48.0h0M14.6 45.8h0M14.2 45.9h0M18.3 44.5h0M37.0 46.2h0M20.0 48.3h0M30.5 47.4h0M15.6 43.4h0M30.0 46.7h0M30.5 47.8h0M18.2 51.5h0M15.1 49.7h0M26.2 46.2h0M39.0 47.8h0M15.5 48.7h0M28.8 47.7h0M28.2 46.5h0M25.8 44.7h0M38.9 48.7h0M22.1 48.5h0M38.9 44.9h0M33.9 47.2h0M39.1 46.8h0M17.8 46.6h0M17.1 47.6h0M38.2 47.3h0M24.3 47.1h0M19.2 45.6h0M39.0 50.4h0M15.3 49.1h0M26.0 44.8h0M29.4 48.0h0M17.0 48.0h0M20.3 46.2h0M15.1 47.5h0M25.9 49.6h0M38.2 47.9h0M21.7 45.5h0M26.7 46.8h0M30.5 48.9h0M19.6 50.8h0M31.0 45.8h0M32.2 49.3h0M24.5 47.1h0M30.4 47.4h0M19.4 45.1h0M39.3 46.5h0M16.0 44.3h0M24.3 44.3h0M21.6 44.5h0M16.0 46.4h0M27.8 43.4h0M32.1 46.3h0M16.8 48.6h0M16.4 48.0h0M28.4 43.7h0M27.8 43.7h0M16.0 46.8h0M19.3 50.2h0M26.4 51.5h0M31.9 45.9h0M33.7 50.4h0M23.9 52.6h0M33.2 47.0h0M22.5 51.8h0M28.3 45.5h0M23.0 45.9h0M16.8 45.9h0M21.6 45.5h0M27.6 48.5h0M37.5 45.8h0M26.2 45.4h0M34.1 45.8h0M23.4 45.6h0M32.8 46.1h0M17.5 45.7h0M18.1 50.1h0M35.3 47.6h0M28.4 48.8h0M19.5 47.4h0M16.3 44.3h0M35.3 44.7h0M34.6 47.1h0M21.3 50.2h0M22.7 47.1h0M29.6 46.7h0M21.9 45.8h0M18.9 47.3h0M38.5 45.8h0M30.4 47.4h0M36.4 44.6h0M34.8 47.2h0M36.4 44.7h0M17.7 47.6h0M17.8 48.5h0M27.6 46.8h0M19.4 48.3h0M24.7 48.0h0M20.1 48.5h0M37.1 46.3h0M30.6 48.9h0M14.3 45.9h0M17.7 48.0h0M15.1 47.6h0M20.0 44.3h0M18.8 47.2h0M24.3 47.0h0M31.7 46.2h0M16.0 50.4h0M27.5 47.4h0M29.2 46.8h0M28.3 48.2h0M21.7 50.5h0M36.7 46.9h0M18.4 45.8h0M16.9 48.4h0M26.1 45.8h0M18.3 46.1h0M14.5 47.4h0M39.1 49.3h0M32.1 47.1h0M19.0 48.6h0M36.2 51.3h0M33.6 47.3h0M21.4 46.2h0M31.8 46.8h0M16.5 49.0h0M30.0 46.7h0M38.5 50.0h0M29.6 45.0h0M23.4 44.0h0M21.9 46.5h0M37.9 43.9h0M17.6 44.2h0M26.5 45.5h0M28.1 47.0h0M26.6 46.1h0M27.0 48.2h0M23.8 47.1h0M25.4 47.7h0M31.1 49.8h0M17.3 50.1h0M16.5 50.4h0M18.6 48.1h0M15.4 46.6h0M22.8 45.8h0M28.5 46.2h0M24.6 50.9h0M30.0 45.9h0M32.9 45.0h0M21.4 48.1h0M35.1 48.9h0M26.0 43.1h0M35.4 47.7h0M38.1 46.5h0M24.4 44.3h0M19.8 48.9h0M38.7 45.0h0M19.9 48.2h0M32.8 46.5h0M25.0 48.4h0M21.3 44.8h0M34.4 48.2h0M30.0 50.0h0M32.9 47.8h0M36.2 46.3h0M33.1 48.6h0M29.0 42.4h0M33.8 42.5h0M26.5 47.3h0M27.5 49.0h0M16.9 47.3h0M14.0 46.4h0M16.4 47.0h0M38.5 47.5h0M32.5 48.8h0M14.7 48.5h0M15.6 45.5h0M16.3 45.9h0M27.0 49.6h0M21.7 49.9h0M20.2 48.4h0M25.4 44.9h0M37.9 48.3h0M34.3 48.3h0M30.2 46.1h0M31.1 47.2h0M37.4 45.1h0M26.1 48.7h0M32.2 45.6h0M19.5 47.4h0M29.9 49.4h0M26.7 49.2h0M24.8 44.0h0M15.7 46.3h0M34.9 47.9h0M20.7 45.7h0M25.6 44.4h0M36.3 45.6h0M38.0 48.6h0M18.7 46.9h0M20.0 46.6h0M26.3 50.5h0M34.0 45.4h0M17.3 45.7h0M16.2 46.4h0M32.7 47.9h0M28.7 45.2h0M22.7 46.7h0M32.9 47.8h0M32.3 46.7h0M39.1 48.6h0M19.4 46.4h0M37.5 47.1h0M33.2 45.3h0M17.8 46.7h0M18.0 45.9h0M23.0 45.4h0M27.6 47.9h0M29.5 50.6h0M17.1 46.5h0M26.5 47.8h0M25.3 48.5h0M31.8 52.3h0M23.4 45.1h0M16.1 45.3h0M27.0 45.8h0M23.5 46.2h0M30.5 44.6h0M18.8 43.9h0M23.1 47.7h0M15.9 46.5h0M15.4 46.9h0M23.3 48.2h0M26.3 47.2h0M31.7 49.6h0M22.0 50.5h0M24.9 51.4h0M15.8 49.4h0M24.9 49.1h0M37.8 47.1h0M33.2 46.3h0M38.5 50.8h0M29.8 47.1h0M37.4 47.7h0M21.2 45.2h0M14.1 48.7h0M16.0 48.1h0M17.2 45.7h0M38.5 47.5h0M18.6 44.9h0M24.2 46.3h0M34.0 50.5h0M15.4 46.0h0M22.9 43.5h0M31.5 49.2h0M23.3 46.0h0M16.0 42.1h0M38.7 47.3h0M15.0 47.3h0M35.9 45.7h0M29.6 50.7h0M15.1 48.2h0M38.0 46.9h0M36.6 46.4h0M16.0 46.9h0M19.8 48.1h0M19.1 50.1h0M25.0 50.2h0M22.5 49.1h0M14.4 46.7h0M26.6 44.2h0M33.2 45.5h0M34.5 50.2h0M25.9 47.2h0M27.8 45.5h0M29.7 49.5h0M34.5 48.0h0M38.9 49.1h0M29.0 47.1h0M16.4 47.7h0M30.2 47.0h0M25.3 48.7h0M37.6 43.0h0M38.7 47.4h0M16.5 46.9h0M26.1 45.2h0M34.8 43.9h0M33.0 45.8h0M19.4 47.3h0M33.1 46.8h0M31.0 47.8h0M28.7 46.2h0M19.9 45.1h0M38.7 44.6h0M30.6 47.1h0M14.1 47.9h0M38.0 48.7h0M14.9 49.5h0M24.7 46.3h0M32.7 49.5h0M14.2 44.8h0M35.9 44.8h0M26.5 49.9h0M35.8 49.1h0M35.1 48.0h0M21.9 47.6h0M28.0 46.2h0M14.3 47.0h0M31.3 45.6h0M16.0 44.9h0M17.8 48.2h0M21.5 46.1h0M29.0 44.9h0M14.9 47.1h0M29.5 44.9h0M14.5 47.6h0M27.4 46.8h0M24.5 47.0h0M20.1 48.0h0M34.6 48.1h0M36.5 48.8h0M21.3 47.6h0M22.3 46.3h0M23.4 48.1h0M28.6 47.5h0M23.9 48.5h0M20.5 47.1h0M24.4 45.2h0M35.5 46.4h0M35.4 46.5h0M37.4 45.1h0M21.2 46.4h0M24.8 47.5h0M39.3 48.7h0M25.5 46.9h0M20.0 43.8h0M21.0 47.7h0M39.2 50.3h0M17.4 47.0h0M15.6 52.0h0M29.7 46.2h0M20.5 47.0h0M18.0 50.8h0M26.7 47.7h0M36.4 48.2h0M36.7 45.7h0M19.0 46.0h0M16.0 48.2h0M15.3 48.2h0M21.3 48.8h0M32.1 49.4h0M38.4 49.0h0M35.0 50.1h0M36.6 45.4h0M35.4 44.1h0M15.1 47.1h0M37.8 43.4h0M30.0 45.3h0M27.8 47.6h0M23.8 44.0h0M32.0 49.0h0M25.1 46.9h0M33.2 46.5h0M26.3 43.1h0M20.0 51.5h0M19.7 50.3h0M20.5 46.7h0M24.6 13.4h0M25.7 19.4h0M31.2 23.3h0M13.9 35.6h0M25.6 26.2h0M29.7 20.2h0M44.4 14.9h0M23.9 25.8h0M28.2 21.9h0M27.1 25.3h0M23.5 21.7h0M24.1 22.5h0M31.1 16.6h0M30.0 20.4h0M32.3 15.1h0M29.7 18.2h0M29.1 17.5h0M28.8 23.2h0M19.1 23.1h0M36.8 11.9h0M19.5 17.6h0M27.3 23.2h0M37.0 17.0h0M30.0 17.5h0M21.3 23.0h0M26.4 22.1h0M37.5 11.7h0M34.7 17.2h0M24.4 22.5h0M26.1 18.1h0M31.3 21.1h0M22.4 27.7h0M25.9 20.9h0M26.9 21.2h0M34.2 21.6h0M35.8 10.5h0M39.9 9.7h0M30.2 19.9h0M37.1 9.4h0M33.8 18.4h0M31.7 25.4h0M30.8 20.8h0M32.9 16.7h0M30.9 9.1h0M26.4 23.2h0M35.5 18.2h0M28.9 16.6h0M38.1 18.7h0M29.6 16.4h0M26.5 16.9h0M26.3 23.2h0M37.2 26.6h0M22.1 19.6h0M35.6 12.5h0M34.2 17.7h0M31.6 18.7h0M38.3 18.0h0M25.4 18.7h0M31.4 17.7h0M15.3 27.5h0M37.3 10.4h0M23.7 17.1h0M30.8 17.0h0M24.9 23.1h0M39.6 7.6h0M37.1 11.7h0M32.1 20.6h0M28.6 19.5h0M44.6 12.6h0M30.6 23.5h0M33.1 16.4h0M26.5 15.8h0M24.3 15.4h0M30.7 12.5h0M36.7 29.3h0M34.7 20.2h0M38.7 10.3h0M29.1 21.7h0M38.8 20.9h0M35.2 8.4h0M26.3 26.6h0M23.4 23.5h0M37.9 18.5h0M35.0 25.1h0M31.6 25.0h0M40.1 13.9h0M35.8 12.9h0M33.9 14.0h0M16.8 27.5h0M31.8 19.7h0M30.0 16.5h0M34.0 12.5h0M33.1 11.6h0M21.6 21.8h0M25.5 15.5h0M33.8 18.4h0M24.5 26.3h0M28.1 23.1h0M25.7 21.0h0M30.9 18.5h0M31.2 23.6h0M25.1 21.6h0M37.7 16.9h0M26.9 15.2h0M29.8 17.8h0M33.8 17.3h0M24.8 17.2h0M28.9 19.3h0M34.2 18.1h0M29.7 20.7h0M38.5 10.4h0M41.9 14.8h0M23.7 17.7h0M28.0 21.2h0M30.1 16.0h0M30.2 21.0h0M31.5 19.9h0M28.2 19.3h0M35.7 7.3h0M27.9 21.2h0M17.2 19.1h0M25.2 18.6h0M24.4 19.0h0M30.9 18.1h0M33.4 15.1h0M31.3 15.6h0M27.6 18.7h0M25.5 23.9h0M28.2 23.6h0M41.4 14.8h0M28.6 14.3h0M26.7 16.7h0M17.9 21.5h0M28.7 19.3h0M32.3 19.4h0M30.0 15.0h0M25.4 22.8h0M35.2 18.3h0M19.3 18.3h0M21.8 28.4h0M27.0 22.4h0M33.9 16.6h0M30.5 17.1h0M26.2 16.6h0M31.3 17.4h0M37.8 15.3h0M32.8 18.2h0M37.0 22.2h0M38.3 18.4h0M22.9 17.6h0M25.0 21.8h0M25.5 19.3h0M31.9 17.6h0M33.4 14.8h0M30.5 11.4h0M30.5 18.7h0M39.2 18.0h0M28.1 26.6h0M24.3 15.7h0M30.8 18.3h0M44.9 15.4h0M26.5 14.6h0M40.7 14.8h0M26.3 16.7h0M31.0 18.0h0M26.8 26.5h0M19.4 29.6h0M35.3 24.4h0M22.8 18.5h0M42.1 11.1h0M39.0 22.1h0M38.1 17.3h0M35.5 17.7h0M35.7 12.0h0M28.2 17.7h0M36.7 11.8h0M26.5 16.4h0M32.4 23.8h0M23.5 21.4h0M31.4 14.6h0M13.0 21.5h0M34.4 20.1h0M43.2 13.0h0M40.9 15.6h0M31.0 18.8h0M26.5 14.9h0M23.3 21.7h0M31.7 19.4h0M21.0 22.3h0M26.9 23.3h0M29.1 21.6h0M23.5 19.5h0M36.8 13.1h0M26.5 19.0h0M35.4 19.7h0M30.9 18.9h0M29.2 20.0h0M29.5 12.3h0M26.5 19.3h0M27.1 15.9h0M26.4 24.2h0M24.4 16.9h0M34.4 19.1h0M36.1 12.6h0M23.6 28.8h0M32.4 16.6h0M17.6 25.1h0M28.0 18.3h0M32.3 15.5h0M33.0 14.6h0M27.8 17.4h0M29.2 24.7h0M23.9 24.9h0M31.4 16.6h0M27.6 22.5h0M25.6 21.1h0M31.0 16.7h0M19.9 23.4h0M24.9 19.1h0M21.6 13.0h0M27.3 23.8h0M19.7 22.5h0M20.1 19.1h0M31.6 13.8h0M26.4 21.4h0M33.9 15.0h0M35.7 17.1h0M25.1 30.0h0M29.7 15.6h0M36.2 13.5h0M21.3 28.8h0M27.0 18.6h0M32.7 17.7h0M32.8 25.9h0M41.9 9.7h0M18.3 22.7h0M38.3 6.9h0M33.9 20.8h0M34.9 23.2h0M40.2 14.2h0M37.0 16.3h0M38.6 17.8h0M23.5 23.3h0M32.1 18.3h0M34.1 19.3h0M30.8 22.1h0M13.2 25.0h0M22.8 21.7h0M21.5 25.6h0M23.9 15.1h0M24.4 27.1h0M34.4 16.9h0M25.2 19.1h0M40.0 15.8h0M33.9 14.2h0M29.2 13.5h0M23.0 28.2h0M28.0 25.7h0M41.3 11.4h0M29.8 15.9h0M27.4 27.3h0M27.8 20.8h0M25.1 25.2h0M33.6 19.6h0M22.8 19.0h0M29.5 16.9h0M26.3 20.6h0M44.2 14.5h0M39.1 11.9h0M28.6 19.9h0M41.7 13.5h0M22.1 19.1h0M23.9 17.6h0M24.3 17.0h0M31.1 20.2h0M24.4 23.6h0M41.4 14.0h0M32.3 15.3h0M37.2 17.9h0M39.2 14.9h0M23.2 21.8h0M35.0 17.3h0M31.7 25.0h0M31.8 19.3h0M23.6 16.7h0M40.2 16.5h0M34.7 15.7h0M23.9 25.5h0M35.3 17.6h0M28.7 24.1h0M20.6 16.2h0M30.7 13.8h0M35.7 18.1h0M27.9 20.7h0M36.2 18.4h0M26.7 18.2h0M36.2 15.4h0M39.8 12.5h0M40.1 16.6h0M27.8 20.4h0M23.9 25.9h0M22.8 28.2h0M27.9 16.7h0M19.1 29.4h0M27.0 19.3h0M27.7 21.8h0M32.2 23.0h0M32.1 28.9h0M22.7 21.5h0M27.3 18.9h0M25.2 17.0h0M27.6 19.4h0M20.5 24.0h0M29.2 23.3h0M31.3 17.2h0M23.7 24.8h0M35.8 18.7h0M36.2 14.2h0M28.5 22.5h0M28.5 23.7h0M27.9 24.3h0M21.5 19.3h0M30.4 16.0h0M36.8 16.0h0M27.3 21.5h0M24.1 22.6h0M24.9 19.8h0M29.1 20.4h0M36.0 19.3h0M42.2 20.4h0M45.3 19.5h0M30.4 14.5h0M24.5 23.5h0M28.8 22.3h0M27.8 23.2h0M30.2 13.2h0M39.8 6.0h0M30.8 23.6h0M28.7 21.4h0M30.2 17.6h0M30.7 26.7h0M35.4 15.0h0M36.4 12.7h0M33.7 13.6h0M28.2 13.1h0M13.1 20.7h0M33.4 21.5h0M30.9 19.0h0M21.2 25.0h0M35.2 13.0h0M20.1 20.2h0M29.6 17.3h0M43.4 16.0h0M34.0 19.9h0M27.3 16.4h0M27.9 18.6h0M27.2 21.8h0M27.7 17.6h0M37.2 14.2h0M32.0 15.1h0M40.2 11.1h0M37.1 12.8h0M30.9 14.7h0M27.0 18.5h0M32.5 20.4h0M38.8 10.7h0M40.3 18.9h0M24.1 21.3h0M28.8 21.0h0M27.0 12.2h0M44.7 15.3h0M26.0 22.2h0M31.7 19.8h0M28.2 13.0h0M28.6 18.5h0M32.4 13.1h0M30.5 12.1h0M34.1 21.8h0M20.1 23.9h0M25.1 19.0h0M32.8 16.6h0M38.1 14.1h0M33.0 19.1h0M29.0 17.1h0M30.7 21.6h0M33.8 11.5h0M30.5 21.8h0M37.8 11.4h0M31.0 19.1h0M28.5 17.7h0M24.5 18.0h0M36.0 14.6h0M34.4 10.0h0M33.0 19.5h0M15.1 21.6h0M35.1 13.5h0M26.6 19.4h0M32.2 21.8h0M29.1 17.8h0M21.6 21.0h0M31.3 22.3h0M45.3 13.6h0M39.6 10.4h0M32.6 21.2h0M23.3 24.9h0M30.8 16.5h0M25.7 17.7h0M34.9 21.9h0M33.3 17.5h0M35.3 20.1h0M35.5 14.8h0M30.2 21.6h0M34.0 16.2h0M23.6 20.3h0M22.2 24.9h0M29.4 16.5h0M21.3 28.5h0M38.0 10.8h0M24.9 20.8h0M36.2 19.6h0M24.7 12.6h0M34.4 21.8h0M34.2 19.8h0M30.0 25.2h0M40.0 20.8h0M25.6 23.2h0M23.5 23.5h0M30.2 21.1h0M18.9 23.4h0M38.7 16.6h0M31.3 14.7h0M26.6 24.4h0M30.5 22.8h0M34.7 17.2h0M29.7 26.4h0M34.0 23.6h0M28.5 21.5h0M30.4 21.7h0M33.5 14.0h0M33.2 19.8h0M31.3 16.4h0M32.6 14.6h0M30.1 18.9h0M26.7 19.6h0M33.1 16.6h0M27.3 16.6h0M22.8 17.4h0M28.8 20.0h0M29.0 10.8h0M33.8 14.8h0M34.6 15.0h0M27.8 27.2h0M15.3 26.5h0M23.0 24.4h0M24.3 21.1h0M30.1 21.3h0M18.6 31.6h0M31.6 14.8h0M32.3 18.1h0M29.7 18.2h0M26.4 29.1h0M34.2 26.3h0M27.6 18.1h0M35.7 23.4h0M32.5 15.7h0M38.1 26.2h0M26.7 24.0h0M32.9 18.4h0M37.1 17.7h0M31.4 17.0h0M35.4 14.0h0M21.6 28.2h0M33.8 10.9h0M16.5 24.7h0M27.6 19.4h0M28.7 22.6h0M23.1 19.1h0M24.1 23.9h0M25.0 23.4h0M26.9 22.2h0M35.6 12.6h0M31.2 17.7h0M24.6 23.8h0M18.2 19.3h0M24.7 19.2h0M36.6 17.7h0M26.4 19.7h0M31.1 19.6h0M30.5 22.7h0M30.7 22.3h0M29.5 14.0h0M24.8 27.4h0M24.8 16.2h0M34.6 12.0h0M37.5 13.6h0M32.1 16.5h0M17.2 19.0h0M26.0 31.3h0M27.6 13.9h0M36.1 12.4h0M16.0 33.2h0M34.9 14.7h0M38.1 15.6h0M26.1 17.3h0M32.4 17.9h0M27.7 16.7h0M24.3 27.3h0M21.6 29.9h0M29.0 21.5h0M20.8 29.5h0M32.5 17.7h0M34.9 18.8h0M29.7 26.5h0M16.4 25.2h0M23.2 26.2h0M25.9 15.5h0M24.9 22.6h0M37.9 20.5h0M32.0 16.3h0M26.9 13.0h0M25.3 17.7h0M34.2 15.4h0M26.7 23.5h0M28.6 22.8h0M38.5 17.6h0M23.0 16.8h0M20.7 19.6h0M32.2 15.6h0M32.4 23.5h0M27.8 25.4h0M28.6 16.3h0M24.0 18.4h0M29.1 17.3h0M31.6 20.9h0M38.9 16.5h0M23.3 27.2h0M31.8 17.3h0M23.9 22.5h0M23.7 21.0h0M31.7 24.7h0M50.9 11.1h0M34.5 13.7h0M32.2 12.1h0M30.9 21.0h0M22.5 18.1h0M31.5 13.3h0M19.6 21.9h0M25.1 17.3h0M25.2 23.9h0M23.9 21.6h0M33.4 15.5h0M29.3 20.9h0M34.2 17.2h0M24.9 13.3h0M21.2 17.7h0M31.0 19.9h0M33.3 16.5h0M26.7 25.6h0M30.6 19.5h0M24.8 10.3h0M33.1 16.0h0M31.1 20.9h0M19.0 17.8h0M25.2 18.9h0M33.8 10.6h0M28.0 20.3h0M29.8 15.5h0M35.2 17.7h0M27.6 19.7h0M39.8 16.3h0M29.4 23.1h0M23.8 13.6h0M30.0 18.9h0M34.7 13.5h0M26.8 19.8h0M30.8 15.4h0M32.9 21.6h0M34.0 16.0h0M21.1 23.0h0M32.2 17.1h0M18.0 21.3h0M37.1 16.5h0M31.5 22.7h0M31.7 14.7h0M37.2 11.7h0M35.3 22.6h0M26.9 23.1h0M13.5 33.1h0M29.5 14.2h0M35.5 17.4h0M35.4 16.3h0M27.1 18.5h0M28.1 20.0h0M26.7 18.9h0M33.5 22.8h0M25.9 24.0h0M28.5 19.6h0M35.9 17.4h0M27.1 21.1h0M23.0 20.6h0M30.3 20.5h0M34.5 11.1h0M32.3 20.8h0M32.1 16.4h0M27.8 17.7h0M20.1 20.1h0M28.3 13.6h0M22.5 23.5h0M19.0 24.1h0M20.2 21.2h0M31.0 31.0h0M26.2 22.6h0M26.7 25.2h0M36.4 19.0h0M31.1 15.3h0M40.1 19.4h0M27.7 18.2h0M41.5 18.2h0M27.6 22.4h0M25.9 21.4h0M32.0 17.5h0M23.4 29.6h0M35.7 21.1h0M31.6 16.0h0M19.1 24.4h0M31.0 22.1h0M23.8 20.3h0M18.8 16.8h0M18.3 18.9h0M29.1 21.3h0M29.7 16.6h0M35.0 10.2h0M38.2 13.9h0M19.5 27.2h0M21.8 26.7h0M35.6 21.2h0M28.7 17.8h0M25.8 23.4h0M35.1 16.3h0M43.2 10.0h0M30.6 21.8h0M21.5 22.2h0M22.9 22.1h0M24.8 12.3h0M24.3 15.0h0M25.1 18.1h0M37.3 8.6h0M33.6 13.5h0M23.5 20.0h0M35.5 19.2h0M30.7 16.2h0M27.1 21.4h0M32.4 13.2h0M31.1 23.6h0M35.0 17.4h0M27.8 22.0h0M28.8 20.4h0M35.7 21.1h0M26.1 18.7h0M27.0 17.6h0M26.0 21.3h0M33.8 22.9h0M28.9 18.5h0M30.2 16.3h0M33.5 18.2h0M25.6 17.8h0M29.3 20.5h0M25.1 13.7h0M13.9 19.1h0M38.3 16.4h0M36.5 19.9h0M34.7 11.9h0M23.7 26.0h0M38.2 16.5h0M31.5 21.8h0M23.1 12.0h0M34.5 19.1h0M29.5 19.5h0M28.3 18.5h0M29.1 14.6h0M25.5 20.6h0M21.7 23.9h0M32.8 16.4h0M33.1 20.5h0M36.2 15.1h0M24.2 20.0h0M19.4 26.6h0M27.8 23.4h0M25.2 23.8h0M30.9 23.0h0M29.1 19.4h0M29.0 19.3h0M24.9 22.3h0M30.2 24.4h0M21.8 22.9h0M33.9 17.9h0M31.5 23.3h0M22.8 22.7h0M34.6 15.1h0M34.1 28.6h0M41.5 18.0h0M19.5 21.9h0M28.0 24.9h0M27.6 25.8h0M25.3 19.6h0M30.4 16.8h0M26.9 19.4h0M33.2 22.6h0M36.8 20.5h0M35.3 9.9h0M35.4 20.2h0M35.3 14.1h0M24.5 24.0h0M27.4 22.2h0M32.2 25.4h0M32.6 14.9h0M28.3 19.9h0M34.3 21.1h0M29.7 14.5h0M29.8 19.1h0M32.5 14.7h0M25.7 24.3h0M27.7 21.8h0M26.2 20.2h0M24.4 27.2h0M29.9 9.9h0M23.4 20.7h0M42.3 13.8h0M28.4 9.3h0M25.7 23.6h0M33.1 15.1h0M34.7 18.5h0M32.8 24.1h0M31.9 17.2h0M30.6 18.1h0M39.3 10.2h0M31.2 22.4h0M19.4 21.6h0M31.8 14.9h0M24.3 26.7h0M28.8 19.6h0M27.8 18.5h0M24.6 21.7h0M28.3 21.0h0M32.0 18.2h0M36.4 13.7h0M26.9 17.0h0M31.2 10.1h0M40.9 19.6h0M33.5 21.3h0M37.7 10.6h0M34.3 21.0h0M36.1 18.4h0M28.9 25.7h0M35.6 13.4h0M28.8 7.9h0M32.1 19.4h0M29.7 22.7h0M38.5 9.8h0M41.7 13.0h0M19.5 26.8h0M28.6 15.1h0M32.8 20.8h0M22.0 25.8h0M23.6 17.9h0M27.8 21.4h0M27.7 23.8h0M33.4 22.6h0M23.0 18.8h0M32.1 18.5h0M31.9 13.9h0M37.6 13.8h0M29.2 18.0h0M37.5 19.5h0M35.4 22.2h0M31.3 19.3h0M31.2 22.5h0M28.9 21.2h0M40.4 15.9h0M36.4 22.4h0M18.6 27.2h0M28.5 14.3h0M34.1 20.6h0M27.4 19.5h0M33.4 17.5h0M25.2 21.0h0M38.3 17.1h0M30.0 13.2h0M21.9 19.5h0M26.7 13.4h0M33.9 19.0h0M36.7 18.5h0M21.6 24.2h0M29.3 25.1h0M33.6 14.8h0M29.5 20.4h0M32.7 18.0h0M29.6 18.1h0M34.9 18.2h0M25.8 18.0h0M35.7 47.1h0M34.6 49.2h0M32.1 45.1h0M30.2 44.3h0M31.8 43.9h0M39.6 49.1h0M27.6 46.9h0M30.5 46.7h0M40.2 47.9h0M30.8 45.7h0M36.8 47.5h0M33.4 45.1h0M41.5 45.4h0M42.1 43.6h0M39.8 46.2h0M36.7 46.2h0M36.0 43.5h0M30.2 45.6h0M32.8 46.7h0M38.9 48.6h0M34.0 44.8h0M33.4 44.2h0M34.5 43.9h0M34.0 51.6h0M29.8 45.3h0M36.1 45.4h0M35.1 42.7h0M26.6 47.7h0M43.0 43.4h0M30.8 45.3h0M36.2 47.4h0M31.1 49.3h0M29.0 46.3h0M37.6 44.9h0M38.5 49.5h0M28.3 46.2h0M33.6 48.4h0M35.9 43.9h0M31.8 45.0h0M33.1 43.6h0M33.3 47.4h0M36.3 46.4h0M25.7 45.7h0M21.7 44.5h0M33.9 44.7h0M37.4 44.6h0M42.9 47.9h0M25.6 47.9h0M38.2 49.2h0M34.3 47.9h0M29.7 48.1h0M38.0 45.6h0M32.3 43.3h0M25.4 48.8h0M33.6 46.6h0M30.6 46.0h0M35.8 44.1h0M32.0 47.4h0M39.3 49.1h0M35.3 43.6h0M39.4 47.4h0M34.8 47.4h0M34.0 48.4h0M32.3 47.6h0M30.3 40.5h0M33.4 46.9h0M34.9 46.6h0M38.9 45.7h0M29.8 42.0h0M33.4 48.7h0M39.9 43.9h0M27.4 43.5h0M31.8 46.0h0M28.7 43.9h0M30.2 43.5h0M31.6 44.6h0M38.4 47.4h0M31.5 43.6h0M35.2 42.5h0M27.9 44.6h0M29.5 45.9h0M34.8 42.5h0M40.6 45.0h0M27.4 43.5h0M38.3 47.9h0M35.7 47.5h0M28.7 46.8h0M30.3 48.1h0M31.8 46.7h0M36.5 46.7h0M30.9 48.2h0M33.0 48.1h0M35.7 44.1h0M36.8 47.7h0M34.9 45.2h0M36.7 50.4h0M28.6 47.3h0M36.9 47.6h0M32.4 50.1h0M36.3 43.4h0M31.9 49.8h0M28.0 48.2h0M32.1 46.1h0M35.7 44.4h0M35.7 46.6h0M31.3 46.6h0M36.9 46.2h0M39.2 46.0h0M31.5 50.2h0M36.8 44.5h0M42.1 46.2h0M38.3 46.0h0M38.7 46.7h0M30.2 47.3h0M36.4 42.3h0M31.5 47.3h0M25.1 46.9h0M34.5 47.9h0M34.1 46.6h0M28.9 46.4h0M41.8 43.5h0M27.9 43.3h0M32.4 46.5h0M35.4 44.4h0M31.7 46.8h0M34.4 44.4h0M42.3 41.0h0M38.5 46.4h0M35.6 45.6h0M38.8 45.0h0M35.7 45.9h0M22.5 44.1h0M27.1 46.4h0M33.9 45.1h0M31.5 43.7h0M30.3 47.4h0M41.9 43.0h0M36.1 49.1h0M29.3 49.3h0M38.5 48.5h0M33.0 45.0h0M36.6 46.2h0M33.7 46.9h0M23.3 44.2h0M29.8 44.4h0M31.8 47.1h0M28.5 43.4h0M34.0 43.2h0M42.6 47.0h0M36.1 48.4h0M34.0 45.8h0M30.7 43.2h0M33.2 47.4h0M30.7 47.5h0M36.4 44.5h0M35.4 40.1h0M35.3 45.0h0M40.1 41.5h0M37.1 46.6h0M37.0 47.4h0M29.7 46.3h0M30.8 46.4h0M27.9 44.1h0M37.6 47.9h0M42.6 46.9h0M30.8 46.5h0M36.2 47.8h0M35.8 47.2h0M36.5 47.0h0M33.2 48.2h0M32.6 45.1h0M36.9 45.0h0M32.4 46.4h0M31.4 48.2h0M30.8 48.8h0M28.1 45.2h0M39.4 46.1h0M36.7 48.7h0M29.7 49.6h0M30.4 50.2h0M35.1 49.3h0M39.7 46.1h0M26.8 50.3h0M34.3 44.7h0M31.5 43.1h0M34.1 46.1h0M28.5 49.4h0M34.7 48.2h0M37.7 47.5h0M29.1 44.5h0M37.2 45.2h0M35.6 46.1h0M32.5 48.5h0M31.6 42.8h0M25.7 51.6h0M29.9 44.1h0M36.0 44.7h0M42.4 46.2h0M32.4 43.3h0M35.5 47.6h0M33.7 50.8h0M36.1 46.3h0M36.8 45.0h0M37.0 50.0h0M34.9 46.2h0M38.8 46.3h0M34.3 44.8h0M38.0 46.2h0M41.0 43.7h0M38.2 46.7h0M40.0 45.3h0M34.8 45.8h0M32.1 46.8h0M36.0 45.7h0M37.3 46.9h0M35.6 42.5h0M38.1 47.6h0M35.9 45.0h0M27.6 48.2h0M36.1 51.1h0M32.5 44.1h0M31.8 45.5h0M28.5 43.2h0M37.0 45.5h0M39.5 50.5h0M29.8 43.7h0M38.4 46.0h0M31.1 47.4h0M34.8 46.0h0M24.9 49.1h0M45.5 43.8h0M33.5 45.4h0M29.5 45.8h0M31.0 44.4h0M40.8 44.8h0M30.2 45.2h0M25.6 46.8h0M29.5 49.7h0M27.8 52.1h0M34.6 42.6h0M30.6 44.7h0M30.5 45.2h0M36.9 50.6h0M36.7 46.7h0M28.8 44.4h0M30.1 50.7h0M29.9 47.3h0M35.1 49.6h0M34.0 47.2h0M34.1 45.1h0M9.7 46.9h0M14.0 45.8h0M5.8 47.4h0M8.5 46.2h0M12.2 46.7h0M13.4 47.6h0M11.9 46.9h0M11.0 46.8h0M8.9 45.5h0M7.1 45.6h0M8.1 46.2h0M3.4 47.1h0M5.9 47.1h0M10.6 46.9h0M8.2 46.9h0M3.6 46.1h0M11.3 47.8h0M7.0 47.0h0M13.5 46.6h0M7.8 46.2h0M6.8 46.7h0M4.5 47.4h0M10.0 48.1h0M10.4 45.5h0M12.5 46.8h0M7.7 45.4h0M9.2 46.5h0M8.7 47.8h0M7.0 46.2h0M15.1 46.1h0M11.2 47.1h0M13.6 48.2h0M7.0 46.5h0M11.4 48.0h0M8.3 46.7h0M11.4 47.1h0M9.8 46.3h0M14.9 46.1h0M7.7 47.8h0M6.0 49.7h0M13.4 41.1h0M15.7 43.5h0M13.0 38.2h0M13.8 32.4h0M13.7 40.0h0M14.8 40.8h0M13.2 39.0h0M13.7 33.8h0M15.5 40.7h0M13.6 38.8h0M16.3 37.2h0M16.6 34.6h0M13.4 44.5h0M14.1 33.9h0M15.3 38.7h0M16.6 45.4h0M14.0 40.2h0M13.9 45.2h0M15.7 30.4h0M13.7 34.8h0M16.0 41.2h0M14.3 42.1h0M15.8 41.5h0M16.2 37.7h0M15.1 48.8h0M13.0 40.2h0M13.8 42.0h0M16.9 40.8h0M13.9 40.7h0M13.9 36.7h0M17.4 38.8h0M13.4 32.8h0M12.8 30.1h0M14.2 23.3h0M15.5 35.0h0M11.3 36.0h0M15.1 35.8h0M14.7 32.8h0M14.1 49.8h0M16.2 32.9h0M16.0 33.0h0M15.9 35.3h0M13.3 44.9h0M15.6 38.9h0M17.0 36.0h0M17.1 43.7h0M14.6 39.4h0M15.1 42.2h0M11.6 50.3h0M17.0 46.0h0M14.0 39.8h0M17.3 30.0h0M12.4 38.8h0M15.0 38.1h0M15.0 35.5h0M14.5 40.6h0M13.7 40.0h0M15.4 39.9h0M12.4 36.8h0M16.5 34.9h0M14.6 40.6h0M16.0 39.6h0M11.9 33.8h0M15.3 37.8h0M13.7 31.3h0M14.5 32.3h0M15.5 35.5h0M17.5 36.1h0M15.7 46.1h0M17.4 25.4h0M16.6 52.1h0M15.8 45.8h0M14.5 44.2h0M13.8 47.3h0M12.8 35.2h0M15.3 39.0h0M11.1 44.7h0M17.6 37.4h0M15.9 46.6h0M14.8 32.7h0M18.6 32.4h0M16.8 32.8h0M14.7 35.6h0M14.1 49.8h0M17.5 37.5h0M16.4 43.0h0M13.8 38.1h0M16.3 38.3h0M14.1 35.3h0M13.9 38.9h0M15.5 36.2h0M14.9 33.0h0M13.6 39.9h0M20.2 46.0h0M14.6 39.2h0M14.3 38.7h0M15.4 42.6h0M13.8 46.8h0M16.4 44.4h0M13.5 47.0h0M15.4 42.9h0M14.8 32.8h0M12.2 34.0h0M15.0 45.2h0M13.3 34.6h0M14.0 32.6h0M16.3 46.6h0M14.5 35.0h0M16.1 40.3h0M14.6 34.4h0M11.1 46.7h0M17.2 33.0h0M15.6 33.3h0M13.2 39.7h0M14.9 40.2h0M12.4 36.9h0M11.9 27.1h0M15.6 28.0h0M14.7 27.3h0M14.2 43.8h0M12.3 27.4h0M13.5 31.4h0M15.1 57.5h0M13.1 46.8h0M14.5 44.6h0M13.7 36.6h0M14.8 48.3h0M18.1 29.0h0M18.3 42.1h0M13.6 37.0h0M17.3 33.5h0M16.5 39.4h0M14.6 34.2h0M14.1 35.3h0M12.8 33.1h0M16.3 35.9h0M15.5 35.9h0M12.3 42.1h0M17.4 39.4h0M13.9 48.3h0M14.5 37.0h0M12.2 40.8h0M16.0 41.5h0M11.5 40.7h0M13.9 37.7h0M16.5 37.8h0M15.7 46.4h0M14.9 36.1h0M15.1 36.4h0M16.8 44.7h0M17.5 46.1h0M13.5 32.6h0M14.8 38.8h0M16.0 44.3h0M13.1 32.8h0M14.6 41.9h0M14.0 37.1h0M15.7 37.6h0M17.1 34.2h0M12.6 42.7h0M49.4 48.2h0M54.3 52.1h0M33.6 45.9h0M30.9 9.5h0M11.3 9.7h0M55.2 51.4h0M56.9 18.3h0M15.4 33.2h0M22.2 41.1h0M50.9 19.9h0M11.8 30.0h0M35.7 3.0h0M6.0 53.8h0M30.3 26.9h0M56.6 11.7h0M30.2 42.3h0M6.5 15.1h0M36.0 4.3h0M50.7 32.1h0M25.1 31.1h0M43.0 21.0h0M33.9 42.0h0M44.0 9.4h0M22.5 23.0h0M46.0 37.3h0" stroke="#3350c2" stroke-width="0.75" stroke-linecap="round" opacity="0.5" fill="none"/><defs><radialGradient id="g15"><stop offset="0" stop-color="#52d4ec" stop-opacity="1"/><stop offset="0.35" stop-color="#3cb0e2" stop-opacity="0.95"/><stop offset="0.7" stop-color="#3a66cc" stop-opacity="0.6"/><stop offset="1" stop-color="#3050c0" stop-opacity="0"/></radialGradient></defs><ellipse cx="0" cy="0" rx="7.0" ry="2.6" fill="url(#g15)" opacity="1.0" transform="translate(31.00,18.60) rotate(-30)"/><defs><radialGradient id="g16"><stop offset="0" stop-color="#3454c4" stop-opacity="0.95"/><stop offset="0.6" stop-color="#3454c4" stop-opacity="0.7"/><stop offset="1" stop-color="#3454c4" stop-opacity="0"/></radialGradient></defs><ellipse cx="0" cy="0" rx="8.0" ry="4.6" fill="url(#g16)" opacity="0.8" transform="translate(34.40,46.00) rotate(-8)"/><defs><radialGradient id="g17"><stop offset="0" stop-color="#8ad890" stop-opacity="1"/><stop offset="0.22" stop-color="#5cccb0" stop-opacity="1"/><stop offset="0.45" stop-color="#3cb4e0" stop-opacity="1"/><stop offset="0.72" stop-color="#3a66cc" stop-opacity="0.7"/><stop offset="1" stop-color="#3050c0" stop-opacity="0"/></radialGradient></defs><ellipse cx="0" cy="0" rx="6.6" ry="3.7" fill="url(#g17)" opacity="1.0" transform="translate(34.40,46.00) rotate(-8)"/><defs><radialGradient id="g18"><stop offset="0" stop-color="#3454c4" stop-opacity="0.95"/><stop offset="0.6" stop-color="#3454c4" stop-opacity="0.7"/><stop offset="1" stop-color="#3454c4" stop-opacity="0"/></radialGradient></defs><ellipse cx="0" cy="0" rx="3.7" ry="9.5" fill="url(#g18)" opacity="0.85" transform="translate(13.80,43.10) rotate(0)"/><defs><radialGradient id="g19"><stop offset="0" stop-color="#52d4ec" stop-opacity="1"/><stop offset="0.35" stop-color="#3cb0e2" stop-opacity="0.95"/><stop offset="0.7" stop-color="#3a66cc" stop-opacity="0.6"/><stop offset="1" stop-color="#3050c0" stop-opacity="0"/></radialGradient></defs><ellipse cx="0" cy="0" rx="2.7" ry="6.8" fill="url(#g19)" opacity="1.0" transform="translate(14.00,42.40) rotate(0)"/><defs><radialGradient id="g20"><stop offset="0" stop-color="#e02018" stop-opacity="1"/><stop offset="0.12" stop-color="#e85020" stop-opacity="1"/><stop offset="0.26" stop-color="#f0d040" stop-opacity="1"/><stop offset="0.42" stop-color="#70c860" stop-opacity="1"/><stop offset="0.62" stop-color="#40c0d8" stop-opacity="1"/><stop offset="0.84" stop-color="#3a70d0" stop-opacity="0.85"/><stop offset="1" stop-color="#3454c4" stop-opacity="0"/></radialGradient></defs><ellipse cx="0" cy="0" rx="3.3" ry="6.6" fill="url(#g20)" opacity="1.0" transform="translate(13.80,46.20) rotate(0)"/></g></defs>
<rect x="59.20" y="483.20" width="61.00" height="61.80" fill="#fff" stroke="#606060" stroke-width="1.15"/><path d="M59.20 483.20V545.00H120.20" fill="none" stroke="#2a2a2a" stroke-width="1"/><path d="M57.9 487.6h1.6M57.9 492.0h1.6M57.9 496.4h1.6M57.9 500.9h1.6M57.9 505.3h1.6M57.9 509.7h1.6M57.9 514.1h1.6M57.9 518.5h1.6M57.9 522.9h1.6M57.9 527.3h1.6M57.9 531.8h1.6M57.9 536.2h1.6M57.9 540.6h1.6M63.6 544.7v1.7M67.9 544.7v1.7M72.3 544.7v1.7M76.6 544.7v1.7M81.0 544.7v1.7M85.3 544.7v1.7M89.7 544.7v1.7M94.1 544.7v1.7M98.4 544.7v1.7M102.8 544.7v1.7M107.1 544.7v1.7M111.5 544.7v1.7M115.8 544.7v1.7" stroke="#333" stroke-width="0.6" fill="none"/><rect x="57.50" y="530.79" width="1.8" height="1.9" fill="#111"/><rect x="72.01" y="544.80" width="2" height="1.7" fill="#111"/><use href="#cd8E" transform="translate(59.20,483.20)"/><rect x="79.20" y="491.20" width="23.00" height="19.20" fill="none" stroke="#333" stroke-width="0.9"/>
<rect x="59.20" y="548.40" width="60.80" height="62.70" fill="#fff" stroke="#606060" stroke-width="1.15"/><path d="M59.20 548.40V611.10H120.00" fill="none" stroke="#2a2a2a" stroke-width="1"/><path d="M57.9 552.9h1.6M57.9 557.4h1.6M57.9 561.8h1.6M57.9 566.3h1.6M57.9 570.8h1.6M57.9 575.3h1.6M57.9 579.8h1.6M57.9 584.2h1.6M57.9 588.7h1.6M57.9 593.2h1.6M57.9 597.7h1.6M57.9 602.1h1.6M57.9 606.6h1.6M63.5 610.8v1.7M67.9 610.8v1.7M72.2 610.8v1.7M76.6 610.8v1.7M80.9 610.8v1.7M85.3 610.8v1.7M89.6 610.8v1.7M93.9 610.8v1.7M98.3 610.8v1.7M102.6 610.8v1.7M107.0 610.8v1.7M111.3 610.8v1.7M115.7 610.8v1.7" stroke="#333" stroke-width="0.6" fill="none"/><rect x="57.50" y="596.68" width="1.8" height="1.9" fill="#111"/><rect x="71.97" y="610.90" width="2" height="1.7" fill="#111"/><use href="#cd8E" transform="translate(59.20,548.40)"/><rect x="79.20" y="556.40" width="23.00" height="19.20" fill="none" stroke="#333" stroke-width="0.9"/>
<rect x="59.30" y="614.70" width="61.00" height="62.50" fill="#fff" stroke="#606060" stroke-width="1.15"/><path d="M59.30 614.70V677.20H120.30" fill="none" stroke="#2a2a2a" stroke-width="1"/><path d="M58.0 619.2h1.6M58.0 623.6h1.6M58.0 628.1h1.6M58.0 632.6h1.6M58.0 637.0h1.6M58.0 641.5h1.6M58.0 646.0h1.6M58.0 650.4h1.6M58.0 654.9h1.6M58.0 659.3h1.6M58.0 663.8h1.6M58.0 668.3h1.6M58.0 672.7h1.6M63.7 676.9v1.7M68.0 676.9v1.7M72.4 676.9v1.7M76.7 676.9v1.7M81.1 676.9v1.7M85.4 676.9v1.7M89.8 676.9v1.7M94.2 676.9v1.7M98.5 676.9v1.7M102.9 676.9v1.7M107.2 676.9v1.7M111.6 676.9v1.7M115.9 676.9v1.7" stroke="#333" stroke-width="0.6" fill="none"/><rect x="57.60" y="662.83" width="1.8" height="1.9" fill="#111"/><rect x="72.11" y="677.00" width="2" height="1.7" fill="#111"/><use href="#cd8E" transform="translate(59.30,614.70)"/><rect x="79.30" y="622.70" width="23.00" height="19.20" fill="none" stroke="#333" stroke-width="0.9"/>
<rect x="58.60" y="682.30" width="61.00" height="61.50" fill="#fff" stroke="#606060" stroke-width="1.15"/><path d="M58.60 682.30V743.80H119.60" fill="none" stroke="#2a2a2a" stroke-width="1"/><path d="M57.3 686.7h1.6M57.3 691.1h1.6M57.3 695.5h1.6M57.3 699.9h1.6M57.3 704.3h1.6M57.3 708.7h1.6M57.3 713.0h1.6M57.3 717.4h1.6M57.3 721.8h1.6M57.3 726.2h1.6M57.3 730.6h1.6M57.3 735.0h1.6M57.3 739.4h1.6M63.0 743.5v1.7M67.3 743.5v1.7M71.7 743.5v1.7M76.0 743.5v1.7M80.4 743.5v1.7M84.7 743.5v1.7M89.1 743.5v1.7M93.5 743.5v1.7M97.8 743.5v1.7M102.2 743.5v1.7M106.5 743.5v1.7M110.9 743.5v1.7M115.2 743.5v1.7" stroke="#333" stroke-width="0.6" fill="none"/><rect x="56.90" y="729.65" width="1.8" height="1.9" fill="#111"/><rect x="71.41" y="743.60" width="2" height="1.7" fill="#111"/><use href="#cd8E" transform="translate(58.60,682.30)"/><rect x="78.60" y="690.30" width="23.00" height="19.20" fill="none" stroke="#333" stroke-width="0.9"/>
<rect x="147.00" y="483.40" width="60.50" height="62.90" fill="#fff" stroke="#606060" stroke-width="1.15"/><path d="M147.00 483.40V546.30H207.50" fill="none" stroke="#2a2a2a" stroke-width="1"/><path d="M145.7 487.9h1.6M145.7 492.4h1.6M145.7 496.9h1.6M145.7 501.4h1.6M145.7 505.9h1.6M145.7 510.4h1.6M145.7 514.9h1.6M145.7 519.3h1.6M145.7 523.8h1.6M145.7 528.3h1.6M145.7 532.8h1.6M145.7 537.3h1.6M145.7 541.8h1.6M151.3 546.0v1.7M155.6 546.0v1.7M160.0 546.0v1.7M164.3 546.0v1.7M168.6 546.0v1.7M172.9 546.0v1.7M177.2 546.0v1.7M181.6 546.0v1.7M185.9 546.0v1.7M190.2 546.0v1.7M194.5 546.0v1.7M198.9 546.0v1.7M203.2 546.0v1.7" stroke="#333" stroke-width="0.6" fill="none"/><rect x="145.30" y="531.83" width="1.8" height="1.9" fill="#111"/><rect x="159.71" y="546.10" width="2" height="1.7" fill="#111"/><path transform="translate(147.00,483.40)" d="M13.4 47.3h0M17.8 47.8h0M16.6 46.9h0M14.0 47.5h0M13.2 48.2h0M16.7 48.4h0M19.7 48.9h0M12.3 47.8h0M15.9 46.3h0M13.8 49.8h0M9.3 46.9h0M15.0 48.7h0M19.7 48.5h0M12.0 46.5h0M11.2 49.4h0M15.4 46.0h0M20.1 48.2h0M19.4 47.3h0M12.0 48.3h0M15.2 48.5h0M18.3 46.9h0M16.8 47.3h0M11.3 48.8h0M17.4 48.7h0M13.6 48.0h0M15.5 46.3h0M11.8 48.8h0M16.5 47.7h0M17.5 47.8h0M13.8 48.1h0M18.6 48.2h0M18.0 48.7h0M19.8 47.1h0M16.2 48.4h0M17.4 46.9h0M17.9 47.8h0M13.1 47.3h0M18.0 48.4h0M12.9 47.7h0M19.5 47.7h0M15.5 47.9h0M16.7 48.1h0M16.1 48.0h0M15.8 47.0h0M13.7 48.6h0M13.2 48.1h0M12.0 47.6h0M14.6 48.9h0M16.4 48.4h0M14.3 48.6h0M14.3 48.9h0M14.2 46.6h0M15.6 47.9h0M16.0 48.4h0M16.8 46.0h0M17.2 49.5h0M17.9 46.7h0M13.2 47.4h0M13.9 47.3h0M13.1 49.0h0M15.4 50.1h0M14.9 48.2h0M13.8 47.3h0M12.5 48.4h0M16.0 48.4h0M12.7 45.8h0M16.4 48.1h0M16.3 48.1h0M18.9 48.2h0M13.3 47.8h0M13.6 48.6h0M13.2 49.2h0M17.4 48.4h0M14.2 47.9h0M13.8 48.1h0M15.0 47.4h0M15.8 48.3h0M18.5 48.4h0M16.5 49.6h0M14.9 47.8h0M11.9 50.1h0M16.8 45.6h0M16.2 48.2h0M18.2 48.9h0M16.2 47.5h0M18.1 48.4h0M14.9 48.8h0M9.5 49.0h0M15.6 49.4h0M16.5 49.0h0M14.7 47.8h0M19.1 47.3h0M9.7 46.7h0M14.6 47.5h0M14.4 48.4h0M21.2 47.6h0M14.5 46.0h0M14.4 47.8h0M20.0 47.6h0M19.2 47.0h0M12.6 48.6h0M20.3 49.3h0M16.4 47.2h0M13.9 47.4h0M12.4 48.6h0M14.4 48.9h0M20.4 46.9h0M16.4 45.9h0M15.0 49.1h0M10.5 46.3h0M19.5 48.2h0M13.5 46.8h0M12.0 48.0h0M16.1 46.8h0M14.5 47.0h0M18.5 47.1h0M17.1 47.2h0M17.6 47.1h0M20.0 47.4h0M17.6 48.6h0M13.8 48.2h0M15.1 48.1h0M16.9 47.7h0M18.5 46.7h0M14.8 48.6h0M16.8 46.9h0M17.2 48.7h0M15.4 47.8h0M14.3 47.4h0M11.0 47.3h0M16.0 47.1h0M16.4 46.8h0M12.8 48.5h0M13.4 48.7h0M19.7 47.2h0M14.9 48.1h0M15.4 47.6h0M12.1 47.3h0M19.2 47.2h0M16.1 46.6h0M12.7 48.1h0M15.9 47.8h0M14.8 47.2h0M12.7 48.2h0M16.4 48.2h0M11.1 45.7h0M16.9 48.3h0M12.8 47.5h0M17.1 49.2h0M13.6 47.2h0M30.7 46.6h0M23.9 48.9h0M18.0 48.0h0M30.3 47.4h0M36.0 46.8h0M31.0 47.3h0M37.2 45.3h0M22.4 48.1h0M23.4 49.6h0M36.2 47.3h0M38.3 52.8h0M33.5 48.2h0M20.1 44.9h0M20.2 46.8h0M15.5 48.0h0M31.2 48.0h0M44.4 50.0h0M36.9 50.2h0M14.8 50.1h0M21.6 47.0h0M43.9 48.6h0M38.0 46.2h0M37.3 27.5h0M19.7 25.7h0M51.9 54.2h0M44.9 24.5h0M24.2 12.9h0M36.9 58.9h0M38.2 41.9h0M17.7 26.2h0M36.7 7.9h0M47.0 31.7h0M24.3 34.7h0M46.2 44.0h0M39.3 11.2h0M51.7 30.7h0M29.9 17.3h0M21.2 45.6h0M35.0 17.3h0M10.4 6.2h0M6.2 58.3h0M44.3 47.1h0" stroke="#4060c8" stroke-width="0.8" stroke-linecap="round" opacity="0.4" fill="none"/><defs><radialGradient id="g21"><stop offset="0" stop-color="#3454c4" stop-opacity="0.95"/><stop offset="0.6" stop-color="#3454c4" stop-opacity="0.7"/><stop offset="1" stop-color="#3454c4" stop-opacity="0"/></radialGradient></defs><ellipse cx="0" cy="0" rx="6.0" ry="2.6" fill="url(#g21)" opacity="1.0" transform="translate(162.90,531.20) rotate(0)"/><defs><radialGradient id="g22"><stop offset="0" stop-color="#e02018" stop-opacity="1"/><stop offset="0.12" stop-color="#e85020" stop-opacity="1"/><stop offset="0.26" stop-color="#f0d040" stop-opacity="1"/><stop offset="0.42" stop-color="#70c860" stop-opacity="1"/><stop offset="0.62" stop-color="#40c0d8" stop-opacity="1"/><stop offset="0.84" stop-color="#3a70d0" stop-opacity="0.85"/><stop offset="1" stop-color="#3454c4" stop-opacity="0"/></radialGradient></defs><ellipse cx="0" cy="0" rx="3.8" ry="2.0" fill="url(#g22)" opacity="1.0" transform="translate(161.40,531.20) rotate(0)"/><ellipse cx="0" cy="0" rx="20" ry="10.3" transform="translate(185.80,516.30) rotate(-37)" fill="none" stroke="#222" stroke-width="0.9"/>
<rect x="146.60" y="549.70" width="61.00" height="62.60" fill="#fff" stroke="#606060" stroke-width="1.15"/><path d="M146.60 549.70V612.30H207.60" fill="none" stroke="#2a2a2a" stroke-width="1"/><path d="M145.3 554.2h1.6M145.3 558.6h1.6M145.3 563.1h1.6M145.3 567.6h1.6M145.3 572.1h1.6M145.3 576.5h1.6M145.3 581.0h1.6M145.3 585.5h1.6M145.3 589.9h1.6M145.3 594.4h1.6M145.3 598.9h1.6M145.3 603.4h1.6M145.3 607.8h1.6M151.0 612.0v1.7M155.3 612.0v1.7M159.7 612.0v1.7M164.0 612.0v1.7M168.4 612.0v1.7M172.7 612.0v1.7M177.1 612.0v1.7M181.5 612.0v1.7M185.8 612.0v1.7M190.2 612.0v1.7M194.5 612.0v1.7M198.9 612.0v1.7M203.2 612.0v1.7" stroke="#333" stroke-width="0.6" fill="none"/><rect x="144.90" y="597.90" width="1.8" height="1.9" fill="#111"/><rect x="159.41" y="612.10" width="2" height="1.7" fill="#111"/><path transform="translate(146.60,549.70)" d="M11.7 48.9h0M12.5 47.8h0M15.7 49.3h0M15.2 50.5h0M15.7 50.4h0M17.7 48.4h0M9.4 47.0h0M16.7 47.1h0M12.0 46.3h0M17.6 49.4h0M18.0 45.4h0M16.2 49.4h0M9.1 48.5h0M15.5 47.6h0M19.9 47.1h0M14.0 50.3h0M18.6 49.8h0M14.9 47.7h0M16.2 47.0h0M16.8 48.1h0M17.8 48.4h0M14.1 50.0h0M14.5 48.1h0M19.5 47.8h0M20.5 49.4h0M15.4 46.5h0M13.5 47.4h0M17.2 47.3h0M17.5 48.8h0M19.9 45.8h0M14.0 48.3h0M14.2 47.9h0M13.9 47.4h0M14.1 49.5h0M18.8 47.3h0M14.1 50.2h0M12.7 47.1h0M11.4 48.9h0M14.7 48.3h0M14.0 48.5h0M16.1 48.2h0M14.8 47.1h0M17.9 46.7h0M17.5 46.5h0M19.8 48.5h0M18.0 48.0h0M17.1 46.7h0M18.0 47.2h0M15.8 46.8h0M13.4 49.0h0M13.0 47.9h0M16.1 46.8h0M18.3 47.4h0M9.9 49.1h0M12.9 47.6h0M13.0 47.0h0M17.2 48.0h0M14.5 49.1h0M12.8 48.1h0M12.9 49.3h0M14.4 48.3h0M16.7 49.5h0M14.4 48.6h0M15.9 48.0h0M16.0 47.7h0M15.4 48.5h0M14.8 49.8h0M21.4 48.7h0M12.5 47.9h0M10.0 47.6h0M16.9 48.8h0M16.9 49.2h0M16.2 49.8h0M8.3 46.6h0M18.7 47.1h0M17.9 47.9h0M13.9 46.7h0M14.2 47.5h0M17.7 48.5h0M15.2 47.6h0M15.9 47.0h0M13.8 49.0h0M14.1 47.4h0M12.6 46.2h0M12.7 49.9h0M17.2 46.0h0M12.1 47.4h0M18.4 47.9h0M22.4 47.8h0M22.2 48.7h0M16.6 48.7h0M16.2 48.4h0M11.8 46.5h0M12.6 49.1h0M13.8 47.8h0M19.2 48.9h0M9.0 48.5h0M15.0 48.2h0M18.7 46.6h0M17.7 47.7h0M16.6 47.3h0M17.9 46.7h0M15.1 48.4h0M11.6 47.5h0M9.7 47.8h0M16.1 48.7h0M16.6 48.0h0M17.3 46.2h0M15.2 46.8h0M13.8 47.7h0M19.4 48.4h0M17.5 49.3h0M16.1 47.6h0M15.0 48.3h0M17.9 50.0h0M13.3 46.6h0M12.7 48.8h0M13.6 47.8h0M15.6 48.5h0M14.4 48.9h0M14.2 47.5h0M14.3 49.3h0M14.4 47.6h0M12.0 48.3h0M16.6 47.3h0M17.4 48.9h0M15.7 47.6h0M14.2 49.2h0M15.0 48.1h0M18.5 46.9h0M15.5 48.2h0M15.0 49.1h0M13.3 44.5h0M18.8 47.9h0M15.9 47.3h0M15.2 50.1h0M11.5 46.3h0M16.4 49.8h0M17.6 47.1h0M20.8 48.0h0M16.8 46.0h0M13.0 46.6h0M16.0 48.0h0M18.3 46.9h0M12.4 46.8h0M17.0 49.4h0M20.2 46.8h0M14.3 48.3h0M14.0 47.5h0M20.6 45.1h0M26.8 44.5h0M30.9 44.9h0M33.6 49.4h0M40.6 46.4h0M15.4 46.1h0M28.8 44.9h0M22.4 49.8h0M15.2 46.0h0M15.6 48.1h0M34.4 47.5h0M27.4 48.6h0M40.1 47.1h0M30.3 46.5h0M23.3 46.7h0M27.0 49.6h0M26.7 48.3h0M28.0 51.0h0M19.7 46.2h0M33.1 44.9h0M24.7 48.5h0M24.5 45.6h0M17.2 47.5h0M33.2 46.7h0M37.9 41.9h0M25.4 29.7h0M26.5 52.5h0M30.9 55.3h0M13.3 58.0h0M3.0 10.8h0M17.4 33.3h0M32.3 44.9h0M45.6 38.8h0M8.1 52.4h0M17.4 56.2h0M38.6 9.8h0M25.6 55.7h0M32.9 30.1h0M55.7 55.0h0M16.2 19.3h0M47.6 27.4h0M47.2 5.9h0M14.0 24.0h0M30.3 38.8h0M18.7 45.7h0M28.0 39.8h0M25.8 43.3h0M23.3 45.6h0M34.1 37.4h0M26.7 43.3h0M19.2 46.9h0M21.7 45.9h0M25.9 40.9h0M33.6 37.7h0M22.1 45.1h0M17.8 47.0h0M27.5 39.7h0M25.1 40.4h0M26.1 43.5h0M30.8 38.1h0M27.1 40.9h0M30.0 38.7h0M27.9 37.3h0M25.9 41.2h0M33.4 35.9h0M29.1 39.8h0M18.8 46.1h0M31.2 38.0h0M28.5 38.7h0M30.3 37.4h0M29.1 43.2h0M23.4 43.7h0M32.9 36.2h0M29.1 38.6h0M33.4 38.0h0M33.1 37.0h0M25.6 40.9h0M22.6 42.8h0M27.1 40.5h0M30.1 39.2h0M19.7 48.5h0M29.8 38.7h0M26.4 39.9h0M30.3 37.6h0M25.5 43.6h0M33.6 39.4h0M31.9 37.9h0M31.2 38.5h0M30.2 38.8h0M24.9 42.8h0M23.2 43.6h0M28.8 37.9h0M31.3 37.6h0M19.7 45.4h0M28.1 39.1h0M23.6 42.4h0M28.9 39.3h0M21.1 45.6h0M20.5 46.9h0M32.9 37.7h0M25.6 42.8h0M33.5 36.5h0M18.6 46.8h0M20.8 43.9h0M23.9 43.3h0M28.7 40.2h0M29.0 38.7h0M27.9 38.6h0M29.2 39.4h0M21.6 44.6h0M30.3 38.4h0M30.8 38.5h0M28.2 41.1h0M25.8 41.5h0M22.3 43.9h0M32.4 37.0h0M26.5 41.7h0M17.9 45.3h0M21.5 47.8h0M21.3 45.5h0M24.5 45.0h0M21.4 43.8h0M16.7 47.6h0M30.5 36.4h0M25.9 42.6h0M18.4 46.7h0M26.8 41.5h0M22.7 45.1h0M30.8 37.9h0M27.3 40.6h0M28.6 38.9h0M19.7 47.1h0M29.1 39.2h0M25.6 41.9h0M31.5 36.5h0M24.2 44.0h0M21.3 45.1h0M30.6 38.8h0M28.6 39.8h0M27.4 42.3h0M33.5 36.8h0M24.9 42.0h0M25.3 40.4h0M24.7 42.9h0M20.4 45.8h0M31.1 37.6h0M29.6 38.7h0M26.6 39.4h0M32.1 38.3h0M23.4 45.8h0M25.7 41.8h0M26.2 41.1h0M23.1 43.1h0M21.4 45.8h0M18.2 46.2h0M26.0 43.0h0M32.3 37.0h0M21.7 43.3h0M26.1 44.2h0M22.1 41.8h0M28.7 40.9h0M28.7 40.9h0M25.8 40.7h0M33.6 37.3h0M32.6 36.3h0M32.4 39.5h0M26.1 42.8h0M33.5 37.2h0M18.5 46.0h0M32.3 38.4h0M21.6 44.7h0M33.5 37.7h0M18.9 44.6h0M25.7 41.0h0M31.1 36.9h0M26.1 40.9h0M22.3 44.9h0M30.7 36.1h0M31.0 38.6h0M34.3 36.8h0M27.7 38.9h0M28.4 39.0h0M21.0 44.6h0M25.7 41.3h0M27.3 40.2h0M23.9 45.0h0M18.3 47.7h0M28.6 40.3h0M26.9 42.0h0M26.8 42.7h0M20.6 44.3h0M32.6 35.2h0M26.1 41.2h0M20.4 46.7h0M28.5 38.4h0M21.3 44.6h0M30.3 38.5h0M26.0 40.8h0M21.5 46.9h0M19.6 47.2h0M20.7 45.7h0M30.7 36.5h0M22.3 44.2h0M28.9 39.6h0M41.0 30.7h0M36.0 34.7h0M35.8 33.7h0M37.2 34.7h0M40.7 27.9h0M45.8 27.3h0M36.0 34.6h0M41.5 30.1h0M37.0 33.4h0M43.2 26.2h0M34.5 33.8h0M40.4 29.8h0M42.9 30.7h0M38.5 33.0h0M46.8 28.3h0M42.7 28.1h0M35.6 35.2h0M38.1 31.6h0M36.4 33.8h0M35.5 34.7h0M42.1 29.0h0M36.2 31.0h0M41.9 30.6h0M36.0 32.4h0M41.2 29.8h0M36.8 33.5h0M36.4 34.6h0M37.6 32.5h0M44.8 27.4h0M43.2 30.5h0M45.9 25.5h0M41.8 31.5h0M34.1 34.4h0M37.5 33.0h0M43.9 30.2h0M38.7 32.7h0M47.5 26.9h0M44.4 28.2h0M42.9 27.9h0M45.5 28.5h0M37.1 31.0h0M40.3 30.9h0M36.6 32.4h0M44.8 29.5h0M42.1 28.8h0M40.1 32.4h0M46.1 25.7h0M45.0 27.3h0M41.4 30.4h0M44.1 27.5h0M41.1 30.8h0M37.3 31.3h0M44.1 29.4h0M36.3 35.8h0M44.6 26.9h0M39.8 30.4h0M36.5 31.3h0M38.6 32.6h0M37.8 30.9h0M35.6 34.1h0M34.9 35.5h0M39.7 32.8h0M41.0 32.2h0M37.0 32.5h0M39.5 32.1h0M33.3 37.4h0M42.2 28.7h0M37.2 33.1h0M41.7 28.7h0" stroke="#4060c8" stroke-width="0.8" stroke-linecap="round" opacity="0.4" fill="none"/><defs><radialGradient id="g23"><stop offset="0" stop-color="#3454c4" stop-opacity="0.95"/><stop offset="0.6" stop-color="#3454c4" stop-opacity="0.7"/><stop offset="1" stop-color="#3454c4" stop-opacity="0"/></radialGradient></defs><ellipse cx="0" cy="0" rx="6.0" ry="2.6" fill="url(#g23)" opacity="1.0" transform="translate(162.50,597.50) rotate(0)"/><defs><radialGradient id="g24"><stop offset="0" stop-color="#e02018" stop-opacity="1"/><stop offset="0.12" stop-color="#e85020" stop-opacity="1"/><stop offset="0.26" stop-color="#f0d040" stop-opacity="1"/><stop offset="0.42" stop-color="#70c860" stop-opacity="1"/><stop offset="0.62" stop-color="#40c0d8" stop-opacity="1"/><stop offset="0.84" stop-color="#3a70d0" stop-opacity="0.85"/><stop offset="1" stop-color="#3454c4" stop-opacity="0"/></radialGradient></defs><ellipse cx="0" cy="0" rx="3.8" ry="2.0" fill="url(#g24)" opacity="1.0" transform="translate(161.00,597.50) rotate(0)"/><ellipse cx="0" cy="0" rx="20" ry="10.3" transform="translate(185.40,582.60) rotate(-37)" fill="none" stroke="#222" stroke-width="0.9"/>
<rect x="146.60" y="615.80" width="61.00" height="62.00" fill="#fff" stroke="#606060" stroke-width="1.15"/><path d="M146.60 615.80V677.80H207.60" fill="none" stroke="#2a2a2a" stroke-width="1"/><path d="M145.3 620.2h1.6M145.3 624.7h1.6M145.3 629.1h1.6M145.3 633.5h1.6M145.3 637.9h1.6M145.3 642.4h1.6M145.3 646.8h1.6M145.3 651.2h1.6M145.3 655.7h1.6M145.3 660.1h1.6M145.3 664.5h1.6M145.3 668.9h1.6M145.3 673.4h1.6M151.0 677.5v1.7M155.3 677.5v1.7M159.7 677.5v1.7M164.0 677.5v1.7M168.4 677.5v1.7M172.7 677.5v1.7M177.1 677.5v1.7M181.5 677.5v1.7M185.8 677.5v1.7M190.2 677.5v1.7M194.5 677.5v1.7M198.9 677.5v1.7M203.2 677.5v1.7" stroke="#333" stroke-width="0.6" fill="none"/><rect x="144.90" y="663.54" width="1.8" height="1.9" fill="#111"/><rect x="159.41" y="677.60" width="2" height="1.7" fill="#111"/><path transform="translate(146.60,615.80)" d="M18.6 47.5h0M12.6 47.4h0M15.7 48.1h0M12.9 48.5h0M15.8 46.9h0M16.6 47.7h0M15.1 47.6h0M15.7 48.3h0M19.3 47.6h0M10.5 47.1h0M17.8 47.5h0M16.8 47.2h0M14.0 46.0h0M12.7 48.8h0M15.3 47.4h0M15.5 47.1h0M14.9 48.5h0M14.1 50.1h0M10.7 48.6h0M16.7 48.4h0M18.3 47.9h0M18.4 47.4h0M15.1 47.2h0M17.1 48.1h0M19.2 47.3h0M19.5 47.1h0M15.3 48.5h0M14.3 47.4h0M12.2 47.9h0M15.3 50.5h0M20.9 48.6h0M22.0 48.5h0M14.1 48.1h0M12.5 46.7h0M13.0 48.5h0M14.4 47.1h0M13.9 49.2h0M10.7 48.3h0M11.5 48.3h0M13.6 47.6h0M13.2 48.8h0M11.4 48.1h0M13.6 46.4h0M15.6 49.8h0M17.5 47.3h0M17.8 47.1h0M15.3 48.2h0M13.9 46.4h0M13.9 46.9h0M15.6 47.8h0M12.6 46.8h0M19.9 47.3h0M8.5 47.0h0M21.5 48.0h0M12.5 47.7h0M13.6 47.2h0M10.0 47.8h0M13.3 45.7h0M13.7 47.8h0M11.1 47.9h0M14.0 49.1h0M14.2 47.0h0M19.5 47.8h0M13.0 50.6h0M19.4 47.9h0M10.8 46.7h0M18.3 46.1h0M14.8 46.4h0M15.0 46.2h0M12.9 47.9h0M16.6 48.7h0M9.9 47.5h0M15.8 49.9h0M15.9 46.9h0M12.1 45.4h0M18.7 46.7h0M14.1 48.6h0M13.8 48.3h0M10.7 48.3h0M15.2 47.0h0M13.5 46.7h0M16.9 48.2h0M15.4 48.2h0M14.0 46.5h0M11.4 49.5h0M14.0 48.2h0M13.0 48.3h0M16.5 48.6h0M14.3 46.5h0M18.6 48.6h0M14.4 47.5h0M14.5 49.3h0M16.6 46.1h0M12.7 49.6h0M11.7 47.5h0M14.8 48.6h0M16.3 48.2h0M15.1 47.4h0M13.9 46.9h0M14.2 48.8h0M17.5 46.7h0M12.2 48.3h0M14.8 47.7h0M16.2 49.9h0M16.8 46.4h0M19.3 47.4h0M12.3 46.2h0M16.7 48.8h0M15.6 47.2h0M14.8 47.5h0M17.6 48.2h0M14.2 46.1h0M11.7 48.3h0M13.6 48.4h0M16.4 48.7h0M18.8 47.3h0M12.2 48.2h0M12.1 46.8h0M12.2 47.7h0M14.2 49.4h0M18.4 47.1h0M17.4 48.4h0M14.5 47.3h0M16.4 47.4h0M19.1 46.9h0M12.5 47.2h0M17.8 47.1h0M21.8 46.3h0M19.7 49.3h0M10.4 47.6h0M18.3 49.3h0M11.4 48.0h0M14.5 48.1h0M10.1 46.8h0M13.8 48.5h0M14.8 46.7h0M18.0 47.9h0M16.9 49.7h0M13.9 46.5h0M13.4 48.0h0M11.3 48.5h0M13.3 49.1h0M15.7 48.7h0M17.5 47.7h0M14.5 48.9h0M17.0 45.6h0M14.6 50.6h0M13.7 47.8h0M16.8 48.0h0M13.9 48.6h0M33.1 50.4h0M43.8 43.7h0M35.9 45.8h0M42.1 45.3h0M24.0 47.1h0M35.9 47.6h0M43.5 49.9h0M32.1 47.2h0M38.5 47.6h0M24.6 51.5h0M39.1 45.6h0M41.9 48.9h0M16.9 47.9h0M32.6 46.5h0M24.3 46.8h0M35.3 47.8h0M38.2 48.2h0M42.5 50.3h0M27.5 47.7h0M28.2 48.6h0M41.4 49.6h0M35.1 47.3h0M4.9 21.5h0M48.5 53.0h0M38.8 19.3h0M27.6 16.0h0M5.9 34.9h0M42.0 27.9h0M9.1 51.0h0M50.2 27.2h0M5.9 22.6h0M30.9 10.2h0M47.4 5.1h0M55.5 42.6h0M8.3 54.4h0M22.9 17.8h0M55.7 9.5h0M33.5 26.5h0M27.7 32.8h0M20.9 23.9h0M46.6 14.8h0M47.4 27.8h0M37.6 33.9h0M35.5 37.5h0M32.9 37.2h0M24.9 42.7h0M31.8 38.8h0M37.9 32.5h0M35.8 36.2h0M33.5 37.0h0M39.9 34.1h0M30.2 37.7h0M31.2 38.8h0M22.8 45.8h0M33.5 38.6h0M27.4 42.8h0M31.9 37.6h0M24.9 40.9h0M33.6 37.1h0M34.6 35.8h0M22.9 45.8h0M24.3 44.5h0M27.4 40.6h0M26.7 41.4h0M29.3 38.6h0M24.0 47.2h0M31.0 38.5h0M26.3 42.2h0M32.2 39.1h0M27.8 41.0h0M32.4 38.8h0M31.2 37.8h0M23.2 43.8h0M28.1 41.1h0M22.4 44.1h0M28.8 38.5h0M27.6 41.8h0M28.6 41.7h0M23.9 43.5h0M28.0 42.5h0M22.0 44.7h0M29.7 37.6h0M27.6 40.7h0M35.5 36.0h0M24.6 41.3h0M39.1 33.5h0M31.5 38.8h0M25.4 41.0h0M39.1 34.3h0M30.8 39.5h0M26.9 39.6h0M30.9 39.8h0M27.9 42.6h0M25.5 43.8h0M33.7 37.9h0M36.3 36.4h0M33.4 39.0h0M35.6 35.6h0M27.0 41.4h0M30.4 39.2h0M28.8 38.7h0M32.3 38.5h0M35.8 36.0h0M35.2 35.6h0M20.6 44.2h0M23.6 41.8h0M30.0 39.2h0M33.4 36.6h0M37.4 36.6h0M40.7 33.1h0M41.5 29.9h0M41.5 32.1h0M43.5 28.5h0M40.2 30.4h0M39.6 33.7h0M41.7 28.7h0M42.2 28.9h0M41.6 30.7h0M44.0 29.4h0M42.0 29.9h0M39.6 30.4h0M41.6 31.4h0M41.8 30.0h0M43.2 29.5h0M42.0 29.8h0M39.1 32.1h0M41.0 31.2h0M43.5 27.5h0M41.2 29.4h0M43.8 29.2h0M42.6 29.5h0" stroke="#4060c8" stroke-width="0.8" stroke-linecap="round" opacity="0.4" fill="none"/><defs><radialGradient id="g25"><stop offset="0" stop-color="#3454c4" stop-opacity="0.95"/><stop offset="0.6" stop-color="#3454c4" stop-opacity="0.7"/><stop offset="1" stop-color="#3454c4" stop-opacity="0"/></radialGradient></defs><ellipse cx="0" cy="0" rx="6.0" ry="2.6" fill="url(#g25)" opacity="1.0" transform="translate(162.50,663.60) rotate(0)"/><defs><radialGradient id="g26"><stop offset="0" stop-color="#e02018" stop-opacity="1"/><stop offset="0.12" stop-color="#e85020" stop-opacity="1"/><stop offset="0.26" stop-color="#f0d040" stop-opacity="1"/><stop offset="0.42" stop-color="#70c860" stop-opacity="1"/><stop offset="0.62" stop-color="#40c0d8" stop-opacity="1"/><stop offset="0.84" stop-color="#3a70d0" stop-opacity="0.85"/><stop offset="1" stop-color="#3454c4" stop-opacity="0"/></radialGradient></defs><ellipse cx="0" cy="0" rx="3.8" ry="2.0" fill="url(#g26)" opacity="1.0" transform="translate(161.00,663.60) rotate(0)"/><ellipse cx="0" cy="0" rx="20" ry="10.3" transform="translate(185.40,648.70) rotate(-37)" fill="none" stroke="#222" stroke-width="0.9"/>
<rect x="147.20" y="682.10" width="61.00" height="61.50" fill="#fff" stroke="#606060" stroke-width="1.15"/><path d="M147.20 682.10V743.60H208.20" fill="none" stroke="#2a2a2a" stroke-width="1"/><path d="M145.9 686.5h1.6M145.9 690.9h1.6M145.9 695.3h1.6M145.9 699.7h1.6M145.9 704.1h1.6M145.9 708.5h1.6M145.9 712.9h1.6M145.9 717.2h1.6M145.9 721.6h1.6M145.9 726.0h1.6M145.9 730.4h1.6M145.9 734.8h1.6M145.9 739.2h1.6M151.6 743.3v1.7M155.9 743.3v1.7M160.3 743.3v1.7M164.6 743.3v1.7M169.0 743.3v1.7M173.3 743.3v1.7M177.7 743.3v1.7M182.1 743.3v1.7M186.4 743.3v1.7M190.8 743.3v1.7M195.1 743.3v1.7M199.5 743.3v1.7M203.8 743.3v1.7" stroke="#333" stroke-width="0.6" fill="none"/><rect x="145.50" y="729.46" width="1.8" height="1.9" fill="#111"/><rect x="160.01" y="743.40" width="2" height="1.7" fill="#111"/><path transform="translate(147.20,682.10)" d="M22.1 48.3h0M18.2 50.8h0M17.3 47.5h0M12.8 47.7h0M11.5 48.7h0M16.3 47.1h0M11.6 47.4h0M14.3 47.5h0M13.1 48.5h0M19.7 46.9h0M14.4 47.1h0M17.1 47.5h0M14.6 48.3h0M11.5 46.9h0M13.9 46.0h0M14.3 46.4h0M15.3 50.3h0M19.6 47.7h0M20.8 47.8h0M18.5 46.6h0M16.9 46.4h0M18.8 49.2h0M13.2 48.9h0M17.8 47.1h0M15.0 49.1h0M18.9 46.5h0M21.1 47.7h0M16.4 46.7h0M17.9 49.9h0M21.5 48.4h0M14.2 47.2h0M17.5 49.2h0M17.9 48.3h0M16.5 48.1h0M15.4 49.3h0M20.4 48.1h0M14.0 47.2h0M15.2 47.4h0M15.3 49.0h0M17.8 46.6h0M21.8 48.4h0M16.3 48.3h0M14.5 47.6h0M13.9 48.2h0M13.1 48.1h0M13.3 48.2h0M11.6 48.0h0M12.6 48.4h0M14.6 48.8h0M17.9 48.3h0M13.9 47.8h0M14.0 49.0h0M11.7 47.9h0M15.2 49.7h0M18.9 49.6h0M14.3 48.5h0M12.2 49.9h0M13.2 45.5h0M18.3 47.7h0M15.7 47.5h0M16.2 47.1h0M13.4 49.1h0M12.1 47.7h0M14.3 48.7h0M15.9 47.7h0M19.1 48.0h0M17.1 48.2h0M15.3 48.0h0M10.0 49.5h0M15.9 47.6h0M21.0 47.7h0M16.4 47.3h0M14.8 48.3h0M15.1 46.2h0M14.3 50.3h0M14.8 46.2h0M10.9 48.7h0M11.1 47.3h0M16.3 47.6h0M17.2 48.0h0M17.5 47.4h0M13.0 48.7h0M12.7 47.5h0M16.6 46.8h0M15.5 47.3h0M15.4 46.7h0M14.0 47.8h0M16.4 47.4h0M15.7 46.6h0M21.9 48.0h0M15.4 47.3h0M18.1 49.9h0M12.2 48.2h0M15.2 47.9h0M17.2 48.2h0M17.3 48.5h0M12.0 48.9h0M19.2 48.1h0M15.4 49.2h0M14.8 48.1h0M15.2 47.4h0M16.3 47.0h0M18.0 48.7h0M11.7 45.2h0M15.7 48.2h0M17.2 47.4h0M13.0 46.9h0M18.9 47.6h0M16.0 47.2h0M16.2 46.7h0M15.7 46.4h0M17.1 48.6h0M14.1 47.4h0M14.4 48.5h0M10.2 48.3h0M18.9 47.3h0M12.6 45.7h0M17.6 46.8h0M17.7 48.0h0M15.0 49.2h0M14.3 48.1h0M13.9 46.9h0M10.1 48.1h0M15.9 47.3h0M11.4 47.7h0M16.0 48.7h0M17.1 45.4h0M14.7 46.8h0M12.8 45.9h0M16.2 48.0h0M10.5 46.3h0M17.0 47.5h0M12.8 49.1h0M14.1 48.1h0M11.9 48.0h0M14.4 49.4h0M12.8 47.3h0M14.4 50.4h0M17.5 48.1h0M13.3 48.6h0M15.1 50.0h0M14.7 49.6h0M11.5 47.2h0M17.1 46.9h0M18.0 48.0h0M15.8 47.8h0M16.6 48.0h0M18.6 46.7h0M15.4 48.2h0M18.1 48.0h0M27.9 49.3h0M31.3 46.8h0M32.3 48.1h0M20.8 49.1h0M25.0 46.4h0M40.4 46.5h0M32.7 48.1h0M41.3 49.4h0M14.9 46.2h0M19.3 49.1h0M37.5 49.2h0M25.7 47.3h0M22.1 47.8h0M28.4 47.6h0M17.1 47.1h0M31.0 45.5h0M35.1 50.2h0M40.6 51.1h0M22.3 45.8h0M41.7 46.9h0M33.2 46.6h0M23.3 47.9h0M31.4 5.1h0M22.4 23.4h0M39.2 40.2h0M8.1 20.7h0M49.1 7.9h0M23.1 10.2h0M17.8 57.0h0M27.5 53.0h0M6.9 37.8h0M32.1 18.2h0M45.1 13.0h0M38.0 40.0h0M7.9 36.4h0M18.6 54.0h0M54.0 20.9h0M53.6 25.9h0M27.9 35.2h0M41.3 37.4h0M56.0 21.6h0M50.2 10.1h0M26.0 42.5h0M33.7 39.8h0M27.5 40.8h0M26.4 42.3h0M28.7 39.5h0M21.2 43.0h0M20.5 43.9h0M27.5 41.7h0M30.0 38.6h0M26.0 42.5h0M19.0 46.5h0M30.2 37.5h0M22.6 41.7h0M32.6 37.0h0M25.1 40.0h0M20.6 43.2h0M22.9 47.1h0M22.8 43.3h0M16.4 46.3h0M20.9 45.3h0M24.1 43.1h0M27.8 41.1h0M25.5 42.7h0M22.0 43.1h0M27.3 40.2h0M20.6 45.5h0M22.4 46.2h0M26.2 40.1h0M27.5 41.3h0M23.4 42.7h0M24.1 41.2h0M21.4 47.5h0M28.7 40.1h0M18.6 44.0h0M31.6 41.0h0M20.2 46.3h0M23.9 42.7h0M22.1 40.1h0M21.8 43.9h0M30.3 38.3h0M32.1 39.0h0M29.9 39.4h0M20.5 45.4h0M23.4 42.1h0M28.8 40.7h0M25.2 42.7h0M29.5 41.5h0M24.2 43.7h0M26.5 42.1h0M19.8 43.7h0M20.4 43.8h0M33.6 36.4h0M19.8 44.2h0M27.6 45.0h0M34.2 38.6h0M24.4 41.6h0M32.6 35.9h0M26.3 41.6h0M19.0 46.6h0M25.8 43.7h0M23.9 43.5h0M31.2 39.9h0M28.6 41.5h0M31.2 39.8h0M27.6 38.9h0M21.7 43.5h0M26.8 39.8h0M28.9 39.8h0M30.0 40.8h0M24.3 40.1h0M29.0 38.2h0M22.5 45.1h0M30.2 36.7h0M27.8 40.3h0M30.5 39.3h0M28.8 41.3h0M19.2 46.1h0M20.3 49.4h0M23.1 43.7h0M24.9 43.3h0M32.0 38.5h0M22.2 45.1h0M26.0 42.9h0M20.3 44.6h0M21.8 42.8h0M33.0 34.2h0M22.8 45.3h0M24.6 43.5h0M18.5 47.1h0M24.8 46.1h0M26.8 40.4h0M25.2 43.3h0M32.8 37.2h0M29.0 39.3h0M20.3 44.1h0M32.1 37.6h0M18.2 46.1h0M27.1 39.9h0M25.3 44.9h0M31.2 37.0h0M32.6 38.4h0M27.6 41.5h0M21.3 43.2h0M34.0 36.7h0M31.4 39.9h0M33.8 39.8h0M31.6 38.4h0M24.8 42.3h0M33.3 36.3h0M24.7 41.8h0M28.3 42.0h0M21.3 45.8h0M29.2 39.2h0M27.2 43.7h0M23.1 43.1h0M23.4 42.5h0M22.5 47.0h0M26.6 42.8h0M18.7 48.4h0M30.9 37.8h0M18.8 46.6h0M18.9 44.3h0M19.7 46.9h0M30.5 39.4h0M19.5 43.6h0M33.4 36.8h0M17.7 45.9h0M32.9 37.7h0M33.1 37.2h0M32.2 40.3h0M30.7 38.6h0M20.1 45.4h0M23.3 41.8h0M20.9 44.7h0M26.0 41.0h0M20.6 44.6h0M25.2 41.4h0M25.7 39.8h0M20.6 44.1h0M21.9 44.4h0M21.9 44.1h0M26.4 40.9h0M27.9 42.1h0M19.6 44.1h0M29.3 41.1h0M19.6 44.2h0M32.0 37.8h0M19.2 43.5h0M25.3 41.2h0M23.0 43.2h0M22.8 44.6h0M27.2 41.0h0M20.1 44.9h0M27.9 42.4h0M28.1 39.9h0M25.3 43.9h0M32.8 39.0h0M33.1 37.3h0M30.0 39.6h0M21.0 45.7h0M18.2 46.4h0M26.6 41.3h0M24.1 43.0h0M33.8 36.6h0M34.3 36.7h0M30.0 37.7h0M25.0 41.5h0M27.1 38.2h0M19.2 46.0h0M40.3 33.2h0M44.2 27.0h0M42.0 30.4h0M37.6 33.1h0M35.2 37.6h0M46.7 28.5h0M41.2 31.4h0M34.9 34.6h0M36.2 35.6h0M33.9 34.8h0M42.9 30.4h0M37.0 34.7h0M40.3 30.9h0M42.5 31.5h0M43.5 28.6h0M44.4 27.1h0M33.3 36.0h0M39.9 31.0h0M39.4 33.2h0M41.4 31.1h0M42.9 30.8h0M43.6 28.8h0M46.2 27.1h0M40.0 30.8h0M35.3 35.4h0M42.2 29.0h0M39.1 33.6h0M36.5 33.7h0M36.1 34.8h0M46.4 27.3h0M40.6 32.2h0M41.7 33.5h0M33.0 37.9h0M41.3 30.7h0M35.9 36.9h0M44.4 31.2h0M43.5 28.1h0M34.8 36.7h0M39.8 33.3h0M39.6 30.9h0M35.9 34.5h0M40.8 33.4h0M38.3 31.1h0M39.2 30.8h0M36.7 35.4h0M39.4 31.4h0M36.8 33.4h0M43.1 29.8h0M42.8 29.8h0M41.8 33.2h0M44.7 28.6h0M36.6 36.5h0M37.9 35.2h0M41.3 32.1h0M34.6 37.4h0M36.8 34.7h0M43.4 27.4h0M42.7 29.3h0M36.8 35.7h0M44.7 29.6h0M45.3 27.8h0M36.2 35.1h0M38.8 33.6h0M42.7 31.8h0M43.3 29.3h0M40.8 32.5h0M34.8 35.0h0M44.9 28.5h0M36.2 34.3h0M39.5 31.4h0M41.1 30.2h0M41.9 33.1h0M45.9 25.9h0M36.5 36.2h0M37.2 36.4h0M42.2 30.7h0M33.6 35.4h0M38.5 33.3h0M41.3 32.6h0M43.9 26.7h0M38.8 30.9h0M36.8 34.6h0M40.1 32.2h0M38.7 33.1h0M34.1 37.2h0M40.7 32.2h0M45.9 29.8h0M43.3 28.6h0M36.3 37.0h0M34.6 35.9h0M39.5 31.5h0" stroke="#4060c8" stroke-width="0.8" stroke-linecap="round" opacity="0.4" fill="none"/><defs><radialGradient id="g27"><stop offset="0" stop-color="#3454c4" stop-opacity="0.95"/><stop offset="0.6" stop-color="#3454c4" stop-opacity="0.7"/><stop offset="1" stop-color="#3454c4" stop-opacity="0"/></radialGradient></defs><ellipse cx="0" cy="0" rx="6.0" ry="2.6" fill="url(#g27)" opacity="1.0" transform="translate(163.10,729.90) rotate(0)"/><defs><radialGradient id="g28"><stop offset="0" stop-color="#e02018" stop-opacity="1"/><stop offset="0.12" stop-color="#e85020" stop-opacity="1"/><stop offset="0.26" stop-color="#f0d040" stop-opacity="1"/><stop offset="0.42" stop-color="#70c860" stop-opacity="1"/><stop offset="0.62" stop-color="#40c0d8" stop-opacity="1"/><stop offset="0.84" stop-color="#3a70d0" stop-opacity="0.85"/><stop offset="1" stop-color="#3454c4" stop-opacity="0"/></radialGradient></defs><ellipse cx="0" cy="0" rx="3.8" ry="2.0" fill="url(#g28)" opacity="1.0" transform="translate(161.60,729.90) rotate(0)"/><ellipse cx="0" cy="0" rx="20" ry="10.3" transform="translate(186.00,715.00) rotate(-37)" fill="none" stroke="#222" stroke-width="0.9"/>
<text x="96.00" y="543.90" font-size="12" fill="#111" text-anchor="start" textLength="22.5" lengthAdjust="spacingAndGlyphs">9.83</text>
<text x="96.50" y="608.80" font-size="12" fill="#111" text-anchor="start" textLength="21.8" lengthAdjust="spacingAndGlyphs">10.9</text>
<text x="95.70" y="674.40" font-size="12" fill="#111" text-anchor="start" textLength="23.1" lengthAdjust="spacingAndGlyphs">9.32</text>
<text x="97.00" y="741.80" font-size="12" fill="#111" text-anchor="start" textLength="20.5" lengthAdjust="spacingAndGlyphs">10.3</text>
<text x="149.70" y="499.60" font-size="12" fill="#111" text-anchor="start" textLength="28.9" lengthAdjust="spacingAndGlyphs">0.058</text>
<text x="150.90" y="563.60" font-size="12" fill="#111" text-anchor="start" textLength="21.8" lengthAdjust="spacingAndGlyphs">2.04</text>
<text x="153.00" y="632.80" font-size="12" fill="#3b8ad0" text-anchor="start" textLength="22.3" lengthAdjust="spacingAndGlyphs">0.68</text>
<text x="152.90" y="695.40" font-size="12" fill="#e8262c" text-anchor="start" textLength="21.6" lengthAdjust="spacingAndGlyphs">1.83</text>
<text x="9.00" y="527.80" font-size="10.6" fill="#111" text-anchor="start" textLength="23.8" lengthAdjust="spacingAndGlyphs">eGFP</text>
<text x="1.90" y="573.90" font-size="10.6" fill="#111" text-anchor="start" textLength="41.3" lengthAdjust="spacingAndGlyphs">IFN&#945;R<tspan font-size="8.00" dy="-4.45">WT</tspan></text>
<text x="12.10" y="587.90" font-size="10.6" fill="#111" text-anchor="start" textLength="20.6" lengthAdjust="spacingAndGlyphs">OVA</text>
<text x="1.90" y="644.40" font-size="10.6" fill="#3b8ad0" text-anchor="start" textLength="40.8" lengthAdjust="spacingAndGlyphs">IFN&#945;R<tspan font-size="8.00" dy="-4.45">WT</tspan></text>
<text x="14.50" y="657.90" font-size="10.6" fill="#3b8ad0" text-anchor="start" textLength="15.9" lengthAdjust="spacingAndGlyphs">E.O</text>
<text x="-0.60" y="706.20" font-size="10.6" fill="#e8262c" text-anchor="start" textLength="43.3" lengthAdjust="spacingAndGlyphs">IFN&#945;R<tspan font-size="8.00" dy="-4.45">cKO</tspan></text>
<text x="14.50" y="720.20" font-size="10.6" fill="#e8262c" text-anchor="start" textLength="15.0" lengthAdjust="spacingAndGlyphs">E.O</text>
<line x1="44.60" y1="497.90" x2="44.60" y2="747.10" stroke="#111" stroke-width="1.2"/>
<path d="M39.60 502.50 L44.60 497.50 L49.60 502.50" fill="none" stroke="#111" stroke-width="1.2"/>
<text transform="translate(42.70,747.10) rotate(-90)" font-size="11.6" fill="#222" text-anchor="start" textLength="21.1" lengthAdjust="spacingAndGlyphs">CD8</text>
<line x1="133.70" y1="497.90" x2="133.70" y2="743.60" stroke="#111" stroke-width="1.2"/>
<path d="M128.70 502.50 L133.70 497.50 L138.70 502.50" fill="none" stroke="#111" stroke-width="1.2"/>
<text transform="translate(130.9,742.5) rotate(-90)" font-size="11" fill="#222" textLength="83" lengthAdjust="spacingAndGlyphs">SIINFEKL-H-2K<tspan font-size="7" dy="-4">b</tspan></text>
<line x1="59.70" y1="758.90" x2="114.50" y2="758.90" stroke="#111" stroke-width="1.2"/>
<path d="M110.70 754.90 L114.90 758.90 L110.70 762.90" fill="none" stroke="#111" stroke-width="1.2"/>
<text x="60.40" y="769.30" font-size="11" fill="#222" text-anchor="start" textLength="28.2" lengthAdjust="spacingAndGlyphs">TCRb</text>
<line x1="144.20" y1="759.30" x2="202.50" y2="759.30" stroke="#111" stroke-width="1.2"/>
<path d="M198.70 755.30 L202.90 759.30 L198.70 763.30" fill="none" stroke="#111" stroke-width="1.2"/>
<text x="136.3" y="770.6" font-size="11" fill="#222" textLength="82.3" lengthAdjust="spacingAndGlyphs">SIINFEKL-H-2K<tspan font-size="7" dy="-4">b</tspan></text>
<text x="57.10" y="753.70" font-size="7.9" fill="#1a1a1a" text-anchor="start" textLength="12.5" lengthAdjust="spacingAndGlyphs" stroke="#1a1a1a" stroke-width="0.22">10<tspan font-size="5.21" dy="-2.84">-3</tspan></text>
<text x="70.00" y="753.70" font-size="7.9" fill="#1a1a1a" text-anchor="start" textLength="2.9" lengthAdjust="spacingAndGlyphs" stroke="#1a1a1a" stroke-width="0.22">0</text>
<text x="73.50" y="753.70" font-size="7.9" fill="#1a1a1a" text-anchor="start" textLength="9.4" lengthAdjust="spacingAndGlyphs" stroke="#1a1a1a" stroke-width="0.22">10<tspan font-size="5.21" dy="-2.84">3</tspan></text>
<text x="92.60" y="753.70" font-size="7.9" fill="#1a1a1a" text-anchor="start" textLength="9.8" lengthAdjust="spacingAndGlyphs" stroke="#1a1a1a" stroke-width="0.22">10<tspan font-size="5.21" dy="-2.84">4</tspan></text>
<text x="109.60" y="753.70" font-size="7.9" fill="#1a1a1a" text-anchor="start" textLength="9.2" lengthAdjust="spacingAndGlyphs" stroke="#1a1a1a" stroke-width="0.22">10<tspan font-size="5.21" dy="-2.84">5</tspan></text>
<text transform="translate(54.50,691.80) rotate(-90)" font-size="7.7" fill="#1a1a1a" text-anchor="start" stroke="#1a1a1a" stroke-width="0.28">10<tspan font-size="5.54" dy="-3.23">5</tspan></text>
<text transform="translate(54.50,707.60) rotate(-90)" font-size="7.7" fill="#1a1a1a" text-anchor="start" stroke="#1a1a1a" stroke-width="0.28">10<tspan font-size="5.54" dy="-3.23">4</tspan></text>
<text transform="translate(54.50,722.70) rotate(-90)" font-size="7.7" fill="#1a1a1a" text-anchor="start" stroke="#1a1a1a" stroke-width="0.28">10<tspan font-size="5.54" dy="-3.23">3</tspan></text>
<text transform="translate(54.50,730.60) rotate(-90)" font-size="7.7" fill="#1a1a1a" text-anchor="start" stroke="#1a1a1a" stroke-width="0.28">0<tspan font-size="5.24" dy="-3.23"></tspan></text>
<text transform="translate(54.50,745.70) rotate(-90)" font-size="7.7" fill="#1a1a1a" text-anchor="start" stroke="#1a1a1a" stroke-width="0.28">10<tspan font-size="5.54" dy="-3.23">-3</tspan></text>
<text x="144.20" y="753.40" font-size="7.9" fill="#1a1a1a" text-anchor="start" textLength="13.5" lengthAdjust="spacingAndGlyphs" stroke="#1a1a1a" stroke-width="0.22">10<tspan font-size="5.21" dy="-2.84">-3</tspan></text>
<text x="159.20" y="753.40" font-size="7.9" fill="#1a1a1a" text-anchor="start" textLength="3.0" lengthAdjust="spacingAndGlyphs" stroke="#1a1a1a" stroke-width="0.22">0</text>
<text x="163.00" y="753.40" font-size="7.9" fill="#1a1a1a" text-anchor="start" textLength="12.0" lengthAdjust="spacingAndGlyphs" stroke="#1a1a1a" stroke-width="0.22">10<tspan font-size="5.21" dy="-2.84">3</tspan></text>
<text x="180.00" y="753.40" font-size="7.9" fill="#1a1a1a" text-anchor="start" textLength="10.6" lengthAdjust="spacingAndGlyphs" stroke="#1a1a1a" stroke-width="0.22">10<tspan font-size="5.21" dy="-2.84">4</tspan></text>
<text x="197.60" y="753.40" font-size="7.9" fill="#1a1a1a" text-anchor="start" textLength="10.5" lengthAdjust="spacingAndGlyphs" stroke="#1a1a1a" stroke-width="0.22">10<tspan font-size="5.21" dy="-2.84">5</tspan></text>
<text transform="translate(143.80,689.20) rotate(-90)" font-size="7.6" fill="#1a1a1a" text-anchor="start" stroke="#1a1a1a" stroke-width="0.28">10<tspan font-size="5.47" dy="-3.19">5</tspan></text>
<text transform="translate(143.80,707.30) rotate(-90)" font-size="7.6" fill="#1a1a1a" text-anchor="start" stroke="#1a1a1a" stroke-width="0.28">10<tspan font-size="5.47" dy="-3.19">4</tspan></text>
<text transform="translate(143.80,720.60) rotate(-90)" font-size="7.6" fill="#1a1a1a" text-anchor="start" stroke="#1a1a1a" stroke-width="0.28">10<tspan font-size="5.47" dy="-3.19">3</tspan></text>
<text transform="translate(143.80,731.60) rotate(-90)" font-size="7.6" fill="#1a1a1a" text-anchor="start" stroke="#1a1a1a" stroke-width="0.28">0<tspan font-size="5.17" dy="-3.19"></tspan></text>
<text transform="translate(143.80,745.70) rotate(-90)" font-size="7.6" fill="#1a1a1a" text-anchor="start" stroke="#1a1a1a" stroke-width="0.28">10<tspan font-size="5.47" dy="-3.19">-3</tspan></text>
</svg></body></html>
